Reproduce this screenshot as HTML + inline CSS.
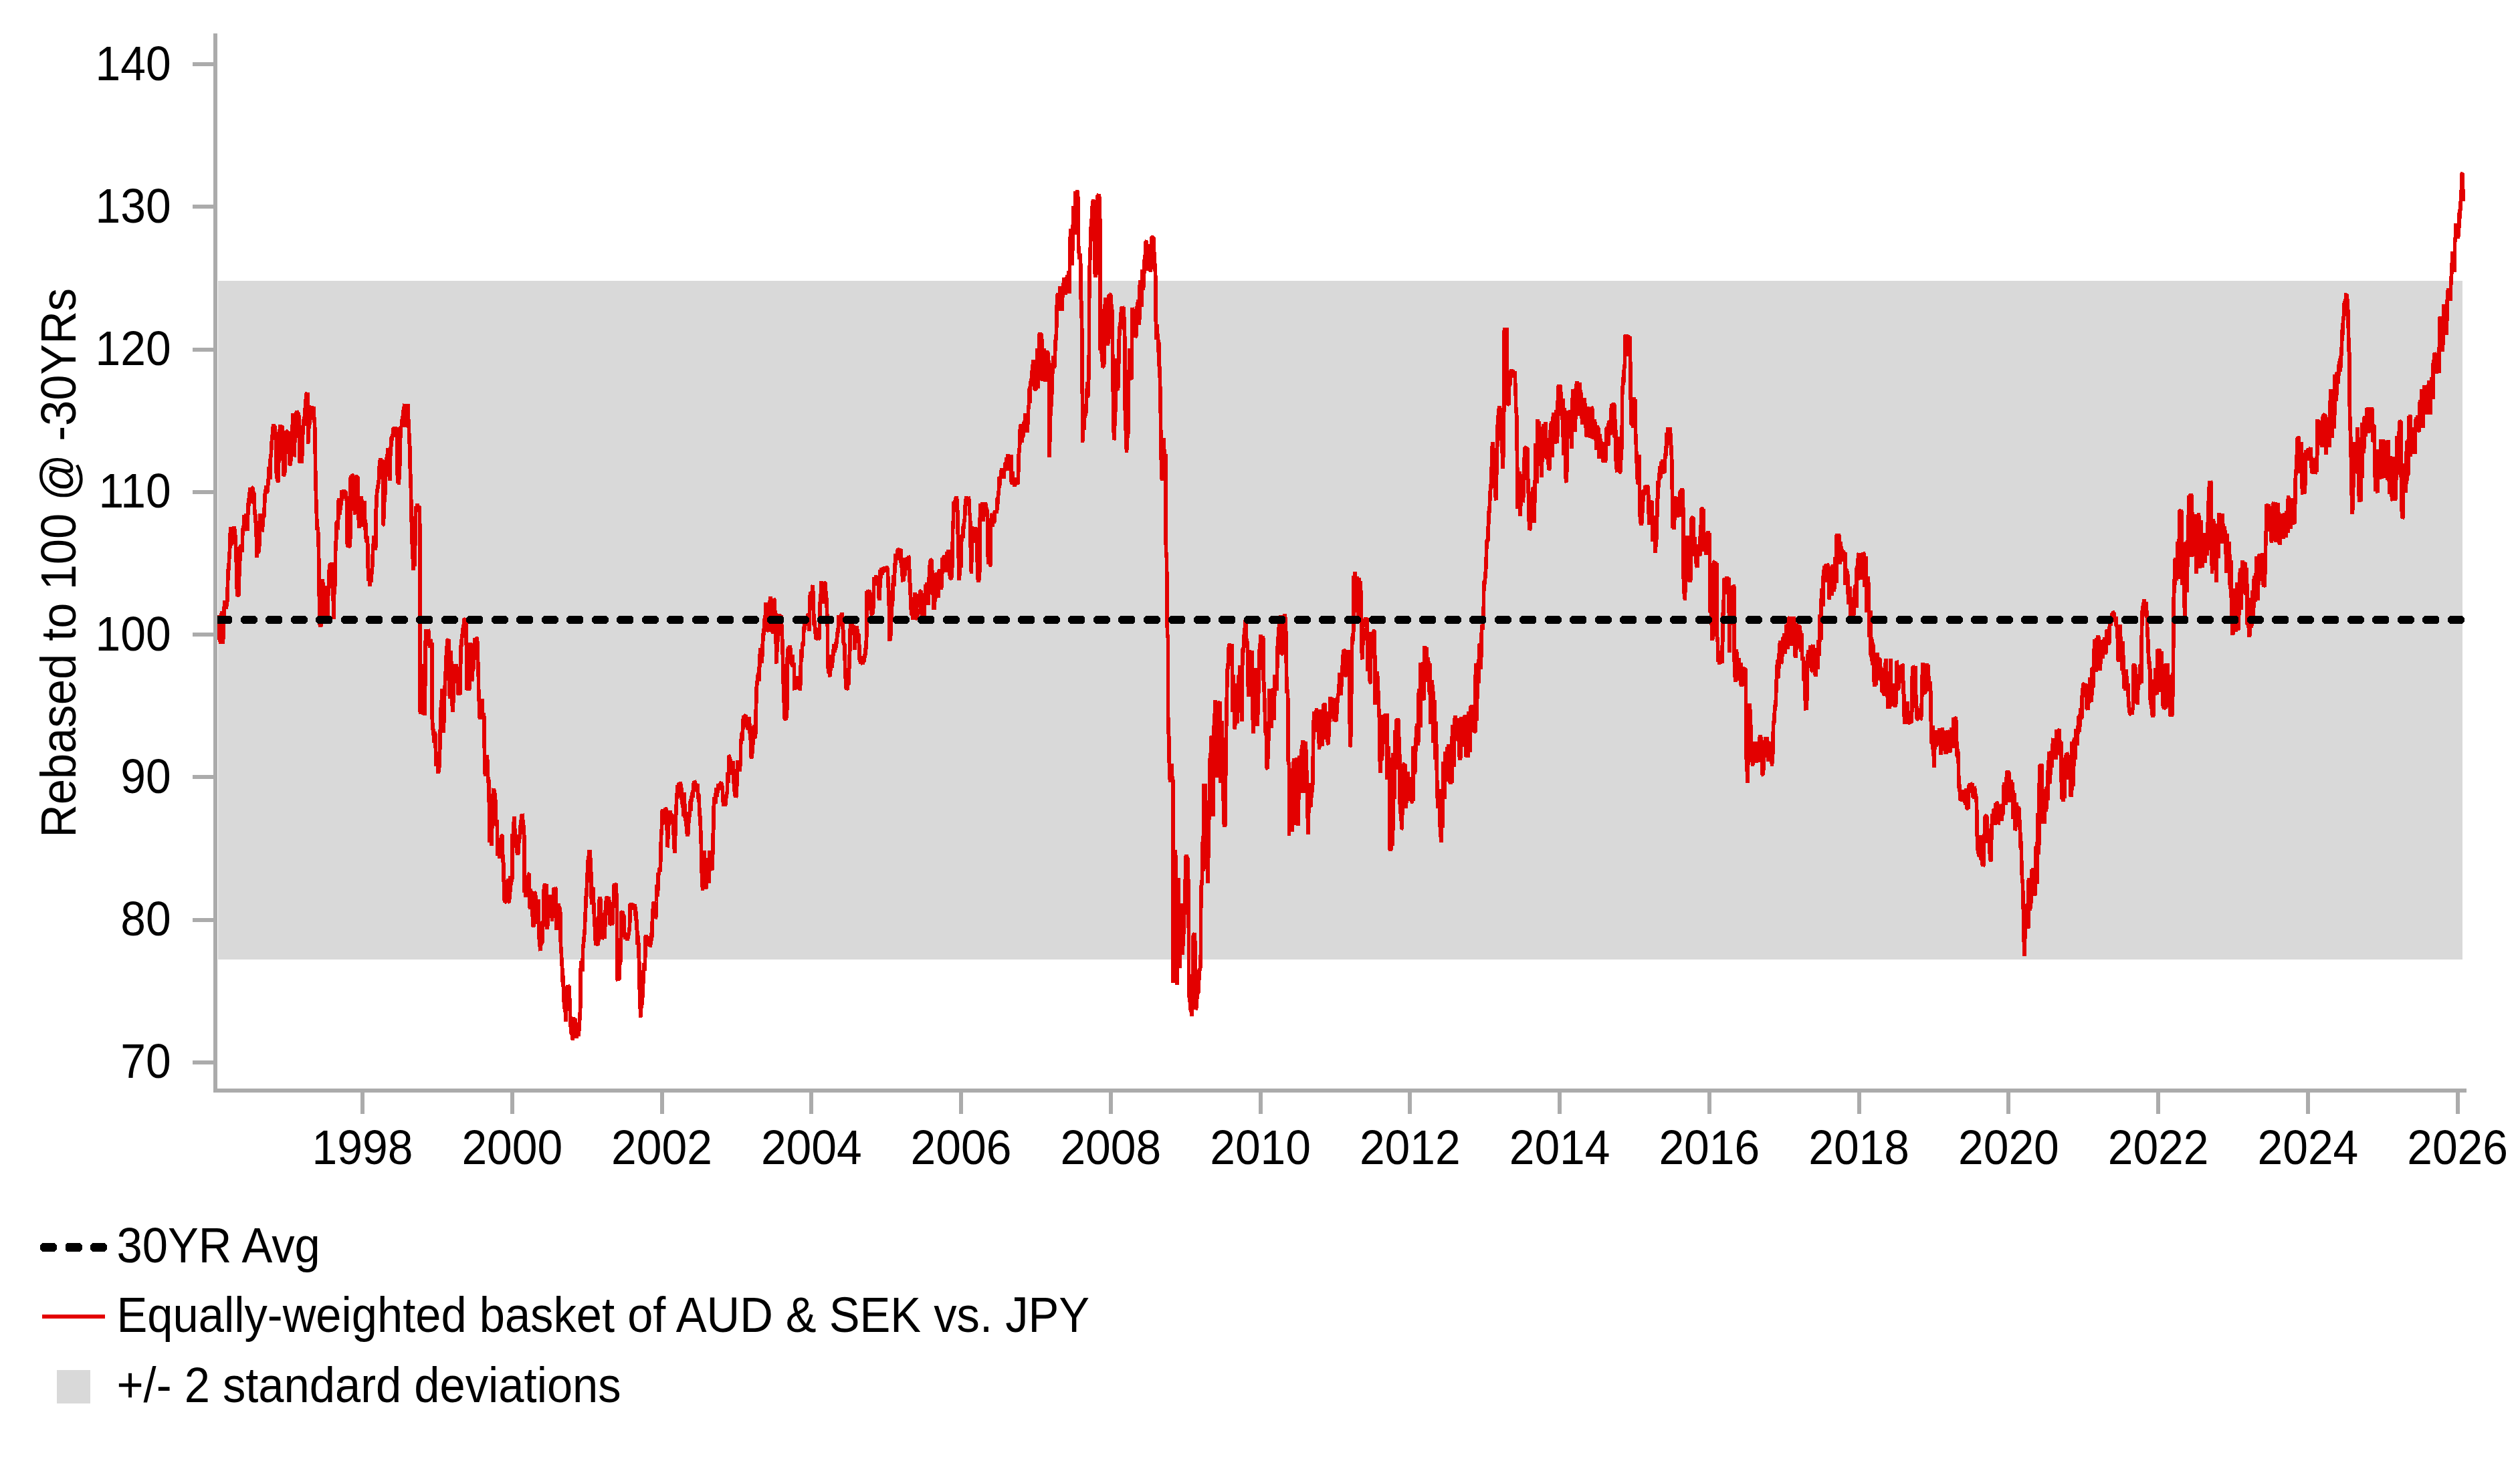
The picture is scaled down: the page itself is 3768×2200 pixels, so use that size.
<!DOCTYPE html>
<html><head><meta charset="utf-8"><title>Chart</title>
<style>
html,body{margin:0;padding:0;background:#fff;}
body{width:3768px;height:2200px;position:relative;overflow:hidden;}
.t{font-family:"Liberation Sans",sans-serif;font-size:67.8px;fill:#000;}
.u{font-family:"Liberation Sans",sans-serif;font-size:68.7px;fill:#000;}
</style></head><body>
<svg width="3768" height="2200" viewBox="0 0 3768 2200" style="position:absolute;left:0;top:0">
<defs><clipPath id="pc"><rect x="325" y="40" width="3370" height="1588"/></clipPath></defs>
<rect x="326" y="420" width="3356" height="1015" fill="#D9D9D9" shape-rendering="crispEdges"/>
<path d="M325.7 919.8L326.2 934.4L326.7 956.7L327.1 949.6L327.6 934.2L328.1 925.7L328.6 942.8L329.0 949.8L329.5 963.3L330.0 955.7L330.5 948.7L331.0 941.1L331.4 913.8L331.9 929.1L332.4 940.9L332.9 956.1L333.3 963.3L333.7 954.9L334.1 936.8L334.5 925.7L334.9 916.1L335.3 907.2L335.7 906.7L336.1 899.7L336.5 898.5L336.9 906.0L337.3 902.9L337.8 907.0L338.2 911.3L338.6 900.7L339.0 905.9L339.5 904.7L340.0 890.0L340.5 873.3L341.0 856.7L341.4 850.2L341.9 853.1L342.4 841.5L342.9 830.5L343.3 826.5L343.7 818.8L344.0 809.0L344.5 793.2L344.9 788.3L345.4 792.0L345.8 808.7L346.3 816.1L346.7 802.7L347.2 790.7L347.6 790.0L348.0 800.1L348.4 796.8L348.8 798.4L349.3 800.5L349.7 787.3L350.1 789.7L350.5 790.0L351.0 800.7L351.4 791.4L351.9 808.1L352.4 813.8L352.8 821.2L353.2 840.6L353.6 840.0L354.0 873.3L354.4 881.8L354.8 877.1L355.2 892.4L355.7 885.9L356.1 884.8L356.5 890.8L356.9 890.0L357.4 871.1L357.9 854.3L358.3 849.5L358.8 834.6L359.3 817.4L359.8 819.5L360.2 815.9L360.7 815.0L361.2 816.2L361.6 826.1L362.0 822.5L362.4 813.2L362.8 795.6L363.2 790.0L363.6 792.4L364.0 788.9L364.4 785.3L364.8 779.5L365.2 769.8L365.7 784.6L366.1 788.2L366.5 782.5L367.0 775.3L367.4 772.0L367.9 768.6L368.3 779.0L368.7 789.1L369.1 793.3L369.5 792.4L370.0 793.4L370.5 763.8L371.0 770.0L371.4 750.7L371.8 757.1L372.2 748.3L372.6 741.3L373.0 746.3L373.4 735.1L373.8 729.3L374.3 736.1L374.7 733.7L375.2 734.3L375.6 744.9L376.1 746.2L376.5 753.1L377.0 735.8L377.4 729.3L377.9 729.3L378.3 731.6L378.7 734.9L379.1 751.2L379.5 747.1L380.0 736.8L380.5 759.3L381.0 766.2L381.4 770.5L381.8 782.4L382.2 769.2L382.6 778.1L383.0 782.2L383.3 801.9L383.8 811.7L384.3 834.0L384.7 818.0L385.1 820.4L385.5 807.2L385.9 821.1L386.3 826.5L386.7 825.7L387.1 817.7L387.6 817.0L388.1 813.8L388.5 794.8L388.9 786.6L389.3 768.4L389.8 778.1L390.2 778.9L390.6 769.3L391.0 769.8L391.4 778.6L391.8 794.9L392.2 794.0L392.6 790.0L393.0 773.9L393.4 773.4L393.8 768.6L394.3 774.9L394.8 772.3L395.2 762.6L395.6 753.6L396.0 746.0L396.4 737.6L396.8 732.6L397.2 739.0L397.7 725.9L398.1 736.6L398.5 735.8L398.9 726.2L399.3 737.6L399.8 735.4L400.2 731.2L400.7 720.5L401.2 725.7L401.7 698.3L402.1 704.3L402.5 716.2L402.9 705.6L403.3 701.0L403.7 717.4L404.0 696.0L404.4 685.1L404.8 683.0L405.2 682.9L405.6 674.0L406.0 669.0L406.4 659.0L406.8 649.7L407.3 658.1L407.7 651.9L408.1 637.6L408.5 642.5L409.0 634.2L409.4 638.7L409.9 637.6L410.3 636.1L410.7 641.3L411.2 637.1L411.6 657.9L412.0 648.6L412.4 646.0L412.9 654.3L412.9 682.9L413.2 702.6L413.6 716.2L414.0 700.4L414.4 708.0L414.8 715.0L415.2 719.7L415.6 720.5L416.0 719.8L416.3 702.7L416.7 690.8L417.1 682.9L417.6 654.3L418.1 648.5L418.6 636.5L419.0 637.1L419.5 635.3L419.9 637.8L420.3 638.7L420.7 637.8L421.1 636.9L421.5 638.7L421.9 637.6L422.3 647.8L422.7 653.6L423.1 673.3L423.5 697.2L423.8 710.2L424.2 711.0L424.7 710.5L425.1 711.0L425.5 703.0L426.0 706.7L426.3 690.1L426.7 677.8L427.1 673.3L427.5 655.1L427.9 647.8L428.3 644.8L428.8 644.9L429.2 648.7L429.6 644.2L430.1 651.4L430.5 655.5L431.0 644.8L431.4 652.7L431.8 647.8L432.2 654.5L432.6 663.8L433.1 696.0L433.5 694.4L434.0 695.0L434.4 694.4L434.8 687.3L435.3 681.4L435.7 682.9L436.1 659.3L436.5 645.9L436.9 644.8L437.3 639.2L437.7 618.3L438.2 630.7L438.6 630.5L439.0 629.0L439.4 656.6L439.8 682.9L440.2 681.9L440.6 664.9L441.0 647.7L441.4 635.2L441.8 629.0L442.2 623.5L442.6 617.4L443.1 618.1L443.5 615.0L443.9 615.5L444.4 617.3L444.8 617.1L445.2 617.4L445.7 618.8L446.1 621.2L446.5 617.1L446.9 628.1L447.3 653.6L447.6 659.0L448.1 690.0L448.5 693.1L448.9 686.3L449.3 691.4L449.7 691.1L450.1 688.7L450.5 690.8L451.0 692.4L451.3 687.3L451.7 681.8L452.1 666.2L452.5 655.8L452.9 642.4L453.3 637.3L453.7 630.1L454.1 632.8L454.5 623.3L455.0 625.5L455.5 636.7L456.0 618.6L456.4 609.0L456.8 600.2L457.3 598.2L457.7 593.6L458.1 588.8L458.5 588.4L458.9 590.1L459.3 588.4L459.7 587.1L460.1 592.7L460.5 588.3L460.5 635.2L460.5 663.8L461.0 659.3L461.4 651.0L461.9 632.1L462.4 635.2L462.8 628.8L463.2 635.0L463.6 623.1L464.0 626.8L464.4 616.7L464.8 608.3L465.2 607.9L465.7 616.0L466.1 618.1L466.6 613.2L467.0 627.6L467.4 618.2L467.9 619.3L468.3 610.2L468.7 607.8L469.1 618.3L469.5 621.0L469.9 627.6L470.3 629.8L470.7 640.0L471.1 660.4L471.4 682.9L471.9 721.0L472.3 731.6L472.7 748.2L473.1 759.0L473.5 771.6L473.9 783.2L474.3 792.4L474.7 788.5L475.1 788.8L475.5 792.7L476.0 801.9L476.3 814.0L476.7 837.6L477.1 873.3L477.5 902.8L477.9 935.2L478.3 934.9L478.7 934.9L479.0 937.4L479.4 935.5L479.8 934.8L480.2 936.4L480.7 920.2L481.1 904.2L481.5 888.6L481.9 866.2L482.3 867.9L482.8 872.9L483.2 888.5L483.7 885.0L484.1 897.9L484.6 918.6L485.0 921.0L485.4 916.2L485.8 909.1L486.2 888.2L486.6 895.4L487.0 894.9L487.4 875.7L487.8 886.0L488.2 913.2L488.6 917.8L489.0 920.0L489.4 922.4L489.8 919.8L490.2 907.3L490.6 890.8L491.1 889.1L491.5 885.4L492.0 869.6L492.4 850.1L492.9 844.8L493.3 844.7L493.7 845.1L494.2 842.5L494.6 850.8L495.0 843.7L495.5 849.6L495.9 843.1L496.3 841.8L496.8 844.8L497.2 851.6L497.6 844.8L498.0 865.7L498.4 902.1L498.8 925.7L499.2 902.6L499.6 889.9L500.0 883.8L500.4 879.9L500.8 875.0L501.2 866.2L501.7 821.0L502.1 813.3L502.5 806.7L502.9 806.7L503.3 781.0L503.7 780.4L504.0 779.6L504.4 780.0L504.8 792.2L505.2 788.8L505.6 782.5L506.0 748.2L506.4 752.2L506.8 745.5L507.2 751.2L507.6 768.6L508.1 770.0L508.6 763.9L509.0 757.8L509.5 750.7L509.9 755.3L510.3 749.7L510.7 733.4L511.1 748.2L511.5 747.4L511.9 735.2L512.4 743.7L512.8 743.4L513.3 742.0L513.7 732.0L514.2 735.2L514.6 736.6L515.1 737.2L515.5 734.7L516.0 735.2L516.3 737.1L516.7 739.7L517.1 735.5L517.5 736.8L517.9 748.4L518.3 744.8L518.7 769.7L519.1 808.5L519.5 817.4L520.0 809.0L520.4 815.9L520.9 816.8L521.3 818.7L521.8 817.5L522.2 816.8L522.6 818.2L523.1 816.2L523.5 813.7L523.9 793.8L524.3 778.1L524.3 747.1L524.3 715.0L524.7 711.5L525.2 715.8L525.6 733.1L526.1 713.5L526.5 710.3L527.0 710.4L527.4 711.9L527.9 711.9L528.3 711.3L528.7 720.7L529.0 730.1L529.4 749.5L529.8 758.6L530.2 763.8L530.6 762.7L531.0 769.4L531.4 753.0L531.8 736.2L532.2 712.6L532.6 712.6L533.0 715.4L533.4 712.6L533.8 712.6L534.2 722.2L534.6 712.3L535.0 716.2L535.5 741.4L536.0 757.9L536.4 780.0L536.9 789.5L537.3 781.3L537.7 766.4L538.1 749.9L538.5 744.7L538.9 748.6L539.4 744.5L539.8 742.4L540.2 746.8L540.6 746.4L541.1 753.4L541.5 764.1L542.0 773.8L542.4 771.2L542.9 780.5L543.3 787.7L543.7 769.1L544.1 767.4L544.5 749.5L544.9 750.5L545.4 766.7L545.8 793.3L546.2 778.1L546.6 779.2L547.1 801.4L547.5 808.6L547.9 800.8L548.4 812.2L548.8 801.9L549.2 808.1L549.6 808.1L550.0 837.6L550.4 850.9L550.8 854.6L551.2 868.6L551.6 853.0L552.0 857.6L552.4 864.6L552.9 876.9L553.3 870.5L553.8 865.8L554.2 868.7L554.6 865.1L555.1 870.5L555.5 858.4L556.0 858.3L556.4 849.5L556.8 846.2L557.2 833.3L557.6 821.9L558.0 817.2L558.4 812.4L558.8 800.7L559.2 812.1L559.6 813.4L560.0 815.2L560.4 814.1L560.9 818.9L561.3 823.0L561.7 818.6L562.0 792.5L562.4 757.9L562.8 759.4L563.2 742.9L563.6 736.7L564.0 736.7L564.4 730.3L564.8 730.5L565.2 725.9L565.7 723.7L566.2 719.6L566.7 716.2L567.1 705.1L567.5 692.5L567.9 695.4L568.3 688.8L568.8 685.4L569.2 690.1L569.7 705.0L570.1 688.8L570.6 687.9L571.0 689.8L571.5 688.1L571.9 688.8L572.3 705.9L572.7 716.8L573.1 711.4L573.1 785.2L573.5 785.1L573.9 762.9L574.3 751.2L574.7 751.0L575.1 743.4L575.5 742.4L575.9 735.9L576.3 732.0L576.7 711.4L577.1 709.8L577.5 695.5L577.9 686.4L578.3 684.8L578.8 686.0L579.2 685.7L579.6 670.4L580.1 683.6L580.5 681.8L581.0 670.7L581.4 685.7L581.9 683.7L582.4 690.9L582.9 701.2L583.3 718.6L583.8 668.6L584.3 668.3L584.8 668.1L585.2 654.2L585.7 659.0L586.1 652.6L586.5 654.6L587.0 650.6L587.4 649.5L587.8 641.7L588.2 640.4L588.6 641.3L589.0 640.7L589.4 641.3L589.8 640.5L590.2 638.2L590.7 641.8L591.1 638.6L591.5 647.9L592.0 654.0L592.4 646.7L592.9 644.1L593.3 639.5L593.7 658.6L594.1 687.0L594.5 723.3L594.9 720.3L595.3 721.5L595.7 714.7L596.1 715.1L596.5 724.5L596.9 706.7L597.3 708.2L597.7 695.8L598.1 683.9L598.5 652.0L598.9 654.6L599.3 638.8L599.7 637.8L600.1 638.1L600.5 637.3L600.9 626.9L601.3 638.3L601.7 630.5L602.1 630.7L602.5 617.1L602.9 613.4L603.3 624.8L603.7 627.1L604.0 623.3L604.4 606.1L604.8 607.5L605.2 603.8L605.7 613.6L606.1 638.6L606.5 637.2L607.0 635.7L607.4 632.0L607.8 618.8L608.3 608.0L608.7 617.5L609.1 619.3L609.6 612.4L610.0 603.8L610.5 625.2L611.0 630.0L611.4 641.3L611.9 654.3L612.3 662.7L612.7 667.7L613.2 692.9L613.6 711.4L614.0 709.4L614.4 733.1L614.8 754.3L615.2 773.3L615.6 792.4L616.0 806.7L616.4 814.5L616.9 826.9L617.4 836.4L617.9 853.1L618.3 850.2L618.7 844.3L619.0 834.4L619.4 842.1L619.8 847.1L620.2 843.6L620.6 819.4L621.0 802.2L621.4 768.6L621.8 757.1L622.3 759.7L622.7 757.7L623.1 764.3L623.5 758.6L623.9 752.8L624.3 761.3L624.8 756.7L625.2 761.1L625.6 756.4L626.1 760.3L626.5 756.4L626.9 765.6L627.4 756.7L627.9 805.7L628.3 844.8L628.3 890.0L628.3 890.0L628.3 937.6L628.3 997.1L628.3 1065.0L628.8 1062.1L629.2 1068.1L629.7 1065.6L630.1 1049.7L630.5 1025.5L631.0 1009.3L631.4 993.6L631.9 999.9L632.3 1015.5L632.8 1031.5L633.2 1029.9L633.7 1024.6L634.1 1046.2L634.6 1054.6L635.0 1069.8L635.4 1053.7L635.8 1013.0L636.2 966.4L636.7 941.2L637.1 947.5L637.5 955.1L638.0 957.1L638.4 952.7L638.8 954.3L639.2 961.9L639.7 957.6L640.1 940.8L640.5 944.3L641.0 943.6L641.3 951.3L641.7 956.4L642.1 958.6L642.5 968.9L642.9 962.7L643.3 956.7L643.7 957.4L644.1 962.5L644.5 955.9L644.9 969.3L645.3 965.7L645.7 961.4L646.2 997.1L646.2 1044.8L646.2 1073.3L646.7 1081.3L647.1 1092.2L647.6 1090.0L648.0 1093.1L648.5 1101.9L648.9 1110.7L649.3 1099.5L649.7 1096.5L650.1 1094.8L650.5 1096.0L650.9 1098.4L651.3 1116.7L651.7 1134.0L652.1 1146.0L652.6 1140.1L653.0 1143.0L653.5 1140.0L653.9 1125.0L654.4 1136.2L654.8 1153.9L655.3 1156.0L655.7 1154.3L656.1 1144.0L656.5 1148.3L656.9 1146.7L657.3 1125.2L657.7 1120.4L658.1 1099.5L658.5 1086.4L659.0 1082.2L659.4 1055.1L659.9 1047.8L660.3 1048.2L660.7 1047.2L661.2 1030.5L661.7 1053.3L662.1 1062.1L662.6 1079.2L663.1 1096.0L663.5 1081.9L664.0 1077.6L664.4 1050.9L664.8 1035.8L665.2 1029.3L665.7 1017.0L666.2 1003.7L666.7 1006.7L667.1 985.2L667.6 974.4L668.1 969.7L668.6 963.0L669.0 956.7L669.4 956.7L669.8 956.4L670.2 957.8L670.6 956.1L671.0 958.3L671.4 972.1L671.9 999.1L672.4 1044.8L672.9 1016.5L673.3 1011.5L673.8 978.1L674.3 973.3L674.7 990.3L675.1 1012.2L675.5 1018.1L675.9 1023.9L676.3 1055.5L676.7 1061.2L677.1 1065.0L677.5 1052.0L677.9 1049.7L678.3 1023.9L678.7 1021.1L679.1 1018.6L679.5 993.6L680.0 1000.2L680.4 1016.3L680.9 1005.1L681.3 1003.5L681.7 993.6L682.2 998.0L682.6 994.8L683.0 1005.5L683.4 1002.5L683.8 1015.0L684.2 1005.3L684.6 1009.5L685.0 1038.8L685.4 1036.6L685.8 1039.2L686.2 1037.4L686.6 1035.6L687.0 1036.8L687.4 1037.6L687.8 1038.6L688.2 1014.6L688.6 995.0L689.0 981.7L689.5 959.7L690.0 967.1L690.5 951.1L691.0 948.3L691.4 953.6L691.8 941.7L692.2 940.2L692.6 944.7L693.0 933.8L693.4 934.5L693.8 925.7L694.3 925.8L694.7 929.3L695.1 924.0L695.6 936.0L696.0 925.6L696.5 926.2L696.9 925.2L697.3 957.7L697.7 1001.6L698.1 1031.7L698.5 1030.8L699.0 1030.2L699.4 1031.7L699.9 1031.0L700.3 1031.8L700.8 1030.0L701.2 1032.1L701.7 1030.5L702.1 999.5L702.5 978.7L702.9 961.4L703.3 966.3L703.8 971.9L704.2 978.4L704.6 996.2L705.1 1002.2L705.5 1017.8L706.0 1017.3L706.4 1009.0L706.9 1000.2L707.3 1003.6L707.8 999.7L708.2 978.5L708.7 962.5L709.1 970.3L709.6 962.4L710.0 954.3L710.4 961.6L710.9 970.4L711.3 976.5L711.8 981.0L712.2 972.1L712.7 963.4L713.1 954.3L713.5 952.7L713.9 967.9L714.3 985.7L714.8 992.4L715.2 998.4L715.6 1030.9L716.0 1035.2L716.4 1050.3L716.8 1062.7L717.2 1072.1L717.6 1075.7L718.0 1072.6L718.4 1071.8L718.8 1058.8L719.2 1068.9L719.6 1052.1L720.0 1056.7L720.4 1056.2L720.9 1044.7L721.3 1055.4L721.8 1070.9L722.2 1069.9L722.7 1068.4L723.1 1066.2L723.5 1081.1L723.9 1075.5L724.3 1071.0L724.3 1113.8L724.8 1151.9L725.2 1158.2L725.6 1151.1L726.0 1160.9L726.5 1141.3L726.9 1135.4L727.3 1136.0L727.7 1129.4L728.1 1132.4L728.6 1135.2L729.0 1140.1L729.4 1149.5L729.8 1167.9L730.2 1168.1L730.6 1173.5L731.0 1166.2L731.0 1187.6L731.4 1200.8L731.9 1206.7L731.9 1232.9L731.9 1225.7L731.9 1260.2L732.3 1249.6L732.8 1246.8L733.2 1241.5L733.7 1243.2L734.1 1243.1L734.6 1258.0L735.0 1265.0L735.4 1240.3L735.8 1237.2L736.2 1216.2L736.7 1201.3L737.1 1193.7L737.6 1180.9L738.1 1179.3L738.5 1183.4L738.9 1181.6L739.3 1181.2L739.7 1188.0L740.1 1186.0L740.5 1193.9L741.0 1199.5L741.4 1223.9L741.9 1228.8L742.4 1235.1L742.9 1225.7L743.3 1232.0L743.8 1263.8L744.3 1279.7L744.8 1270.7L745.2 1279.3L745.7 1279.0L746.1 1278.1L746.5 1278.4L746.9 1282.1L747.3 1283.8L747.7 1263.2L748.2 1274.1L748.6 1278.1L749.0 1271.5L749.4 1251.6L749.8 1251.5L750.2 1249.9L750.6 1249.5L751.0 1249.5L751.4 1265.2L751.9 1289.7L752.4 1283.4L752.9 1294.8L753.2 1313.5L753.6 1325.7L754.0 1337.8L754.4 1347.4L754.8 1340.0L755.2 1349.5L755.7 1349.3L756.1 1348.6L756.5 1348.9L757.0 1345.9L757.4 1335.4L757.8 1333.8L758.2 1327.8L758.7 1323.4L759.1 1321.1L759.5 1313.8L759.9 1322.0L760.3 1336.5L760.7 1348.9L761.2 1348.9L761.6 1345.8L762.0 1338.2L762.4 1340.0L762.8 1330.8L763.3 1310.5L763.7 1316.4L764.2 1324.0L764.6 1312.9L765.1 1319.1L765.5 1316.0L766.0 1311.4L766.0 1271.0L766.0 1247.1L766.4 1256.0L766.8 1267.5L767.2 1262.6L767.6 1258.6L768.0 1245.6L768.4 1227.4L768.8 1221.0L769.3 1231.2L769.7 1240.2L770.1 1245.1L770.6 1248.7L771.0 1251.8L771.5 1249.4L771.9 1254.3L772.3 1248.2L772.7 1257.3L773.1 1271.2L773.5 1277.9L773.9 1277.1L774.3 1278.1L774.7 1276.3L775.1 1275.3L775.5 1266.2L775.9 1253.8L776.3 1251.6L776.7 1254.3L777.1 1253.5L777.6 1250.0L778.1 1235.6L778.6 1232.9L779.0 1239.6L779.4 1224.3L779.8 1221.9L780.2 1218.0L780.6 1224.3L781.0 1217.2L781.4 1218.6L781.8 1230.6L782.2 1242.7L782.6 1240.6L783.0 1233.7L783.4 1242.1L783.8 1251.9L784.3 1335.2L784.7 1318.2L785.1 1325.8L785.5 1338.4L785.9 1339.9L786.3 1341.0L786.7 1340.0L787.1 1332.6L787.5 1326.1L788.0 1324.4L788.4 1318.6L788.8 1328.4L789.2 1328.3L789.7 1319.4L790.1 1313.6L790.5 1306.9L791.0 1306.7L791.3 1317.2L791.7 1336.5L792.1 1356.7L792.6 1359.5L793.0 1338.3L793.5 1329.0L793.9 1336.8L794.4 1344.7L794.8 1340.6L795.2 1335.2L795.7 1333.6L796.1 1363.2L796.5 1374.6L796.9 1385.7L797.4 1384.8L797.8 1385.7L798.2 1360.4L798.7 1356.5L799.1 1334.2L799.6 1334.7L800.0 1335.1L800.5 1342.4L800.9 1339.1L801.3 1345.1L801.7 1356.4L802.1 1357.5L802.5 1380.4L802.9 1381.7L803.3 1373.4L803.8 1361.2L804.3 1352.6L804.8 1344.8L805.2 1361.6L805.6 1375.9L806.0 1386.6L806.4 1406.7L806.8 1412.3L807.3 1415.4L807.7 1419.5L808.1 1422.1L808.5 1415.3L809.0 1411.7L809.4 1411.5L809.9 1412.0L810.3 1403.7L810.7 1409.3L811.2 1406.7L811.6 1388.2L812.0 1377.3L812.4 1377.6L812.9 1354.3L813.2 1334.8L813.6 1323.3L814.0 1329.6L814.5 1321.5L814.9 1323.9L815.3 1334.8L815.8 1327.7L816.2 1332.4L816.7 1322.1L817.1 1341.2L817.5 1359.1L817.9 1378.9L818.3 1390.0L818.7 1384.3L819.1 1374.5L819.5 1369.4L819.9 1367.4L820.3 1351.7L820.7 1346.0L821.2 1352.1L821.6 1349.0L822.0 1350.7L822.5 1340.1L822.9 1344.3L823.4 1338.1L823.8 1344.8L824.2 1351.3L824.6 1348.6L825.1 1364.4L825.5 1378.1L825.9 1366.2L826.3 1359.9L826.7 1344.6L827.1 1345.9L827.5 1340.9L827.9 1329.3L828.3 1328.7L828.7 1329.0L829.2 1330.4L829.6 1328.6L830.1 1330.9L830.5 1326.9L831.0 1330.0L831.4 1361.0L831.9 1390.5L832.3 1385.3L832.8 1389.2L833.2 1384.2L833.7 1370.7L834.1 1360.7L834.6 1368.2L835.0 1356.7L835.4 1351.6L835.8 1362.1L836.2 1355.1L836.6 1369.8L837.0 1362.4L837.4 1356.7L837.7 1364.9L838.1 1392.4L838.6 1425.7L839.0 1416.1L839.5 1427.7L840.0 1442.0L840.5 1446.0L840.9 1451.8L841.3 1469.4L841.7 1462.9L842.1 1459.0L842.5 1484.4L842.9 1476.0L843.3 1497.1L843.8 1509.2L844.3 1501.2L844.8 1505.2L845.2 1513.8L845.7 1500.3L846.2 1527.6L846.6 1515.5L847.1 1493.1L847.5 1488.6L847.9 1474.8L848.4 1477.3L848.8 1475.7L849.2 1473.5L849.7 1474.5L850.1 1479.6L850.5 1499.6L851.0 1474.5L851.4 1488.2L851.9 1497.5L852.4 1501.9L852.9 1536.4L853.3 1533.2L853.8 1543.9L854.3 1544.8L854.8 1547.1L855.2 1546.0L855.6 1551.5L856.0 1548.2L856.4 1555.5L856.8 1538.4L857.2 1529.1L857.6 1521.4L858.0 1524.1L858.4 1523.5L858.8 1523.3L859.2 1524.8L859.6 1538.8L860.0 1532.0L860.4 1522.9L860.8 1544.3L861.2 1547.1L861.6 1542.8L862.0 1552.6L862.4 1549.1L862.8 1541.7L863.2 1531.5L863.6 1547.1L864.0 1546.7L864.5 1547.5L864.9 1549.1L865.3 1546.6L865.8 1540.1L866.2 1530.7L866.7 1525.7L867.1 1517.6L867.5 1512.2L867.9 1501.9L868.3 1450.7L868.7 1436.8L869.1 1444.2L869.6 1451.0L870.0 1451.7L870.4 1450.9L870.8 1452.5L871.2 1442.4L871.6 1417.6L872.0 1416.7L872.4 1411.4L872.9 1406.7L873.3 1401.4L873.8 1396.5L874.3 1392.4L874.7 1377.5L875.1 1374.1L875.5 1359.0L875.9 1356.7L876.3 1339.7L876.7 1340.3L877.1 1335.2L877.6 1321.1L878.1 1311.3L878.6 1299.5L879.0 1302.7L879.5 1280.5L880.0 1284.6L880.5 1284.3L881.0 1271.4L881.4 1274.4L881.8 1271.1L882.2 1273.9L882.6 1280.5L883.0 1295.1L883.4 1293.1L883.8 1309.0L883.8 1332.9L884.2 1339.2L884.6 1350.9L885.0 1352.6L885.4 1350.0L885.8 1340.7L886.2 1330.5L886.7 1329.6L887.1 1326.7L887.6 1347.7L888.1 1363.8L888.5 1369.1L888.9 1375.7L889.3 1385.1L889.7 1388.3L890.1 1398.3L890.5 1411.9L890.9 1412.3L891.4 1409.7L891.8 1396.7L892.3 1407.2L892.7 1408.6L893.2 1413.0L893.6 1413.6L894.1 1411.0L894.5 1411.9L894.9 1403.2L895.3 1374.7L895.7 1344.8L896.1 1347.9L896.5 1343.3L896.9 1344.1L897.3 1341.5L897.7 1345.0L898.1 1344.3L898.5 1351.6L898.9 1383.2L899.3 1403.1L899.7 1402.8L900.2 1404.4L900.6 1403.6L901.0 1402.2L901.5 1401.2L901.9 1385.3L902.3 1386.1L902.7 1396.6L903.2 1400.9L903.6 1403.2L904.0 1402.4L904.4 1400.4L904.8 1378.9L905.2 1368.6L905.7 1347.5L906.2 1355.2L906.7 1343.7L907.1 1341.2L907.6 1342.0L908.0 1345.0L908.4 1359.3L908.8 1352.7L909.2 1347.5L909.6 1350.8L910.1 1343.4L910.5 1341.2L911.0 1354.9L911.4 1370.5L911.9 1382.9L912.4 1382.6L912.8 1377.7L913.3 1370.5L913.7 1381.0L914.2 1373.8L914.6 1380.5L915.1 1383.9L915.5 1381.8L916.0 1380.5L916.4 1366.8L916.8 1353.3L917.2 1352.0L917.6 1344.8L918.0 1332.3L918.3 1323.3L918.8 1321.2L919.2 1328.4L919.7 1335.7L920.1 1323.9L920.5 1322.2L921.0 1322.0L921.4 1323.8L921.9 1346.3L922.4 1344.8L922.4 1416.2L922.4 1435.2L922.9 1447.8L923.3 1465.5L923.8 1466.2L924.2 1456.5L924.6 1465.7L925.0 1464.8L925.4 1456.2L925.8 1458.0L926.2 1465.0L926.6 1437.5L927.0 1442.9L927.4 1440.5L927.9 1437.6L928.2 1408.6L928.6 1394.8L928.6 1363.8L929.0 1363.9L929.4 1363.7L929.8 1363.0L930.2 1365.0L930.6 1378.3L931.0 1370.4L931.4 1363.3L931.8 1368.8L932.2 1369.6L932.6 1369.8L933.0 1370.0L933.4 1379.2L933.8 1402.0L934.2 1400.4L934.6 1403.4L935.0 1404.3L935.4 1397.9L935.9 1394.8L936.3 1404.5L936.8 1403.6L937.2 1402.8L937.7 1406.2L938.1 1405.4L938.6 1403.1L939.0 1395.6L939.4 1404.1L939.8 1395.4L940.2 1398.3L940.6 1393.5L941.0 1387.6L941.3 1388.2L941.7 1379.0L942.1 1373.3L942.1 1353.1L942.5 1352.6L942.9 1352.8L943.3 1352.6L943.7 1353.4L944.1 1350.3L944.5 1353.1L945.0 1360.5L945.4 1352.4L945.9 1353.7L946.3 1355.0L946.8 1352.6L947.2 1353.2L947.6 1352.3L948.1 1356.7L948.5 1356.1L948.9 1354.3L949.3 1352.7L949.7 1356.6L950.1 1370.4L950.5 1368.6L951.0 1363.1L951.4 1377.9L951.9 1374.6L952.4 1392.4L952.8 1392.5L953.2 1412.8L953.6 1411.8L954.0 1404.3L954.4 1399.0L954.8 1415.7L955.2 1430.5L955.6 1436.3L956.0 1447.7L956.4 1482.9L956.8 1488.7L957.2 1500.3L957.6 1522.1L958.0 1512.9L958.4 1506.8L958.8 1506.2L959.2 1507.7L959.6 1502.8L960.0 1501.9L960.4 1495.2L960.8 1489.8L961.2 1475.7L961.6 1469.7L962.0 1471.1L962.4 1449.5L962.9 1440.1L963.3 1441.7L963.8 1452.1L964.3 1442.4L964.8 1428.9L965.2 1400.0L965.7 1400.4L966.1 1398.9L966.5 1400.9L967.0 1402.0L967.4 1414.2L967.8 1409.6L968.2 1406.5L968.7 1404.0L969.1 1414.8L969.5 1400.0L969.9 1406.5L970.3 1411.8L970.7 1404.5L971.1 1403.0L971.5 1404.3L971.9 1416.2L972.3 1414.6L972.7 1403.5L973.1 1400.8L973.5 1412.8L973.9 1399.1L974.3 1394.8L974.7 1401.8L975.1 1386.2L975.5 1373.3L975.9 1365.2L976.3 1359.2L976.7 1363.1L977.1 1348.8L977.5 1349.6L977.9 1359.0L978.3 1359.1L978.7 1363.4L979.1 1360.6L979.5 1364.7L979.9 1373.8L980.3 1372.9L980.7 1372.1L981.1 1366.3L981.5 1348.5L981.9 1323.3L982.3 1333.2L982.7 1332.1L983.1 1333.3L983.5 1341.0L983.9 1319.0L984.3 1305.5L984.7 1306.7L985.2 1309.1L985.6 1302.3L986.1 1300.9L986.5 1297.1L986.9 1298.6L987.4 1303.8L987.7 1287.6L988.1 1271.0L988.6 1248.7L989.0 1247.1L989.0 1240.0L989.5 1241.8L990.0 1219.2L990.5 1210.2L990.9 1220.7L991.3 1230.8L991.8 1219.8L992.2 1223.4L992.7 1222.5L993.1 1212.6L993.5 1225.7L994.0 1220.2L994.4 1212.7L994.8 1210.8L995.3 1208.2L995.7 1209.0L996.1 1224.9L996.5 1237.3L996.9 1238.2L997.3 1240.4L997.7 1252.1L998.1 1267.4L998.5 1259.7L998.9 1248.0L999.3 1246.7L999.7 1233.5L1000.1 1232.7L1000.5 1225.8L1001.0 1223.3L1001.4 1232.5L1001.8 1211.7L1002.2 1219.2L1002.7 1219.1L1003.1 1218.1L1003.5 1217.4L1004.0 1218.9L1004.4 1218.4L1004.8 1219.7L1005.2 1218.1L1005.7 1224.9L1006.1 1229.3L1006.6 1233.7L1007.0 1247.8L1007.5 1249.6L1007.9 1262.0L1008.4 1270.8L1008.8 1275.7L1009.3 1258.8L1009.8 1246.8L1010.2 1238.8L1010.7 1217.4L1011.1 1205.0L1011.5 1202.0L1011.9 1186.4L1012.3 1194.0L1012.7 1192.6L1013.1 1174.5L1013.5 1177.9L1013.9 1186.3L1014.4 1176.7L1014.8 1173.3L1015.2 1172.0L1015.7 1172.9L1016.1 1170.1L1016.5 1172.6L1017.0 1174.2L1017.4 1169.7L1017.9 1174.6L1018.3 1172.9L1018.8 1180.4L1019.2 1196.2L1019.6 1193.4L1020.0 1190.0L1020.5 1207.5L1021.0 1195.1L1021.4 1206.7L1021.8 1220.9L1022.2 1195.0L1022.7 1189.8L1023.1 1185.4L1023.5 1198.6L1023.9 1208.4L1024.3 1223.3L1024.7 1222.2L1025.1 1214.2L1025.5 1236.0L1025.9 1231.8L1026.3 1215.8L1026.7 1221.0L1027.0 1231.2L1027.4 1249.0L1027.8 1240.1L1028.3 1251.1L1028.7 1248.0L1029.2 1229.3L1029.6 1231.8L1030.1 1228.3L1030.5 1222.7L1031.0 1219.7L1031.4 1213.8L1031.8 1212.0L1032.2 1200.0L1032.6 1195.2L1033.0 1209.8L1033.4 1212.8L1033.8 1192.4L1034.2 1193.2L1034.6 1184.7L1035.0 1189.6L1035.4 1186.2L1035.9 1192.6L1036.3 1184.0L1036.7 1173.3L1037.1 1171.4L1037.6 1175.8L1038.0 1171.0L1038.4 1168.3L1038.9 1168.8L1039.3 1173.1L1039.8 1171.0L1040.2 1181.2L1040.7 1174.4L1041.1 1176.4L1041.5 1176.1L1042.0 1178.2L1042.4 1184.9L1042.9 1175.2L1043.3 1172.1L1043.7 1187.6L1044.1 1187.0L1044.5 1199.5L1044.9 1188.1L1045.4 1196.4L1045.8 1213.9L1046.2 1221.0L1046.7 1219.8L1047.1 1229.9L1047.6 1240.0L1048.1 1252.4L1048.6 1271.0L1049.0 1281.1L1049.5 1315.8L1050.0 1315.7L1050.5 1331.7L1050.9 1325.6L1051.3 1328.0L1051.7 1314.3L1052.1 1289.0L1052.5 1280.0L1052.9 1272.1L1053.3 1291.4L1053.7 1283.6L1054.0 1296.8L1054.4 1305.1L1054.8 1302.9L1055.2 1323.3L1055.6 1329.5L1056.0 1327.5L1056.4 1314.2L1056.8 1307.3L1057.2 1309.5L1057.6 1282.9L1058.0 1292.5L1058.4 1299.6L1058.8 1305.1L1059.2 1308.0L1059.6 1312.1L1060.0 1321.0L1060.4 1309.5L1060.8 1291.4L1061.2 1272.1L1061.6 1277.7L1062.1 1289.8L1062.5 1296.2L1063.0 1301.6L1063.4 1297.6L1063.8 1289.5L1064.3 1300.7L1064.7 1301.1L1065.1 1294.9L1065.5 1282.0L1066.0 1268.6L1066.3 1246.8L1066.7 1240.0L1067.1 1211.0L1067.6 1199.5L1068.0 1192.1L1068.5 1199.9L1068.9 1196.2L1069.3 1201.1L1069.8 1201.7L1070.2 1190.7L1070.6 1178.3L1071.0 1180.1L1071.5 1190.2L1071.9 1182.9L1072.3 1192.2L1072.8 1180.1L1073.2 1185.2L1073.6 1181.7L1074.1 1172.6L1074.5 1175.1L1074.9 1180.9L1075.4 1178.8L1075.8 1177.2L1076.2 1182.3L1076.7 1171.0L1077.1 1171.5L1077.6 1170.3L1078.0 1170.0L1078.5 1172.5L1078.9 1175.4L1079.3 1171.1L1079.8 1177.3L1080.2 1175.7L1080.6 1187.4L1081.0 1190.8L1081.4 1201.2L1081.8 1206.1L1082.2 1202.3L1082.6 1204.3L1083.1 1203.3L1083.5 1206.0L1083.9 1203.4L1084.4 1205.5L1084.8 1202.8L1085.2 1199.7L1085.6 1191.6L1086.1 1193.8L1086.5 1187.9L1086.9 1184.5L1087.4 1187.6L1087.4 1155.5L1087.8 1164.3L1088.3 1160.4L1088.7 1170.4L1089.1 1169.2L1089.6 1152.8L1090.0 1130.1L1090.5 1130.5L1090.9 1133.9L1091.4 1136.1L1091.8 1135.9L1092.3 1135.2L1092.7 1147.4L1093.2 1146.8L1093.6 1151.8L1094.1 1146.0L1094.5 1142.4L1094.9 1152.9L1095.3 1159.0L1095.7 1141.9L1096.1 1138.4L1096.5 1148.7L1096.9 1151.9L1097.3 1170.4L1097.7 1178.5L1098.2 1179.7L1098.6 1190.0L1099.0 1186.9L1099.4 1191.5L1099.8 1190.3L1100.3 1191.9L1100.7 1191.4L1101.1 1190.9L1101.5 1175.1L1102.0 1172.3L1102.4 1175.7L1102.4 1142.4L1102.8 1146.2L1103.2 1136.9L1103.6 1144.4L1104.0 1140.0L1104.5 1139.0L1104.9 1137.8L1105.4 1149.1L1105.8 1153.7L1106.3 1145.7L1106.7 1142.0L1107.2 1145.5L1107.6 1137.6L1107.6 1113.8L1108.1 1109.7L1108.6 1100.7L1109.0 1098.4L1109.5 1094.8L1109.9 1108.2L1110.3 1098.2L1110.7 1090.0L1111.1 1075.6L1111.5 1077.8L1111.9 1070.5L1112.4 1071.7L1112.8 1071.8L1113.3 1071.9L1113.7 1069.6L1114.2 1071.6L1114.6 1070.0L1115.1 1069.7L1115.5 1072.2L1116.0 1073.3L1116.3 1087.6L1116.7 1073.4L1117.1 1085.2L1117.6 1086.2L1118.0 1088.7L1118.4 1091.5L1118.9 1085.9L1119.3 1073.9L1119.7 1072.3L1120.2 1081.3L1120.6 1080.6L1121.0 1088.1L1121.5 1099.9L1121.9 1086.4L1122.3 1106.0L1122.7 1109.9L1123.2 1131.7L1123.6 1135.2L1124.0 1128.8L1124.5 1126.4L1125.0 1126.6L1125.5 1118.6L1125.9 1107.5L1126.3 1095.8L1126.7 1087.6L1127.1 1088.3L1127.6 1084.3L1128.0 1087.4L1128.5 1098.4L1128.9 1103.6L1129.3 1104.0L1129.8 1096.3L1130.2 1086.4L1130.2 1066.2L1130.6 1054.6L1131.0 1042.4L1131.4 1025.4L1131.9 1023.3L1132.3 1018.6L1132.8 1010.5L1133.2 1010.2L1133.7 1011.4L1134.1 1015.1L1134.6 996.6L1135.0 1018.6L1135.4 1012.5L1135.8 991.0L1136.2 985.2L1136.6 968.7L1137.1 980.4L1137.5 980.8L1138.0 980.1L1138.4 978.3L1138.9 991.4L1139.3 982.2L1139.8 981.7L1140.2 965.7L1140.6 958.2L1141.0 959.0L1141.3 947.0L1141.7 949.6L1142.1 940.0L1142.6 946.0L1143.0 929.5L1143.5 922.8L1143.9 929.1L1144.4 918.7L1144.8 914.9L1145.2 900.7L1145.7 913.7L1146.1 924.1L1146.5 919.2L1146.9 940.1L1147.3 935.8L1147.7 942.1L1148.2 943.6L1148.6 943.6L1149.0 943.9L1149.5 936.8L1149.9 939.6L1150.3 922.8L1150.8 910.1L1151.2 901.0L1151.7 891.9L1152.1 909.3L1152.5 919.7L1152.9 920.5L1153.3 923.8L1153.7 922.6L1154.0 943.6L1154.5 945.3L1154.9 937.4L1155.4 936.1L1155.8 947.9L1156.3 927.9L1156.7 908.7L1157.2 895.2L1157.6 896.0L1158.1 898.4L1158.6 909.1L1159.0 931.6L1159.5 916.2L1159.9 938.3L1160.4 965.3L1160.8 987.0L1161.2 992.4L1161.6 973.2L1162.1 974.4L1162.5 969.1L1163.0 939.9L1163.4 939.5L1163.8 918.6L1164.3 919.8L1164.7 918.1L1165.1 921.0L1165.5 938.7L1166.0 944.4L1166.4 940.0L1166.8 930.7L1167.2 922.8L1167.6 921.0L1168.1 920.4L1168.6 931.3L1169.0 949.5L1169.5 950.7L1169.9 962.8L1170.3 974.8L1170.7 994.8L1171.1 1002.2L1171.4 1025.7L1171.9 1044.6L1172.4 1051.9L1172.8 1074.2L1173.3 1074.4L1173.7 1070.5L1174.1 1076.0L1174.6 1076.4L1175.0 1075.1L1175.5 1075.7L1175.9 1071.2L1176.3 1063.8L1176.7 1061.4L1177.1 1056.7L1177.1 990.0L1177.6 976.5L1178.1 970.7L1178.6 971.6L1179.0 967.4L1179.5 973.7L1179.9 970.0L1180.3 968.3L1180.7 965.7L1181.1 969.4L1181.5 967.2L1181.9 971.0L1182.4 982.4L1182.9 992.8L1183.3 992.4L1183.8 994.8L1184.2 991.6L1184.7 978.6L1185.1 996.1L1185.6 996.5L1186.0 994.9L1186.5 994.0L1186.9 992.2L1187.4 993.6L1187.4 1030.5L1187.8 1031.0L1188.2 1029.2L1188.6 1031.7L1189.1 1023.2L1189.5 1028.7L1189.9 1030.1L1190.3 1028.9L1190.7 1027.7L1191.2 1022.9L1191.6 1016.9L1192.0 1015.2L1192.4 1014.4L1192.8 1010.9L1193.3 1024.0L1193.7 1020.7L1194.1 1018.2L1194.5 1030.5L1194.9 1019.5L1195.3 1024.1L1195.7 1017.1L1196.1 1028.7L1196.5 1033.1L1196.9 1013.8L1197.3 995.8L1197.7 989.8L1198.1 971.0L1198.5 975.5L1198.9 983.5L1199.3 978.7L1199.7 965.2L1200.1 961.0L1200.5 961.4L1201.0 965.8L1201.4 957.8L1201.9 937.3L1202.4 942.4L1202.8 940.6L1203.2 927.2L1203.6 933.7L1204.0 925.7L1204.5 927.4L1204.9 924.8L1205.4 927.4L1205.8 926.2L1206.3 927.4L1206.7 929.6L1207.2 934.9L1207.6 925.7L1208.0 928.2L1208.4 917.4L1208.8 929.8L1209.2 931.6L1209.6 941.4L1210.0 943.6L1210.4 927.9L1210.8 906.4L1211.2 892.9L1211.6 885.5L1212.0 891.8L1212.4 897.1L1212.8 894.2L1213.2 894.1L1213.6 883.7L1214.0 888.8L1214.4 888.7L1214.8 876.3L1215.2 875.7L1215.7 884.3L1216.1 893.0L1216.6 916.9L1217.0 922.1L1217.4 936.5L1217.9 928.6L1218.3 932.9L1218.8 939.8L1219.2 943.1L1219.7 956.0L1220.1 954.7L1220.6 955.7L1221.0 946.9L1221.5 944.2L1221.9 954.8L1222.4 955.6L1222.8 957.0L1223.2 950.6L1223.7 948.8L1224.1 950.5L1224.6 955.3L1225.0 955.3L1225.5 932.9L1225.9 913.9L1226.3 901.7L1226.7 890.0L1227.1 891.2L1227.6 884.7L1228.1 869.5L1228.6 871.0L1229.0 886.9L1229.4 881.4L1229.8 889.3L1230.2 899.5L1230.6 895.8L1231.0 902.5L1231.4 884.6L1231.8 875.9L1232.2 873.1L1232.6 880.5L1233.1 871.7L1233.5 871.7L1234.0 871.8L1234.4 881.7L1234.9 887.9L1235.3 883.7L1235.7 895.5L1236.2 904.3L1236.6 915.9L1237.0 929.0L1237.4 937.6L1237.4 968.6L1237.4 999.5L1237.8 998.0L1238.3 985.0L1238.7 988.5L1239.1 1004.8L1239.6 1007.8L1240.0 996.7L1240.5 1011.4L1240.9 1011.0L1241.3 1011.9L1241.7 1002.3L1242.1 990.6L1242.6 980.8L1243.0 979.7L1243.4 980.5L1243.8 992.4L1244.3 999.0L1244.8 988.4L1245.2 989.1L1245.7 980.5L1246.1 971.1L1246.5 977.4L1246.9 968.7L1247.3 963.0L1247.8 975.9L1248.2 971.4L1248.6 973.3L1249.0 965.5L1249.4 967.0L1249.8 960.5L1250.2 968.6L1250.6 962.9L1251.0 961.4L1251.4 954.5L1251.9 950.9L1252.4 944.7L1252.9 947.1L1253.3 939.8L1253.7 932.3L1254.0 924.1L1254.4 920.1L1254.8 931.2L1255.2 925.7L1255.6 923.0L1256.0 923.7L1256.4 932.4L1256.8 936.9L1257.2 934.8L1257.6 918.1L1258.0 919.9L1258.4 919.8L1258.8 916.4L1259.3 929.1L1259.7 923.6L1260.1 940.6L1260.5 937.6L1261.0 953.2L1261.4 962.6L1261.9 964.9L1262.4 961.4L1262.8 964.2L1263.2 981.8L1263.6 997.1L1264.0 1007.9L1264.4 1015.6L1264.8 1023.3L1265.2 1029.3L1265.6 1030.8L1266.0 1030.4L1266.3 1029.4L1266.7 1031.8L1267.1 1029.3L1267.5 1014.1L1267.9 1010.7L1268.3 1023.7L1268.7 1024.0L1269.1 1008.0L1269.5 1009.0L1269.9 987.5L1270.3 979.9L1270.7 973.3L1270.7 947.1L1271.1 947.3L1271.5 936.7L1271.9 935.2L1272.3 934.0L1272.7 933.0L1273.1 931.9L1273.5 928.4L1273.9 933.6L1274.3 932.9L1274.7 947.3L1275.2 947.3L1275.6 940.9L1276.1 946.9L1276.5 934.8L1277.0 938.9L1277.4 951.9L1277.9 972.1L1278.3 959.7L1278.8 949.0L1279.2 946.5L1279.6 944.5L1280.1 943.5L1280.5 944.5L1281.0 936.6L1281.4 937.6L1281.8 943.3L1282.2 944.8L1282.6 954.3L1283.0 954.1L1283.4 947.1L1283.8 949.5L1284.3 961.7L1284.8 965.3L1285.2 986.9L1285.7 982.9L1286.2 987.6L1286.6 992.2L1287.1 991.3L1287.5 988.3L1288.0 982.8L1288.4 983.2L1288.9 983.7L1289.3 986.5L1289.8 992.4L1290.2 993.8L1290.6 991.7L1291.1 985.2L1291.5 986.2L1292.0 988.9L1292.4 988.0L1292.9 978.1L1293.3 984.1L1293.7 979.2L1294.0 969.0L1294.4 969.3L1294.8 971.0L1295.2 961.4L1295.7 952.5L1296.2 937.6L1296.2 913.8L1296.2 899.5L1296.2 890.0L1296.2 909.5L1296.2 884.5L1296.6 889.0L1297.0 884.3L1297.5 886.6L1297.9 882.2L1298.3 884.6L1298.8 885.1L1299.2 884.2L1299.6 884.3L1300.0 883.8L1300.5 883.3L1301.0 891.4L1301.4 886.8L1301.9 912.9L1302.4 902.4L1302.9 909.3L1303.3 918.6L1303.8 920.1L1304.3 912.3L1304.8 916.7L1305.2 917.9L1305.7 908.9L1306.2 895.2L1306.7 874.1L1307.1 863.1L1307.6 865.1L1308.0 872.3L1308.5 871.9L1308.9 872.7L1309.4 869.1L1309.8 861.9L1310.3 861.2L1310.7 863.8L1311.2 861.9L1311.6 875.6L1312.0 871.9L1312.4 875.2L1312.8 867.1L1313.2 871.7L1313.6 867.9L1313.9 884.7L1314.3 894.0L1314.7 897.7L1315.1 894.3L1315.5 884.4L1315.9 871.6L1316.3 851.6L1316.7 859.5L1317.1 865.0L1317.5 849.5L1317.9 850.1L1318.3 853.3L1318.7 849.0L1319.1 859.5L1319.5 858.3L1320.0 851.0L1320.5 853.5L1321.0 856.3L1321.4 850.0L1321.9 850.0L1322.3 850.2L1322.8 847.6L1323.2 849.2L1323.7 849.9L1324.1 849.2L1324.6 849.6L1325.0 850.4L1325.5 849.5L1326.0 848.0L1326.4 847.0L1326.9 850.7L1327.4 856.0L1327.8 864.4L1328.2 878.1L1328.6 881.0L1329.0 895.1L1329.5 909.5L1329.9 928.4L1330.2 959.0L1330.6 949.8L1331.0 954.6L1331.4 958.0L1331.8 947.5L1332.2 943.6L1332.6 933.3L1333.0 909.2L1333.5 905.3L1333.9 897.0L1334.3 907.1L1334.8 895.4L1335.2 874.5L1335.7 866.7L1336.1 859.8L1336.5 874.6L1336.9 877.1L1337.3 866.3L1337.7 855.6L1338.1 847.6L1338.5 839.8L1338.9 828.1L1339.3 844.5L1339.7 835.1L1340.1 830.4L1340.5 836.2L1341.0 838.1L1341.4 832.5L1341.9 826.2L1342.4 822.1L1342.9 821.4L1343.3 826.0L1343.8 822.4L1344.2 821.3L1344.7 820.7L1345.1 825.2L1345.6 828.4L1346.0 837.0L1346.5 829.0L1346.9 821.0L1347.3 841.4L1347.7 849.1L1348.2 834.7L1348.6 835.7L1349.0 847.6L1349.5 867.6L1350.0 870.2L1350.4 859.1L1350.8 869.0L1351.2 855.5L1351.6 850.4L1352.0 848.3L1352.4 860.5L1352.9 859.5L1353.3 858.3L1353.7 846.3L1354.0 834.5L1354.5 835.2L1354.9 840.5L1355.4 851.4L1355.8 852.6L1356.3 847.0L1356.7 837.3L1357.2 842.6L1357.6 833.8L1358.1 833.6L1358.6 832.5L1359.0 832.8L1359.5 848.8L1359.9 855.9L1360.4 872.1L1360.8 872.8L1361.2 885.7L1361.6 896.0L1362.0 899.1L1362.4 913.5L1362.9 907.1L1363.3 919.7L1363.7 919.8L1364.2 918.4L1364.6 918.7L1365.1 926.6L1365.5 925.3L1366.0 919.0L1366.4 914.1L1366.8 915.1L1367.3 895.0L1367.7 885.7L1368.2 894.4L1368.6 894.0L1369.0 889.3L1369.4 898.8L1369.8 902.0L1370.2 898.0L1370.6 910.4L1371.0 919.0L1371.4 927.4L1371.8 912.8L1372.2 920.1L1372.7 918.8L1373.1 914.6L1373.5 909.5L1373.9 903.3L1374.3 888.1L1374.7 896.4L1375.1 891.6L1375.5 891.4L1375.9 889.0L1376.3 883.5L1376.7 883.3L1377.1 890.0L1377.6 893.0L1378.1 900.6L1378.6 921.4L1379.0 920.9L1379.4 919.4L1379.8 919.6L1380.2 909.5L1380.7 908.1L1381.1 908.5L1381.5 920.5L1381.9 920.2L1382.4 897.9L1382.9 898.8L1383.3 888.9L1383.8 873.8L1384.2 886.9L1384.6 893.1L1385.0 894.1L1385.4 890.5L1385.8 883.3L1386.2 871.4L1386.7 872.9L1387.1 885.7L1387.6 904.9L1388.1 902.4L1388.5 896.6L1388.9 878.5L1389.3 863.3L1389.8 869.0L1390.1 857.7L1390.5 838.1L1390.9 839.1L1391.3 838.6L1391.7 836.3L1392.1 837.9L1392.5 836.9L1392.9 836.9L1393.3 846.1L1393.7 853.5L1394.1 854.4L1394.5 857.1L1394.9 865.0L1395.2 885.7L1395.7 897.6L1396.2 911.9L1396.6 909.6L1397.1 911.8L1397.5 905.6L1398.0 888.2L1398.4 894.9L1398.8 888.0L1399.3 895.2L1399.7 874.9L1400.1 859.1L1400.5 856.0L1400.9 869.1L1401.4 859.0L1401.8 861.3L1402.3 882.3L1402.7 894.4L1403.2 868.6L1403.6 867.1L1404.0 854.8L1404.5 852.3L1404.9 858.6L1405.3 850.8L1405.7 861.9L1406.2 876.6L1406.7 881.5L1407.1 878.6L1407.6 880.8L1408.0 871.5L1408.4 863.2L1408.8 856.0L1408.8 835.7L1409.2 835.0L1409.6 838.8L1410.0 837.5L1410.4 838.5L1410.8 834.3L1411.2 833.3L1411.6 834.3L1412.0 829.9L1412.4 834.7L1412.8 849.9L1413.2 830.4L1413.6 832.1L1414.0 830.8L1414.4 851.5L1414.8 856.0L1415.2 840.9L1415.6 831.3L1416.0 825.0L1416.4 827.3L1416.8 827.0L1417.3 825.4L1417.7 822.8L1418.2 826.0L1418.6 824.4L1419.0 826.2L1419.5 847.1L1420.0 847.7L1420.5 865.5L1420.9 863.8L1421.3 862.1L1421.7 865.9L1422.1 866.2L1422.6 864.3L1423.0 862.3L1423.4 849.4L1423.8 848.8L1424.3 828.6L1424.3 814.3L1424.8 783.3L1425.2 786.0L1425.7 763.1L1426.2 750.0L1426.6 758.9L1427.0 752.8L1427.4 752.4L1427.8 748.8L1428.2 753.1L1428.6 744.0L1429.0 751.0L1429.4 743.7L1429.8 742.2L1430.2 765.9L1430.6 758.8L1431.0 746.5L1431.4 750.0L1431.8 769.6L1432.2 794.4L1432.6 804.8L1433.0 817.3L1433.5 842.3L1433.9 857.9L1434.3 867.9L1434.7 859.6L1435.2 860.8L1435.6 843.3L1436.1 833.2L1436.5 839.8L1436.9 848.6L1437.4 845.2L1437.4 806.0L1437.8 800.1L1438.2 810.0L1438.6 804.6L1439.0 800.5L1439.4 799.2L1439.8 804.8L1440.2 787.5L1440.6 792.4L1441.0 785.6L1441.3 783.5L1441.7 780.0L1442.1 778.6L1442.6 774.0L1443.0 755.3L1443.4 761.2L1443.8 754.8L1444.2 746.0L1444.6 746.2L1445.0 744.5L1445.4 742.0L1445.8 744.6L1446.2 745.7L1446.6 749.2L1447.1 745.6L1447.5 747.1L1448.0 743.8L1448.4 744.4L1448.8 747.4L1449.3 752.4L1449.7 768.3L1450.1 768.8L1450.5 771.4L1451.0 795.6L1451.4 821.5L1451.9 823.4L1452.4 858.3L1452.8 831.8L1453.2 811.9L1453.6 787.3L1454.0 791.7L1454.5 798.6L1454.9 808.6L1455.4 801.9L1455.8 810.7L1456.3 809.7L1456.7 799.3L1457.2 802.7L1457.6 790.5L1458.0 788.3L1458.4 794.5L1458.8 793.8L1459.2 790.2L1459.6 789.1L1460.0 792.9L1460.4 811.6L1460.8 821.9L1461.2 837.1L1461.6 846.4L1462.0 849.8L1462.4 867.9L1462.8 870.7L1463.2 861.1L1463.6 867.0L1464.0 868.3L1464.4 857.5L1464.8 854.8L1465.2 781.0L1465.7 759.7L1466.2 753.5L1466.7 755.5L1467.1 766.7L1467.6 763.7L1468.1 757.6L1468.6 756.4L1469.0 751.7L1469.5 756.5L1469.9 766.5L1470.3 779.8L1470.7 772.5L1471.1 758.0L1471.5 750.9L1471.9 761.9L1472.3 756.5L1472.8 753.2L1473.2 751.6L1473.6 755.6L1474.0 753.2L1474.5 755.3L1474.9 764.9L1475.3 769.6L1475.8 768.7L1476.2 762.4L1476.7 784.7L1477.1 822.7L1477.6 844.0L1478.0 828.6L1478.5 837.5L1478.9 841.9L1479.3 843.0L1479.7 840.9L1480.1 833.7L1480.5 847.4L1481.0 841.7L1481.0 800.0L1481.4 783.3L1481.9 781.1L1482.3 776.0L1482.7 769.4L1483.2 768.7L1483.6 773.0L1484.0 788.0L1484.5 776.3L1484.9 782.5L1485.3 767.8L1485.8 781.6L1486.2 782.1L1486.7 780.4L1487.1 765.9L1487.6 764.1L1488.1 766.7L1488.5 763.3L1488.9 768.0L1489.3 764.9L1489.7 767.4L1490.1 763.1L1490.5 764.3L1491.0 760.7L1491.4 742.9L1491.9 753.5L1492.3 745.2L1492.8 738.8L1493.2 736.9L1493.6 730.6L1494.1 713.1L1494.5 729.8L1494.9 719.2L1495.3 725.7L1495.7 713.1L1496.1 713.0L1496.5 712.4L1496.9 705.9L1497.3 703.8L1497.7 700.3L1498.1 711.9L1498.5 702.5L1499.0 713.2L1499.4 714.5L1499.9 706.9L1500.3 711.2L1500.8 716.0L1501.2 712.0L1501.7 702.4L1502.1 704.5L1502.5 700.3L1502.9 693.4L1503.3 692.9L1503.8 699.0L1504.2 696.5L1504.7 693.1L1505.1 683.7L1505.5 687.1L1506.0 684.3L1506.4 691.7L1506.8 679.4L1507.2 689.8L1507.6 693.5L1508.0 704.4L1508.4 683.7L1508.8 680.5L1509.3 687.6L1509.7 698.2L1510.1 690.6L1510.6 683.2L1511.0 686.7L1511.5 690.5L1511.9 680.5L1512.4 723.8L1512.8 715.3L1513.3 715.5L1513.7 705.3L1514.2 724.8L1514.6 713.5L1515.1 716.4L1515.5 720.2L1516.0 722.6L1516.4 720.6L1516.8 714.2L1517.3 727.6L1517.7 724.0L1518.1 719.5L1518.5 724.0L1519.0 723.9L1519.4 720.1L1519.8 723.5L1520.3 721.9L1520.7 719.0L1521.1 718.0L1521.5 724.9L1522.0 721.3L1522.4 715.5L1522.7 704.7L1523.1 690.5L1523.1 682.1L1523.5 677.9L1523.9 675.8L1524.3 671.7L1524.8 661.9L1525.2 646.5L1525.6 635.4L1526.1 638.8L1526.5 634.4L1527.0 635.8L1527.4 649.5L1527.9 661.4L1528.3 657.8L1528.7 647.3L1529.0 644.0L1529.4 654.3L1529.8 652.0L1530.2 649.0L1530.6 646.0L1531.0 631.1L1531.4 635.7L1531.8 633.6L1532.2 633.0L1532.6 623.5L1533.0 617.9L1533.4 627.0L1533.8 629.8L1534.2 639.5L1534.6 646.5L1535.0 643.8L1535.4 643.6L1535.8 637.1L1536.2 646.4L1536.6 635.7L1537.0 632.7L1537.4 620.2L1537.8 607.9L1538.2 607.8L1538.6 604.8L1539.0 588.1L1539.5 578.3L1540.0 580.9L1540.5 590.5L1540.5 602.9L1540.5 579.0L1541.0 574.7L1541.4 570.2L1541.9 566.9L1542.4 567.1L1542.8 558.8L1543.2 554.3L1543.6 553.9L1544.0 544.7L1544.4 547.3L1544.8 550.3L1545.2 538.6L1545.7 547.9L1546.1 562.5L1546.6 575.1L1547.0 581.2L1547.5 582.3L1547.9 582.1L1548.4 582.7L1548.8 582.6L1549.2 566.8L1549.6 561.2L1550.0 560.8L1550.4 549.5L1550.8 541.8L1551.2 520.7L1551.6 532.8L1552.0 565.0L1552.4 581.4L1552.9 558.7L1553.3 548.2L1553.8 519.4L1554.3 499.3L1554.7 499.4L1555.1 498.5L1555.5 499.4L1555.9 498.4L1556.3 505.3L1556.7 499.4L1557.1 500.5L1557.6 503.6L1558.1 533.1L1558.6 553.2L1559.0 569.5L1559.4 551.5L1559.8 544.4L1560.2 527.3L1560.6 534.1L1561.0 521.7L1561.4 525.5L1561.8 542.9L1562.3 555.8L1562.7 552.7L1563.1 570.7L1563.5 552.6L1564.0 555.7L1564.4 546.4L1564.9 541.0L1565.3 524.0L1565.7 528.7L1566.2 526.2L1566.6 525.6L1567.0 536.5L1567.4 536.8L1567.8 539.7L1568.2 551.8L1568.6 545.7L1569.0 598.1L1569.0 683.8L1569.5 663.3L1570.0 655.2L1570.5 627.3L1571.0 610.0L1571.4 605.5L1571.8 607.8L1572.2 595.9L1572.6 593.3L1573.0 577.3L1573.4 565.7L1573.8 555.2L1574.3 545.1L1574.8 532.4L1575.2 540.1L1575.7 545.7L1576.1 536.4L1576.5 550.4L1577.0 545.8L1577.4 541.0L1577.7 522.7L1578.1 510.0L1578.5 507.1L1578.9 508.9L1579.3 502.9L1579.6 491.9L1580.0 479.0L1580.5 448.1L1580.9 450.4L1581.3 440.7L1581.7 438.8L1582.1 443.3L1582.5 446.4L1582.9 445.8L1583.3 462.4L1583.8 465.0L1584.3 449.4L1584.8 431.0L1585.2 427.9L1585.6 433.7L1586.1 433.0L1586.5 454.6L1586.9 459.7L1587.3 458.9L1587.7 464.6L1588.1 456.4L1588.6 444.8L1589.0 442.2L1589.5 431.5L1590.0 423.1L1590.4 425.1L1590.8 415.0L1591.2 426.0L1591.7 421.8L1592.1 436.2L1592.5 431.0L1592.9 426.2L1593.3 441.0L1593.8 427.4L1594.3 421.7L1594.8 414.8L1595.2 416.0L1595.7 411.6L1596.1 412.5L1596.6 418.8L1597.0 411.6L1597.5 421.3L1597.9 405.5L1598.4 420.0L1598.8 438.6L1599.2 425.9L1599.5 393.3L1600.0 389.2L1600.5 342.1L1600.9 354.7L1601.4 363.0L1601.8 368.5L1602.2 386.2L1602.7 396.5L1603.1 377.3L1603.6 377.9L1604.0 356.8L1604.4 333.8L1604.8 307.6L1605.2 318.9L1605.7 331.5L1606.2 333.7L1606.7 350.5L1607.1 327.9L1607.5 319.4L1607.9 310.9L1608.3 286.2L1608.8 290.3L1609.2 307.8L1609.7 299.9L1610.1 307.1L1610.5 297.1L1611.0 285.6L1611.4 285.0L1611.9 302.2L1612.4 307.6L1612.4 331.4L1612.4 374.3L1612.8 368.0L1613.3 377.0L1613.7 387.7L1614.1 385.8L1614.6 384.4L1615.0 382.7L1615.5 379.0L1616.0 426.7L1616.3 447.7L1616.7 450.5L1617.1 467.5L1617.5 479.8L1617.9 505.2L1618.3 569.5L1618.6 662.4L1619.0 647.8L1619.5 637.6L1619.9 633.5L1620.4 636.4L1620.8 642.7L1621.3 636.4L1621.7 623.6L1622.2 618.5L1622.6 610.0L1623.0 615.0L1623.4 622.1L1623.8 615.8L1624.2 610.1L1624.6 595.9L1625.0 588.6L1625.4 579.7L1625.8 571.4L1626.2 576.8L1626.6 595.0L1627.0 584.4L1627.4 581.4L1627.8 561.4L1628.2 537.8L1628.6 521.9L1628.6 450.5L1629.0 424.3L1629.5 388.5L1630.0 387.5L1630.5 364.8L1630.9 356.2L1631.3 339.1L1631.7 337.7L1632.1 327.1L1632.5 327.2L1632.9 317.1L1633.3 309.0L1633.7 304.7L1634.1 304.8L1634.5 298.1L1634.9 310.0L1635.3 314.8L1635.7 299.3L1636.1 334.0L1636.5 357.3L1636.9 410.0L1637.3 407.1L1637.7 412.4L1638.1 414.7L1638.5 410.7L1638.9 408.7L1639.3 411.2L1639.7 375.3L1640.1 333.2L1640.5 292.1L1640.9 295.6L1641.4 298.2L1641.8 295.5L1642.2 292.2L1642.7 290.0L1643.1 293.6L1643.6 291.4L1644.0 305.6L1644.4 318.8L1644.8 331.4L1645.2 412.4L1645.2 524.3L1645.7 522.4L1646.1 507.1L1646.6 508.7L1647.0 515.6L1647.5 534.4L1647.9 525.7L1648.4 542.5L1648.8 549.3L1649.2 548.7L1649.6 548.7L1650.0 547.8L1650.4 548.1L1650.8 542.9L1651.2 531.4L1651.2 464.8L1651.6 456.8L1652.0 456.5L1652.4 456.2L1652.8 454.4L1653.2 445.2L1653.6 455.2L1654.0 468.8L1654.4 497.0L1654.8 501.4L1655.2 513.6L1655.7 513.5L1656.2 517.0L1656.7 513.9L1657.1 512.4L1657.6 441.0L1658.1 442.4L1658.5 447.8L1658.9 450.0L1659.4 439.4L1659.8 440.0L1660.3 439.8L1660.7 441.0L1661.1 445.5L1661.5 454.2L1661.9 457.6L1662.3 457.3L1662.7 463.2L1663.1 488.6L1663.5 515.5L1663.8 543.3L1664.2 572.0L1664.6 607.1L1665.1 626.1L1665.5 657.6L1665.9 656.8L1666.4 644.8L1666.8 633.4L1667.2 622.0L1667.7 615.1L1668.1 600.7L1668.6 593.3L1669.0 549.4L1669.5 536.2L1669.9 546.6L1670.3 570.7L1670.7 582.5L1671.1 579.6L1671.5 584.1L1671.9 573.1L1672.4 558.4L1672.9 532.1L1673.3 507.6L1673.8 499.5L1674.2 487.7L1674.6 493.0L1675.0 482.6L1675.4 483.2L1675.8 478.9L1676.2 470.6L1676.7 458.8L1677.1 468.0L1677.6 465.3L1678.0 457.9L1678.4 460.6L1678.9 472.6L1679.3 468.4L1679.8 458.8L1680.2 466.6L1680.6 471.4L1681.0 488.6L1681.3 491.3L1681.7 504.7L1682.1 517.1L1682.1 598.1L1682.5 622.3L1682.9 636.2L1683.3 641.3L1683.7 657.2L1684.1 661.0L1684.5 676.7L1685.0 666.6L1685.4 657.9L1685.9 652.5L1686.3 654.9L1686.7 648.0L1687.2 630.2L1687.6 610.0L1687.6 567.1L1688.0 562.1L1688.5 549.7L1688.9 523.9L1689.3 521.9L1689.7 525.2L1690.1 543.9L1690.5 545.2L1690.9 548.5L1691.3 566.8L1691.7 567.1L1692.1 539.3L1692.5 512.9L1692.9 489.7L1693.3 460.0L1693.8 462.5L1694.2 472.2L1694.6 480.1L1695.0 486.1L1695.4 488.4L1695.9 489.9L1696.3 497.1L1696.7 501.6L1697.1 504.3L1697.5 501.1L1698.0 503.3L1698.4 503.2L1698.8 502.9L1699.2 491.3L1699.6 474.6L1700.1 465.8L1700.5 453.3L1700.9 456.1L1701.4 451.8L1701.8 450.3L1702.2 449.2L1702.7 459.5L1703.1 476.8L1703.6 486.2L1703.9 450.8L1704.3 426.7L1704.7 419.1L1705.1 435.8L1705.5 434.1L1705.9 451.2L1706.3 448.3L1706.7 442.8L1707.1 458.8L1707.6 402.9L1708.1 418.2L1708.5 427.1L1708.9 428.7L1709.4 434.1L1709.8 428.4L1710.3 421.1L1710.7 407.6L1711.1 390.3L1711.5 387.6L1711.9 380.8L1712.3 384.0L1712.7 374.6L1713.1 361.2L1713.5 361.1L1714.0 361.8L1714.4 360.2L1714.9 379.9L1715.3 394.0L1715.7 396.7L1716.2 405.2L1716.6 388.0L1717.0 385.1L1717.4 372.9L1717.9 364.8L1718.3 377.3L1718.7 369.5L1719.0 385.3L1719.4 383.4L1719.8 394.9L1720.2 406.4L1720.7 402.0L1721.1 383.1L1721.5 383.0L1721.9 354.8L1722.3 354.8L1722.8 355.8L1723.2 354.5L1723.7 354.8L1724.1 358.3L1724.6 359.3L1725.0 355.2L1725.4 375.2L1725.8 378.7L1726.2 383.8L1726.7 395.4L1727.1 394.9L1727.6 414.9L1728.1 412.4L1728.1 474.3L1728.6 487.2L1729.0 507.6L1729.5 490.5L1729.9 484.9L1730.3 490.9L1730.7 503.8L1731.2 498.9L1731.6 507.7L1732.0 513.2L1732.4 528.0L1732.9 512.4L1733.3 548.1L1733.7 548.0L1734.1 556.7L1734.5 569.5L1734.9 589.8L1735.2 602.9L1735.2 604.8L1735.7 646.3L1736.2 683.3L1736.6 696.3L1737.0 698.7L1737.4 719.0L1737.8 705.7L1738.3 691.7L1738.7 672.4L1739.2 668.9L1739.6 666.9L1740.1 655.0L1740.5 672.5L1741.0 672.6L1741.3 679.0L1741.7 687.6L1742.1 696.8L1742.5 695.7L1742.9 678.8L1743.3 690.5L1743.3 742.9L1743.3 811.9L1743.7 827.5L1744.1 827.2L1744.5 838.1L1744.9 878.5L1745.2 933.3L1745.7 950.0L1746.1 952.6L1746.4 954.3L1746.4 1059.0L1746.8 1080.0L1747.2 1096.3L1747.6 1099.5L1748.0 1108.1L1748.4 1145.3L1748.8 1166.2L1749.2 1162.7L1749.7 1169.5L1750.1 1161.3L1750.5 1162.6L1750.9 1154.1L1751.3 1154.3L1751.8 1142.4L1752.2 1144.2L1752.6 1160.2L1753.0 1167.7L1753.4 1167.4L1753.9 1166.2L1754.3 1168.6L1754.3 1218.6L1754.3 1273.3L1754.3 1239.5L1754.3 1470.3L1754.7 1451.0L1755.1 1412.0L1755.5 1388.1L1755.9 1354.2L1756.4 1338.1L1756.8 1320.8L1757.2 1286.6L1757.6 1271.1L1758.0 1320.8L1758.5 1365.3L1758.9 1390.3L1759.3 1428.6L1759.7 1473.0L1760.2 1446.7L1760.6 1412.4L1761.0 1380.3L1761.4 1346.6L1761.8 1313.2L1762.3 1345.5L1762.7 1369.9L1763.1 1402.2L1763.5 1413.6L1763.9 1431.6L1764.4 1448.1L1764.8 1417.3L1765.2 1394.4L1765.6 1361.2L1766.1 1351.2L1766.5 1355.7L1767.0 1395.4L1767.5 1425.0L1768.0 1423.3L1768.4 1427.5L1768.8 1409.3L1769.2 1405.8L1769.6 1397.6L1770.1 1391.3L1770.5 1377.3L1770.9 1356.0L1771.3 1352.8L1771.7 1355.4L1772.3 1318.1L1772.8 1296.4L1773.2 1280.4L1773.6 1287.3L1774.1 1277.8L1774.5 1291.4L1774.9 1281.7L1775.3 1282.7L1775.8 1283.3L1776.2 1298.3L1776.6 1309.0L1777.0 1346.0L1777.4 1393.3L1777.4 1439.7L1777.4 1492.4L1777.9 1485.7L1778.3 1487.8L1778.7 1492.1L1779.1 1498.7L1779.5 1487.4L1780.0 1498.0L1780.4 1512.0L1780.8 1512.9L1781.2 1508.3L1781.7 1515.2L1782.1 1519.8L1782.5 1500.6L1782.9 1473.4L1783.3 1460.8L1783.9 1429.9L1784.4 1396.5L1784.8 1396.8L1785.2 1396.6L1785.7 1399.1L1786.1 1395.9L1786.5 1397.6L1787.0 1427.9L1787.6 1460.8L1788.0 1510.3L1788.4 1507.6L1788.9 1507.3L1789.3 1497.3L1789.8 1493.0L1790.3 1484.4L1790.7 1471.3L1791.1 1471.6L1791.6 1487.3L1792.0 1476.5L1792.4 1464.7L1792.8 1466.1L1793.3 1450.5L1793.8 1449.2L1794.3 1451.3L1794.7 1447.5L1795.1 1428.4L1795.6 1436.6L1795.6 1397.6L1795.6 1364.9L1796.0 1328.0L1796.5 1323.2L1797.0 1324.3L1797.5 1313.2L1798.0 1281.9L1798.5 1250.0L1798.9 1272.7L1799.4 1302.7L1799.8 1226.9L1800.2 1172.0L1800.7 1239.0L1801.3 1296.4L1801.8 1226.8L1802.3 1172.0L1802.8 1234.8L1803.4 1292.2L1803.9 1261.7L1804.4 1228.9L1804.9 1260.4L1805.4 1303.4L1805.9 1321.2L1806.3 1309.0L1806.7 1280.2L1807.2 1251.1L1807.6 1228.9L1808.0 1213.4L1808.3 1201.9L1808.8 1163.8L1809.2 1144.6L1809.5 1125.7L1810.0 1130.4L1810.5 1126.6L1811.0 1110.7L1811.4 1100.0L1811.8 1125.8L1812.2 1152.3L1812.6 1191.1L1813.0 1193.8L1813.4 1210.7L1813.8 1221.0L1814.2 1177.2L1814.6 1141.9L1815.1 1109.0L1815.5 1073.3L1815.9 1069.0L1816.3 1069.2L1816.7 1058.6L1817.1 1047.0L1817.5 1051.3L1817.9 1049.5L1818.3 1077.6L1818.8 1095.8L1819.3 1134.2L1819.8 1162.6L1820.2 1139.7L1820.6 1130.7L1821.0 1109.2L1821.5 1079.8L1821.9 1049.0L1822.3 1055.9L1822.7 1050.3L1823.1 1052.6L1823.5 1048.7L1823.9 1059.3L1824.3 1049.5L1824.6 1115.0L1825.0 1171.0L1825.4 1157.0L1825.8 1135.7L1826.2 1117.1L1826.6 1111.0L1827.0 1099.9L1827.4 1078.1L1827.8 1115.5L1828.3 1131.5L1828.7 1167.6L1829.1 1180.4L1829.6 1214.9L1830.0 1221.5L1830.5 1236.4L1830.9 1232.7L1831.3 1236.2L1831.7 1234.0L1832.1 1235.2L1832.5 1181.8L1832.9 1130.5L1833.3 1108.8L1833.7 1082.5L1834.1 1057.8L1834.5 1035.2L1834.9 1017.6L1835.4 998.7L1835.8 1001.3L1836.2 994.8L1836.7 987.9L1837.1 974.4L1837.6 963.1L1838.1 963.8L1838.5 965.1L1839.0 962.9L1839.4 966.4L1839.9 966.5L1840.3 970.5L1840.8 969.0L1841.2 965.5L1841.7 963.3L1842.0 981.9L1842.4 997.1L1842.4 1065.0L1842.8 1045.1L1843.2 1035.6L1843.6 1026.8L1844.0 1009.0L1844.4 1036.1L1844.8 1049.1L1845.2 1057.2L1845.6 1069.6L1846.0 1085.3L1846.4 1090.5L1846.8 1082.6L1847.2 1062.8L1847.6 1051.2L1848.0 1033.5L1848.4 1029.8L1848.8 1022.1L1849.2 1034.4L1849.6 1050.7L1850.0 1081.7L1850.4 1065.0L1850.8 1064.6L1851.2 1038.3L1851.6 1035.0L1852.0 1024.2L1852.4 1009.0L1852.8 1009.5L1853.2 1017.2L1853.6 997.7L1854.0 995.7L1854.4 997.5L1854.8 1006.6L1855.2 1009.0L1855.7 1039.0L1856.2 1059.4L1856.7 1079.3L1857.1 1045.0L1857.6 997.1L1858.0 986.3L1858.4 968.3L1858.8 973.3L1859.2 975.6L1859.6 973.6L1860.0 949.5L1860.4 959.1L1860.9 955.8L1861.3 939.7L1861.8 936.6L1862.2 927.3L1862.7 932.0L1863.1 926.9L1863.5 950.8L1863.9 963.1L1864.3 955.2L1864.7 968.8L1865.1 959.2L1865.5 963.8L1865.9 1003.5L1866.3 1022.7L1866.7 1042.4L1867.1 1032.1L1867.6 1017.4L1868.1 1001.2L1868.6 972.1L1869.0 989.6L1869.4 998.1L1869.8 1008.7L1870.2 1030.5L1870.7 1016.1L1871.1 998.6L1871.5 994.9L1871.9 973.3L1872.4 1005.9L1872.9 1040.1L1873.3 1074.8L1873.8 1094.8L1874.2 1097.0L1874.6 1082.0L1875.0 1070.4L1875.4 1059.0L1875.8 1041.0L1876.2 1000.7L1876.7 1005.4L1877.1 1005.1L1877.6 999.1L1878.1 1001.9L1878.5 1017.3L1878.9 1051.9L1879.3 1065.8L1879.8 1086.4L1880.2 1074.2L1880.6 1071.5L1881.0 1058.1L1881.3 1046.8L1881.7 1035.8L1882.1 1023.3L1882.5 1013.5L1882.9 986.4L1883.3 971.0L1883.8 980.0L1884.3 964.1L1884.8 949.0L1885.2 951.9L1885.6 956.7L1886.1 958.7L1886.5 963.9L1886.9 972.6L1887.3 969.6L1887.7 957.2L1888.1 951.4L1888.5 954.6L1888.9 953.8L1889.3 968.6L1889.3 1017.4L1889.7 1020.6L1890.1 1033.9L1890.5 1035.2L1890.9 1056.8L1891.3 1062.4L1891.7 1080.5L1892.1 1094.2L1892.5 1096.8L1892.9 1090.5L1893.3 1097.1L1893.8 1115.4L1894.3 1149.3L1894.8 1149.5L1895.2 1137.8L1895.6 1129.5L1896.0 1134.5L1896.3 1116.2L1896.7 1107.1L1897.1 1104.3L1897.6 1067.3L1898.1 1030.5L1898.5 1043.1L1899.0 1055.3L1899.4 1070.8L1899.9 1070.1L1900.3 1067.2L1900.7 1075.3L1901.2 1088.8L1901.6 1074.5L1902.0 1063.3L1902.4 1055.2L1902.8 1043.6L1903.2 1035.2L1903.6 1029.3L1904.0 1040.0L1904.4 1054.5L1904.8 1052.2L1905.2 1076.9L1905.6 1048.2L1906.0 1009.0L1906.4 1011.6L1906.8 1013.8L1907.3 1009.5L1907.7 1021.7L1908.2 1024.9L1908.6 1023.9L1909.0 1032.9L1909.5 1006.3L1910.0 981.7L1910.5 960.0L1911.0 963.7L1911.4 950.8L1911.9 940.0L1912.3 938.2L1912.7 937.1L1913.1 938.1L1913.5 928.5L1913.9 927.3L1914.3 925.7L1914.7 920.1L1915.1 935.0L1915.5 944.8L1915.9 978.6L1916.3 970.1L1916.7 978.1L1917.1 978.1L1917.6 960.1L1918.0 952.7L1918.5 948.0L1918.9 944.0L1919.3 928.3L1919.8 933.1L1920.2 921.0L1920.6 921.6L1921.0 918.4L1921.4 920.0L1921.8 925.5L1922.2 928.9L1922.6 940.0L1923.0 962.2L1923.4 995.3L1923.8 1021.0L1924.3 1036.8L1924.8 1031.4L1925.2 1033.5L1925.7 1044.8L1926.2 1092.4L1926.2 1137.6L1926.6 1139.2L1927.0 1143.8L1927.4 1142.4L1927.4 1249.5L1927.8 1229.9L1928.2 1201.3L1928.6 1193.4L1929.0 1171.9L1929.4 1162.0L1929.8 1149.5L1930.2 1163.9L1930.6 1188.8L1931.0 1213.4L1931.3 1230.5L1931.7 1241.3L1932.1 1243.6L1932.5 1220.9L1932.9 1197.7L1933.3 1175.2L1933.7 1162.2L1934.1 1149.0L1934.5 1134.0L1934.9 1141.8L1935.3 1163.3L1935.7 1169.8L1936.1 1197.1L1936.5 1213.0L1936.9 1234.0L1937.3 1214.0L1937.7 1217.7L1938.1 1200.4L1938.5 1181.6L1938.9 1162.6L1939.3 1132.9L1939.7 1165.0L1940.1 1185.4L1940.5 1215.9L1941.0 1234.8L1941.3 1218.1L1941.7 1194.4L1942.1 1168.6L1942.5 1166.6L1942.9 1164.6L1943.3 1130.5L1943.8 1143.0L1944.3 1168.7L1944.8 1186.4L1945.2 1172.2L1945.6 1156.3L1946.0 1143.5L1946.4 1117.4L1946.8 1122.6L1947.2 1116.8L1947.6 1109.2L1948.0 1107.9L1948.4 1109.7L1948.8 1108.6L1949.2 1122.0L1949.6 1150.4L1950.0 1186.4L1950.5 1162.6L1951.0 1157.7L1951.4 1134.9L1951.9 1109.0L1952.3 1121.2L1952.7 1120.6L1953.1 1134.7L1953.5 1147.9L1953.9 1158.5L1954.3 1168.6L1954.7 1185.5L1955.1 1211.3L1955.5 1231.5L1956.0 1247.6L1956.3 1239.8L1956.7 1213.0L1957.1 1201.1L1957.5 1189.1L1957.9 1184.4L1958.3 1171.0L1958.8 1187.8L1959.2 1204.9L1959.6 1207.2L1960.0 1201.9L1960.5 1197.6L1961.0 1182.9L1961.4 1171.4L1961.9 1182.9L1962.3 1184.9L1962.7 1173.0L1963.1 1155.5L1963.5 1119.2L1963.8 1094.8L1964.3 1079.2L1964.8 1063.8L1965.2 1073.4L1965.6 1071.4L1966.0 1069.2L1966.3 1085.3L1966.7 1095.1L1967.1 1090.0L1967.6 1081.6L1968.1 1066.1L1968.6 1059.0L1969.0 1077.6L1969.5 1074.0L1969.9 1068.8L1970.4 1071.6L1970.8 1071.9L1971.3 1088.2L1971.7 1079.0L1972.2 1105.6L1972.6 1121.4L1973.0 1099.0L1973.4 1084.4L1973.8 1061.4L1974.3 1071.6L1974.7 1083.4L1975.1 1088.7L1975.6 1096.9L1976.0 1102.8L1976.5 1104.9L1976.9 1110.9L1977.4 1115.7L1977.8 1101.2L1978.2 1073.6L1978.6 1053.1L1979.0 1063.5L1979.4 1053.0L1979.8 1054.5L1980.2 1053.2L1980.6 1051.9L1981.0 1055.5L1981.4 1105.5L1981.8 1103.3L1982.2 1104.0L1982.6 1103.9L1983.0 1074.6L1983.4 1079.1L1983.8 1063.8L1984.3 1090.5L1984.8 1109.5L1985.2 1108.8L1985.7 1112.6L1986.2 1113.0L1986.7 1100.9L1987.1 1087.3L1987.6 1080.5L1988.0 1075.8L1988.5 1069.1L1988.9 1051.8L1989.3 1042.4L1989.7 1059.1L1990.2 1070.4L1990.6 1068.6L1991.1 1074.8L1991.5 1073.3L1991.9 1064.4L1992.4 1073.3L1992.8 1067.5L1993.2 1051.2L1993.6 1045.1L1994.0 1044.8L1994.5 1053.0L1994.9 1078.5L1995.4 1076.3L1995.8 1074.9L1996.3 1076.6L1996.7 1070.5L1997.2 1075.7L1997.6 1077.6L1998.1 1079.0L1998.6 1070.0L1999.0 1057.0L1999.5 1044.3L1999.9 1050.8L2000.3 1042.3L2000.7 1038.7L2001.1 1040.7L2001.5 1035.2L2001.9 1035.2L2002.4 1022.0L2002.9 1009.0L2003.3 1006.2L2003.7 1014.7L2004.2 1024.4L2004.6 1027.1L2005.1 1040.0L2005.5 1029.0L2006.0 1023.3L2006.3 1022.3L2006.7 1010.2L2007.1 994.8L2007.5 999.2L2007.9 987.8L2008.3 979.8L2008.7 977.9L2009.1 973.0L2009.5 971.4L2009.9 972.2L2010.3 974.5L2010.7 988.7L2011.1 1005.1L2011.5 1012.1L2011.9 1011.0L2012.4 1009.6L2012.8 996.0L2013.2 989.4L2013.7 997.0L2014.1 992.2L2014.6 987.6L2015.0 988.2L2015.5 975.7L2015.9 972.6L2016.3 977.3L2016.7 976.7L2017.1 990.5L2017.5 1005.8L2017.9 1011.4L2018.2 1059.8L2018.6 1117.4L2019.0 1113.1L2019.4 1102.3L2019.8 1102.0L2020.2 1090.0L2020.6 1043.6L2021.0 1014.2L2021.4 975.7L2021.8 957.9L2022.2 955.6L2022.6 947.1L2023.0 959.1L2023.5 948.1L2023.9 940.4L2024.3 930.5L2024.3 916.2L2024.3 861.4L2024.8 904.3L2025.2 894.7L2025.7 870.8L2026.2 854.8L2026.7 879.4L2027.1 909.2L2027.6 916.2L2028.1 894.6L2028.6 876.4L2029.0 862.6L2029.5 873.6L2030.0 888.6L2030.5 925.7L2031.0 893.9L2031.4 872.4L2031.9 863.8L2032.4 878.4L2032.9 909.6L2033.3 930.5L2033.8 910.0L2034.3 868.6L2034.8 888.3L2035.2 916.2L2035.7 949.5L2036.1 974.8L2036.5 977.3L2036.9 986.4L2037.3 972.9L2037.7 964.1L2038.1 959.0L2038.5 963.6L2038.9 951.3L2039.3 949.5L2039.7 949.3L2040.1 943.5L2040.5 938.5L2040.9 928.7L2041.3 925.1L2041.7 923.3L2042.1 930.3L2042.5 930.7L2042.9 924.0L2043.3 932.6L2043.7 934.1L2044.0 924.5L2044.4 958.7L2044.8 980.6L2045.2 1004.3L2045.6 987.1L2046.0 962.5L2046.4 944.8L2046.8 956.5L2047.2 958.7L2047.6 972.7L2048.0 1001.2L2048.4 1020.9L2048.8 1021.0L2049.2 1020.3L2049.6 988.6L2050.1 957.5L2050.5 944.8L2050.9 948.6L2051.3 961.1L2051.8 947.1L2052.2 954.2L2052.6 947.5L2053.0 948.1L2053.5 943.8L2053.9 943.8L2054.3 943.4L2054.8 943.6L2055.2 960.3L2055.6 976.5L2056.0 1001.9L2056.0 1054.3L2056.4 1043.7L2056.8 1038.7L2057.3 1027.3L2057.7 1024.4L2058.2 1010.6L2058.6 1004.4L2059.1 1013.1L2059.5 1004.3L2060.0 1026.1L2060.5 1036.6L2061.0 1039.4L2061.4 1032.9L2061.4 1073.3L2061.9 1064.9L2062.4 1060.2L2062.4 1118.6L2062.9 1126.9L2063.3 1136.5L2063.8 1153.1L2064.2 1155.9L2064.6 1135.9L2065.0 1137.4L2065.4 1136.2L2065.9 1136.7L2066.3 1133.2L2066.7 1130.5L2067.1 1120.1L2067.5 1096.5L2067.9 1068.6L2068.3 1078.3L2068.7 1081.9L2069.1 1094.8L2069.5 1112.6L2069.9 1105.7L2070.3 1101.2L2070.7 1089.4L2071.1 1080.0L2071.5 1070.7L2071.9 1067.4L2072.3 1071.4L2072.7 1076.3L2073.1 1070.7L2073.5 1068.6L2073.9 1067.5L2074.3 1068.6L2074.3 1166.2L2074.8 1162.4L2075.2 1138.0L2075.7 1123.8L2076.2 1116.2L2076.6 1141.2L2077.0 1132.7L2077.4 1147.1L2077.4 1255.5L2077.8 1246.3L2078.2 1270.1L2078.6 1272.4L2079.0 1270.2L2079.4 1272.1L2079.8 1269.8L2080.2 1258.1L2080.6 1254.8L2081.0 1248.7L2081.3 1231.5L2081.7 1265.2L2082.1 1259.0L2082.5 1246.3L2082.9 1235.2L2082.9 1132.9L2083.3 1125.9L2083.8 1132.4L2084.3 1157.6L2084.8 1175.3L2085.2 1194.8L2085.7 1134.7L2086.2 1092.4L2086.6 1094.8L2087.0 1096.2L2087.4 1103.5L2087.8 1079.1L2088.2 1077.0L2088.6 1076.9L2089.0 1081.2L2089.4 1077.3L2089.8 1074.5L2090.2 1082.4L2090.6 1075.6L2091.0 1078.1L2091.0 1150.7L2091.4 1133.0L2091.9 1121.9L2092.4 1101.9L2092.9 1149.0L2093.3 1200.7L2093.7 1210.3L2094.1 1209.6L2094.5 1219.8L2095.0 1219.2L2095.5 1231.0L2096.0 1239.6L2096.4 1239.5L2096.8 1208.6L2097.3 1181.2L2097.7 1162.9L2098.1 1142.4L2098.5 1142.6L2099.0 1142.3L2099.4 1146.9L2099.9 1141.9L2100.3 1144.8L2100.7 1144.0L2101.2 1143.6L2101.5 1190.9L2101.9 1209.0L2102.3 1201.9L2102.7 1201.1L2103.2 1180.3L2103.6 1168.6L2104.0 1165.6L2104.4 1158.1L2104.8 1153.8L2105.2 1172.3L2105.6 1175.7L2106.0 1198.3L2106.3 1189.0L2106.7 1188.1L2107.1 1184.1L2107.5 1180.9L2107.9 1180.9L2108.3 1169.8L2108.7 1171.1L2109.1 1162.2L2109.5 1174.4L2109.9 1177.2L2110.3 1191.8L2110.7 1199.0L2111.1 1199.3L2111.5 1199.0L2111.9 1193.4L2112.3 1190.6L2112.7 1192.8L2113.1 1198.3L2113.3 1116.2L2113.8 1117.0L2114.2 1131.9L2114.6 1139.8L2115.0 1153.4L2115.5 1157.9L2115.9 1149.9L2116.3 1135.7L2116.7 1122.6L2117.1 1104.3L2117.6 1101.6L2118.1 1089.1L2118.6 1084.2L2119.0 1082.9L2119.5 1103.9L2120.0 1114.1L2120.5 1112.6L2121.0 1104.3L2121.4 1030.5L2121.8 1048.9L2122.2 1056.8L2122.6 1053.2L2123.0 1068.3L2123.4 1074.4L2123.8 1087.6L2124.3 991.2L2124.7 1000.1L2125.1 1005.5L2125.5 1017.8L2125.9 1019.6L2126.3 1024.6L2126.7 1048.3L2127.0 1022.4L2127.4 990.0L2127.8 1005.4L2128.2 1008.9L2128.6 1029.5L2129.0 1047.1L2129.4 1007.7L2129.8 971.0L2130.2 966.6L2130.7 979.5L2131.1 978.6L2131.5 978.7L2132.0 969.3L2132.4 969.8L2132.9 968.1L2133.3 970.5L2133.3 1019.8L2133.8 1012.4L2134.3 1010.2L2134.8 997.7L2135.2 982.9L2135.7 989.9L2136.1 998.4L2136.5 1011.5L2136.9 1035.2L2137.3 1015.2L2137.7 995.4L2138.1 992.4L2138.6 1082.9L2139.0 1074.7L2139.5 1052.3L2140.0 1045.3L2140.5 1034.0L2140.9 1028.0L2141.3 1017.4L2141.7 1024.9L2142.1 1032.3L2142.5 1042.4L2142.9 1045.8L2143.3 1034.0L2143.3 1111.4L2143.8 1088.5L2144.3 1078.8L2144.8 1056.4L2145.2 1047.1L2145.7 1136.4L2146.2 1123.5L2146.7 1107.5L2147.1 1079.3L2147.6 1107.6L2148.1 1147.1L2148.5 1154.4L2148.8 1178.1L2149.2 1188.6L2149.6 1201.2L2150.0 1209.0L2150.5 1189.1L2151.0 1191.8L2151.4 1183.9L2151.9 1180.5L2152.3 1204.8L2152.7 1206.6L2153.2 1225.8L2153.6 1251.9L2154.0 1242.0L2154.4 1251.2L2154.8 1260.2L2155.2 1240.3L2155.6 1225.4L2156.0 1192.4L2156.3 1208.1L2156.7 1229.9L2157.1 1237.6L2157.6 1138.8L2158.0 1143.2L2158.4 1150.6L2158.8 1162.6L2159.2 1174.1L2159.6 1186.2L2160.0 1194.8L2160.4 1173.0L2160.7 1124.5L2161.1 1129.7L2161.5 1134.8L2161.9 1140.6L2162.3 1145.7L2162.7 1161.9L2163.1 1168.6L2163.5 1142.2L2163.9 1123.5L2164.3 1117.4L2164.7 1117.6L2165.1 1123.9L2165.5 1116.4L2165.9 1117.3L2166.3 1113.7L2166.7 1116.7L2167.1 1162.6L2167.6 1168.6L2168.0 1169.7L2168.4 1169.4L2168.8 1173.2L2169.3 1168.2L2169.7 1160.6L2170.1 1167.1L2170.5 1164.9L2171.0 1170.5L2171.4 1094.8L2171.8 1084.6L2172.2 1094.5L2172.7 1103.2L2173.1 1100.9L2173.5 1132.5L2173.9 1135.4L2174.3 1147.1L2174.3 1087.6L2174.8 1075.4L2175.2 1076.1L2175.7 1070.5L2176.2 1073.3L2176.6 1074.6L2177.0 1089.2L2177.4 1090.5L2177.8 1095.9L2178.2 1107.9L2178.6 1103.1L2179.0 1104.8L2179.4 1086.8L2179.8 1074.5L2180.2 1078.0L2180.6 1079.5L2181.0 1105.1L2181.3 1106.6L2181.7 1117.6L2182.1 1128.1L2182.6 1135.5L2183.0 1136.1L2183.4 1133.5L2183.8 1133.3L2184.2 1107.2L2184.5 1072.1L2185.0 1076.7L2185.4 1077.9L2185.9 1089.8L2186.3 1091.4L2186.8 1092.6L2187.2 1117.1L2187.6 1109.9L2188.1 1116.2L2188.5 1092.4L2188.9 1082.9L2189.3 1072.1L2189.7 1076.4L2190.1 1073.1L2190.5 1068.8L2190.9 1087.5L2191.3 1106.0L2191.7 1131.7L2192.1 1131.2L2192.5 1113.8L2192.9 1098.3L2193.3 1109.4L2193.7 1106.2L2194.0 1125.0L2194.4 1132.9L2194.8 1127.7L2195.2 1132.9L2195.7 1063.8L2196.1 1067.0L2196.5 1091.1L2196.9 1109.1L2197.3 1115.0L2197.7 1118.3L2198.1 1124.5L2198.5 1089.7L2198.8 1057.9L2199.3 1057.3L2199.7 1057.4L2200.1 1057.6L2200.6 1054.4L2201.0 1057.9L2201.5 1055.2L2201.9 1056.7L2202.4 1083.1L2202.9 1094.8L2203.3 1088.2L2203.7 1094.1L2204.2 1093.5L2204.6 1095.9L2205.1 1094.2L2205.5 1093.6L2206.0 1094.8L2206.0 1023.3L2206.3 1012.8L2206.7 992.4L2207.1 1012.9L2207.5 1034.0L2207.9 1058.0L2208.3 1078.1L2208.7 1041.8L2209.1 1014.2L2209.5 991.2L2209.9 1001.6L2210.3 1018.1L2210.7 1022.1L2211.1 999.4L2211.5 979.3L2211.9 962.6L2212.3 965.8L2212.7 972.2L2213.1 989.9L2213.5 987.0L2213.9 986.6L2214.3 1000.7L2214.7 980.8L2215.1 957.5L2215.5 940.0L2215.9 934.5L2216.3 941.6L2216.7 935.2L2217.1 941.9L2217.5 931.4L2217.9 921.0L2218.2 919.8L2218.6 887.6L2219.0 869.2L2219.4 871.2L2219.8 873.9L2220.2 868.6L2220.7 864.3L2221.1 864.6L2221.5 850.9L2221.9 849.5L2222.3 835.8L2222.6 823.3L2223.0 807.6L2223.5 813.5L2223.9 807.2L2224.3 806.7L2224.8 808.6L2225.2 789.5L2225.7 782.9L2226.2 764.4L2226.7 766.2L2227.1 763.2L2227.6 750.4L2228.1 737.6L2228.5 732.8L2228.9 729.2L2229.3 726.6L2229.8 712.6L2230.2 699.3L2230.6 697.2L2231.0 675.7L2231.3 667.1L2231.7 670.7L2232.1 661.4L2232.6 667.3L2233.0 682.2L2233.4 698.2L2233.8 711.4L2234.3 722.0L2234.7 729.8L2235.1 725.9L2235.6 721.7L2236.0 739.6L2236.5 745.4L2236.9 748.3L2237.3 724.3L2237.7 708.4L2238.1 699.5L2238.5 676.0L2238.9 657.7L2239.3 637.6L2239.7 622.2L2240.1 628.5L2240.5 617.8L2241.0 611.4L2241.4 612.8L2241.8 609.2L2242.3 607.9L2242.7 611.0L2243.2 626.7L2243.6 619.5L2244.0 610.5L2244.4 637.1L2244.8 646.7L2245.2 654.3L2245.7 669.8L2246.2 672.5L2246.7 688.0L2247.1 700.7L2247.6 687.7L2248.0 664.7L2248.4 634.6L2248.8 606.7L2248.8 544.8L2249.3 494.8L2249.8 490.4L2250.2 493.4L2250.7 490.0L2251.1 493.9L2251.6 495.8L2252.0 491.6L2252.4 494.4L2252.9 490.5L2253.2 532.6L2253.6 547.1L2253.9 579.7L2254.3 605.5L2254.7 605.2L2255.1 601.6L2255.5 595.9L2256.0 605.5L2256.3 597.8L2256.7 563.8L2257.1 569.9L2257.5 577.2L2257.9 574.7L2258.3 569.4L2258.7 563.6L2259.0 554.3L2259.5 554.0L2259.9 556.1L2260.3 554.9L2260.7 555.9L2261.1 565.2L2261.5 557.7L2261.9 554.3L2262.4 553.9L2262.9 556.9L2263.3 559.4L2263.8 562.6L2264.2 560.7L2264.6 563.3L2265.1 555.2L2265.5 563.8L2265.8 580.3L2266.2 582.9L2266.7 611.4L2267.1 618.1L2267.5 615.1L2267.9 628.1L2268.2 664.9L2268.6 687.6L2269.0 754.3L2269.4 761.1L2269.8 744.1L2270.2 743.7L2270.6 724.1L2271.0 707.5L2271.4 711.4L2271.9 704.7L2272.4 729.5L2272.9 759.0L2273.3 772.1L2273.7 754.8L2274.1 739.6L2274.5 729.1L2274.9 716.3L2275.3 713.4L2275.7 709.0L2276.1 719.1L2276.5 724.2L2277.0 750.9L2277.4 749.5L2277.8 740.8L2278.2 730.4L2278.6 721.6L2279.0 703.4L2279.4 681.9L2279.8 671.0L2280.2 670.2L2280.7 669.2L2281.1 669.1L2281.6 670.2L2282.0 669.2L2282.5 668.8L2282.9 670.7L2283.4 670.5L2283.8 670.5L2284.2 692.6L2284.5 711.4L2284.9 722.7L2285.3 735.1L2285.7 751.9L2286.1 761.4L2286.5 789.3L2286.9 792.4L2287.3 791.8L2287.7 791.3L2288.1 782.6L2288.5 766.2L2288.9 749.2L2289.3 735.2L2289.7 753.1L2290.1 767.9L2290.5 776.9L2291.0 768.5L2291.4 751.6L2291.9 742.4L2292.4 728.1L2292.8 745.7L2293.2 769.5L2293.6 754.1L2294.0 781.7L2294.5 755.2L2294.9 746.8L2295.3 721.2L2295.7 701.9L2296.2 662.6L2296.7 674.7L2297.1 697.8L2297.6 710.8L2298.1 723.3L2298.5 680.5L2298.8 631.7L2299.2 627.6L2299.6 630.3L2300.0 633.9L2300.4 634.9L2300.8 633.4L2301.2 630.5L2301.5 670.6L2301.9 697.1L2302.3 675.9L2302.7 662.2L2303.2 647.2L2303.6 637.6L2304.0 658.0L2304.4 676.7L2304.8 699.7L2305.2 714.3L2305.7 689.4L2306.2 667.7L2306.7 649.5L2307.1 639.0L2307.5 649.9L2307.9 640.3L2308.3 634.0L2308.7 652.9L2309.1 665.2L2309.5 685.2L2310.0 677.0L2310.5 648.6L2311.0 630.9L2311.4 634.0L2311.9 672.7L2312.4 686.4L2312.9 673.9L2313.3 668.7L2313.8 656.1L2314.3 655.5L2314.7 686.8L2315.1 694.7L2315.5 689.5L2315.9 703.0L2316.3 702.1L2316.7 701.4L2317.1 682.7L2317.5 673.8L2317.9 649.5L2318.3 643.6L2318.7 646.4L2319.1 637.3L2319.5 630.5L2320.0 658.5L2320.5 677.8L2321.0 684.0L2321.4 650.4L2321.8 641.9L2322.2 626.5L2322.6 617.4L2323.0 623.1L2323.4 638.4L2323.8 643.3L2324.2 643.4L2324.6 653.2L2325.0 663.8L2325.4 649.6L2325.8 643.6L2326.2 616.7L2326.6 617.7L2327.0 613.3L2327.4 636.4L2327.8 641.7L2328.2 644.9L2328.6 662.6L2329.0 606.7L2329.4 598.2L2329.8 578.1L2330.2 577.9L2330.7 575.8L2331.1 579.0L2331.5 576.7L2332.0 577.7L2332.4 575.8L2332.9 577.3L2333.3 577.6L2333.7 587.1L2334.1 591.7L2334.5 594.8L2334.9 611.0L2335.3 621.0L2335.7 628.1L2336.1 620.4L2336.5 599.8L2336.9 596.0L2337.3 647.1L2337.6 680.5L2338.0 667.3L2338.5 648.4L2338.9 635.7L2339.3 610.2L2339.7 621.7L2340.1 659.4L2340.5 685.7L2340.9 704.8L2341.3 715.4L2341.7 720.5L2342.1 721.0L2342.5 709.7L2342.9 699.7L2343.3 678.1L2343.7 653.7L2344.0 623.3L2344.5 617.0L2344.9 614.8L2345.4 615.3L2345.8 622.1L2346.3 620.0L2346.7 620.3L2347.1 623.3L2347.6 631.1L2348.0 620.4L2348.4 626.6L2348.8 641.0L2349.2 648.9L2349.6 651.2L2350.0 671.0L2350.4 649.3L2350.8 619.8L2351.2 594.8L2351.6 598.8L2352.0 582.1L2352.4 583.5L2352.8 588.5L2353.2 594.3L2353.6 594.3L2354.0 600.5L2354.4 617.1L2354.8 627.5L2355.2 646.0L2355.7 625.5L2356.2 594.6L2356.7 574.5L2357.1 579.1L2357.5 580.2L2357.9 569.8L2358.3 575.1L2358.7 573.7L2359.0 571.7L2359.5 580.3L2359.9 579.2L2360.3 576.6L2360.7 595.0L2361.1 588.0L2361.5 574.0L2361.9 572.1L2361.9 622.1L2362.4 609.7L2362.9 588.8L2363.3 583.2L2363.8 588.8L2364.2 599.3L2364.6 615.1L2365.1 618.7L2365.5 629.3L2365.9 630.6L2366.3 634.9L2366.7 612.8L2367.1 597.2L2367.5 602.3L2367.9 608.6L2368.3 615.7L2368.7 614.8L2369.0 604.8L2369.4 594.9L2369.8 606.3L2370.2 609.0L2370.7 607.9L2371.1 626.1L2371.6 653.2L2372.0 645.0L2372.4 640.4L2372.9 647.5L2373.3 653.8L2373.8 634.1L2374.2 608.7L2374.6 610.7L2375.0 610.2L2375.4 620.2L2375.8 621.8L2376.2 639.0L2376.6 651.4L2377.0 653.3L2377.4 653.1L2377.8 643.2L2378.2 632.9L2378.6 622.9L2379.0 611.0L2379.4 610.4L2379.8 610.5L2380.2 609.5L2380.6 609.7L2381.0 618.1L2381.4 622.9L2381.8 638.8L2382.1 653.1L2382.5 657.0L2382.9 649.2L2383.3 647.0L2383.7 629.5L2384.1 628.3L2384.5 627.6L2384.9 635.3L2385.3 639.1L2385.7 637.7L2386.1 645.9L2386.5 665.6L2386.9 672.9L2387.3 663.9L2387.7 652.7L2388.2 643.4L2388.6 635.7L2389.0 649.6L2389.4 642.4L2389.8 639.8L2390.2 657.4L2390.6 667.3L2391.0 686.4L2391.4 672.3L2391.9 662.9L2392.4 649.3L2392.9 661.0L2393.3 669.9L2393.7 669.5L2394.1 670.9L2394.5 667.0L2394.9 670.6L2395.3 661.8L2395.7 661.4L2396.1 676.8L2396.6 688.0L2397.0 689.4L2397.4 690.4L2397.8 689.8L2398.3 687.7L2398.7 685.8L2399.1 678.7L2399.5 689.5L2399.9 689.6L2400.4 691.5L2400.8 687.4L2401.2 678.1L2401.5 661.3L2401.9 640.0L2402.3 646.0L2402.7 656.7L2403.1 638.5L2403.5 640.7L2403.9 657.7L2404.3 663.8L2404.7 666.4L2405.1 640.2L2405.5 629.0L2406.0 630.5L2406.4 638.4L2406.8 643.8L2407.2 649.9L2407.6 650.7L2408.1 640.8L2408.6 635.9L2409.0 622.1L2409.5 606.5L2409.9 604.6L2410.3 605.3L2410.7 605.7L2411.2 606.5L2411.6 603.0L2412.0 603.7L2412.5 605.6L2412.9 605.9L2413.4 604.9L2413.8 605.5L2413.8 654.3L2414.2 652.9L2414.6 645.1L2415.1 629.8L2415.5 626.9L2415.8 656.4L2416.2 688.8L2416.6 689.8L2417.0 696.0L2417.4 703.0L2417.9 706.2L2418.3 692.8L2418.7 676.4L2419.0 682.6L2419.4 657.5L2419.8 661.3L2420.2 653.1L2420.6 687.8L2421.0 687.9L2421.4 706.7L2421.8 706.6L2422.2 705.9L2422.7 705.4L2423.1 698.7L2423.5 688.9L2423.9 685.1L2424.3 687.6L2424.6 673.5L2425.0 662.6L2425.4 633.3L2425.7 585.2L2426.1 585.5L2426.5 572.2L2427.0 564.4L2427.4 575.7L2427.8 570.1L2428.2 559.6L2428.6 544.8L2429.0 550.7L2429.4 547.1L2429.8 523.3L2430.1 502.1L2430.5 500.7L2431.0 512.9L2431.4 509.7L2431.9 513.9L2432.4 500.0L2432.9 532.9L2433.3 513.6L2433.7 511.7L2434.1 509.7L2434.5 502.4L2435.0 502.0L2435.4 513.0L2435.8 521.8L2436.3 516.8L2436.7 518.4L2437.1 503.1L2437.6 535.2L2438.1 575.7L2438.6 618.6L2438.9 622.1L2439.3 635.2L2439.7 635.0L2440.1 633.9L2440.5 633.8L2440.9 617.5L2441.3 609.4L2441.7 634.0L2442.1 639.8L2442.5 619.8L2442.9 612.9L2443.3 594.3L2443.8 604.4L2444.3 614.0L2444.8 610.8L2445.2 597.1L2445.7 654.3L2446.2 658.9L2446.7 676.3L2447.1 682.9L2447.6 701.8L2448.1 713.8L2448.6 719.3L2449.0 722.8L2449.5 723.3L2449.9 707.2L2450.4 703.5L2450.8 697.1L2451.2 680.5L2451.5 731.5L2451.9 756.7L2452.3 773.3L2452.7 766.0L2453.2 781.6L2453.6 784.0L2454.0 785.8L2454.4 783.9L2454.8 782.6L2455.2 782.9L2455.7 765.6L2456.2 741.2L2456.6 751.8L2457.1 736.1L2457.5 732.2L2458.0 733.9L2458.4 741.2L2458.8 731.8L2459.3 740.0L2459.7 729.9L2460.1 726.2L2460.5 727.6L2460.9 729.5L2461.4 726.9L2461.8 725.9L2462.3 727.6L2462.7 725.5L2463.2 729.5L2463.6 732.7L2464.0 727.6L2464.4 729.8L2464.8 746.0L2465.2 761.2L2465.7 785.2L2466.1 779.9L2466.5 776.7L2466.9 775.5L2467.3 761.6L2467.7 750.5L2468.1 748.3L2468.5 753.6L2468.9 758.8L2469.3 755.1L2469.7 752.5L2470.1 764.9L2470.5 749.0L2470.5 810.2L2471.0 792.2L2471.4 789.4L2471.9 772.1L2472.3 772.7L2472.7 778.0L2473.2 786.4L2473.6 793.6L2474.0 801.3L2474.4 793.1L2474.8 800.1L2475.2 826.9L2475.7 817.3L2476.2 807.7L2476.7 806.2L2477.1 785.2L2477.5 776.6L2477.9 768.1L2478.3 744.8L2478.7 745.9L2479.1 719.1L2479.5 719.8L2480.0 729.2L2480.5 721.3L2481.0 711.8L2481.4 706.7L2481.8 696.7L2482.2 708.5L2482.6 716.0L2483.0 708.2L2483.4 709.7L2483.8 699.5L2484.2 690.1L2484.6 705.0L2485.0 695.3L2485.4 691.3L2485.8 686.9L2486.2 699.0L2486.6 700.6L2487.0 700.2L2487.4 692.7L2487.9 706.7L2488.3 706.9L2488.7 707.2L2489.1 699.7L2489.5 690.0L2490.0 678.6L2490.5 684.0L2491.0 679.0L2491.4 666.2L2491.8 670.2L2492.2 647.2L2492.6 656.9L2493.0 666.0L2493.4 652.5L2493.8 639.5L2494.3 641.8L2494.7 641.3L2495.1 651.9L2495.6 640.1L2496.0 656.7L2496.5 655.6L2496.9 651.8L2497.4 638.8L2497.8 652.6L2498.2 654.5L2498.6 674.9L2499.0 666.2L2499.4 682.2L2499.8 690.0L2500.1 714.9L2500.5 741.2L2501.0 790.0L2501.3 786.9L2501.7 786.0L2502.1 790.0L2502.5 787.4L2502.9 791.5L2503.3 787.6L2503.7 777.1L2504.1 759.8L2504.5 742.4L2505.0 754.6L2505.4 752.7L2505.9 756.5L2506.3 746.6L2506.7 744.1L2507.2 746.6L2507.6 742.9L2508.1 753.9L2508.6 773.3L2509.0 771.6L2509.5 755.2L2509.9 750.3L2510.3 757.0L2510.8 758.6L2511.2 764.2L2511.7 773.3L2512.0 757.4L2512.4 733.3L2512.8 733.7L2513.2 744.1L2513.6 744.3L2514.0 738.7L2514.4 742.2L2514.8 730.2L2515.2 733.3L2515.7 732.3L2516.2 760.5L2516.7 760.8L2517.1 759.0L2517.1 823.3L2517.1 856.7L2517.5 870.7L2517.9 883.2L2518.3 887.2L2518.7 895.2L2519.1 892.8L2519.5 897.6L2519.9 870.1L2520.4 840.6L2520.8 825.2L2521.2 800.7L2521.6 807.4L2522.0 812.5L2522.4 825.1L2522.8 831.4L2523.2 857.5L2523.6 869.8L2524.0 854.1L2524.4 829.4L2524.8 800.7L2525.2 818.2L2525.6 833.8L2526.0 858.8L2526.4 855.5L2526.8 871.0L2527.2 867.3L2527.6 869.8L2528.1 853.5L2528.6 821.6L2529.0 775.2L2529.5 776.4L2529.9 774.6L2530.3 773.8L2530.7 773.6L2531.1 774.6L2531.5 777.5L2531.9 774.5L2532.4 831.7L2532.9 816.5L2533.3 813.1L2533.8 809.5L2534.3 803.1L2534.7 818.5L2535.1 821.2L2535.5 827.4L2535.9 842.6L2536.3 829.8L2536.7 847.6L2537.1 845.2L2537.5 847.5L2537.9 848.8L2538.3 831.2L2538.7 823.0L2539.0 813.8L2539.4 827.5L2539.8 821.3L2540.2 815.7L2540.6 815.8L2541.0 822.2L2541.4 830.5L2541.8 830.2L2542.2 802.4L2542.6 812.6L2543.0 793.4L2543.5 781.9L2543.9 761.9L2544.3 760.2L2544.7 769.9L2545.1 761.4L2545.5 758.7L2545.9 767.2L2546.3 765.3L2546.7 761.4L2547.0 794.0L2547.4 824.5L2547.8 818.8L2548.2 813.9L2548.6 816.9L2549.0 808.3L2549.4 801.5L2549.8 796.0L2550.2 802.6L2550.6 815.2L2551.0 830.0L2551.3 823.2L2551.7 819.3L2552.1 812.9L2552.5 807.4L2552.9 805.9L2553.3 797.1L2553.7 799.4L2554.1 794.3L2554.6 802.5L2555.0 803.0L2555.4 800.9L2555.8 797.1L2556.2 803.8L2556.5 831.5L2556.9 856.7L2556.9 906.7L2557.3 916.3L2557.7 915.3L2558.2 906.5L2558.6 928.1L2559.0 932.8L2559.5 935.6L2560.0 957.9L2560.4 955.7L2560.8 953.8L2561.2 955.7L2561.7 951.9L2561.7 897.1L2562.0 891.6L2562.4 842.4L2562.8 840.3L2563.2 840.2L2563.6 841.7L2564.0 843.4L2564.4 847.5L2564.8 840.5L2565.2 844.1L2565.6 849.1L2566.0 849.7L2566.3 863.0L2566.7 872.0L2567.1 842.4L2567.6 875.7L2567.6 953.1L2568.0 953.3L2568.4 960.2L2568.8 979.3L2569.3 989.7L2569.7 987.7L2570.1 981.3L2570.6 993.9L2571.0 985.4L2571.5 976.4L2571.9 974.9L2572.4 992.9L2572.8 990.8L2573.2 990.9L2573.6 983.2L2574.0 979.0L2574.4 973.8L2574.8 991.9L2575.2 968.0L2575.6 961.7L2576.0 951.9L2576.0 916.2L2576.3 919.8L2576.7 919.7L2577.1 912.6L2577.6 883.3L2578.0 870.9L2578.4 864.7L2578.8 865.2L2579.2 888.1L2579.6 886.6L2580.0 882.9L2580.5 875.1L2581.0 882.8L2581.4 864.3L2581.8 863.7L2582.3 862.7L2582.7 866.0L2583.1 863.7L2583.5 865.0L2583.9 866.2L2584.3 864.5L2584.8 864.3L2585.1 893.7L2585.5 928.1L2585.8 946.6L2586.2 975.7L2586.6 940.5L2587.0 908.0L2587.4 888.8L2587.9 875.7L2588.3 887.0L2588.7 892.7L2589.2 878.6L2589.6 880.2L2590.0 887.1L2590.5 889.6L2590.9 889.5L2591.3 877.4L2591.8 877.2L2592.2 875.3L2592.6 876.2L2593.0 881.2L2593.3 892.4L2593.3 962.6L2593.3 987.6L2593.8 1002.9L2594.3 1011.9L2594.7 1019.6L2595.1 991.7L2595.5 980.0L2595.9 971.2L2596.3 974.1L2596.7 975.2L2597.1 988.9L2597.6 987.9L2598.1 1000.2L2598.6 1017.4L2599.0 1012.6L2599.5 989.4L2600.0 984.5L2600.5 986.4L2600.9 999.8L2601.3 1007.8L2601.7 1011.0L2602.1 1008.9L2602.5 1006.7L2602.9 991.2L2602.9 1024.5L2603.3 1022.1L2603.7 1009.2L2604.0 1021.5L2604.4 1026.8L2604.8 1024.9L2605.2 1018.6L2605.6 1007.2L2606.1 1006.8L2606.5 996.8L2606.9 1005.6L2607.3 1002.4L2607.7 1008.7L2608.1 1001.9L2608.5 1007.9L2608.9 1002.5L2609.3 1000.8L2609.7 1000.9L2610.1 1002.5L2610.5 1002.4L2610.5 1040.0L2610.5 1002.4L2610.5 1037.6L2610.5 1092.4L2611.0 1061.4L2611.0 1134.0L2611.4 1135.2L2611.8 1145.0L2612.2 1150.7L2612.7 1160.4L2613.1 1171.0L2613.6 1146.8L2614.0 1133.3L2614.5 1124.0L2615.0 1097.1L2615.4 1094.2L2615.8 1079.2L2616.2 1052.4L2616.7 1061.4L2617.1 1066.5L2617.6 1084.6L2618.1 1085.2L2618.5 1106.1L2618.9 1119.2L2619.3 1122.8L2619.7 1134.1L2620.1 1128.6L2620.5 1146.0L2620.9 1139.7L2621.3 1139.1L2621.7 1119.3L2622.1 1117.7L2622.5 1113.1L2622.9 1109.0L2623.3 1117.7L2623.7 1117.5L2624.1 1116.8L2624.5 1112.8L2624.9 1123.2L2625.3 1127.8L2625.7 1141.2L2626.2 1125.0L2626.7 1123.8L2627.1 1113.1L2627.6 1109.0L2628.0 1122.5L2628.5 1126.3L2628.9 1135.2L2629.3 1140.0L2629.7 1134.1L2630.1 1123.2L2630.5 1120.9L2631.0 1101.9L2631.3 1112.9L2631.7 1099.3L2632.1 1102.5L2632.5 1103.6L2632.9 1109.1L2633.3 1102.4L2633.8 1108.7L2634.3 1131.7L2634.8 1142.4L2635.2 1158.9L2635.6 1159.0L2636.0 1153.2L2636.4 1158.6L2636.8 1148.6L2637.2 1137.4L2637.6 1130.3L2638.0 1123.8L2638.4 1123.0L2638.8 1132.9L2639.2 1126.4L2639.6 1106.2L2640.0 1102.4L2640.4 1107.3L2640.8 1114.7L2641.2 1108.1L2641.6 1113.8L2642.0 1104.6L2642.4 1102.4L2642.9 1111.9L2643.3 1121.3L2643.8 1136.4L2644.3 1138.8L2644.7 1121.2L2645.1 1116.1L2645.5 1111.5L2646.0 1116.2L2646.4 1109.5L2646.8 1119.2L2647.3 1125.2L2647.7 1130.1L2648.2 1128.3L2648.6 1119.6L2649.1 1132.6L2649.5 1146.2L2649.9 1135.3L2650.3 1140.6L2650.7 1126.9L2651.1 1102.4L2651.4 1092.4L2651.8 1080.3L2652.3 1078.4L2652.7 1080.6L2653.1 1072.1L2653.5 1062.8L2653.9 1062.8L2654.3 1054.0L2654.8 1056.7L2655.2 1053.2L2655.7 1034.2L2656.2 1025.7L2656.5 1008.3L2656.9 1004.3L2657.3 995.6L2657.7 987.0L2658.1 987.6L2658.5 1013.6L2658.9 1013.1L2659.3 994.8L2659.7 1000.2L2660.1 989.0L2660.5 969.8L2660.9 972.4L2661.3 963.1L2661.7 957.9L2662.1 965.4L2662.5 976.5L2662.9 978.0L2663.3 981.6L2663.7 991.4L2664.0 991.2L2664.5 989.1L2664.9 973.1L2665.3 964.0L2665.7 957.1L2666.1 954.4L2666.5 952.9L2666.9 962.0L2667.3 956.8L2667.7 955.5L2668.1 947.6L2668.5 961.7L2668.8 978.1L2669.2 971.4L2669.6 960.0L2670.0 961.6L2670.4 958.3L2670.8 933.7L2671.2 936.4L2671.6 949.6L2672.0 950.0L2672.4 951.5L2672.9 970.5L2673.3 943.2L2673.8 935.9L2674.3 923.3L2674.7 929.7L2675.1 937.0L2675.5 932.8L2675.9 923.6L2676.3 922.2L2676.7 926.9L2677.1 922.9L2677.6 930.9L2678.1 947.5L2678.6 953.7L2679.0 966.2L2679.5 940.8L2679.9 945.2L2680.3 931.0L2680.7 926.9L2681.1 924.5L2681.5 923.6L2681.9 925.1L2682.3 922.7L2682.7 926.3L2683.1 926.9L2683.5 946.5L2683.9 966.5L2684.3 981.7L2684.7 969.6L2685.1 983.8L2685.5 976.9L2685.9 964.6L2686.3 948.9L2686.7 942.4L2687.1 935.0L2687.6 934.9L2688.1 940.1L2688.6 935.7L2689.0 936.0L2689.4 934.6L2689.8 936.7L2690.2 935.5L2690.6 942.3L2691.0 938.5L2691.4 935.7L2691.8 946.8L2692.2 966.7L2692.6 974.5L2693.0 970.3L2693.4 972.2L2693.8 947.1L2694.2 964.8L2694.6 982.6L2695.0 987.6L2695.4 984.2L2695.8 985.6L2696.2 982.4L2696.6 985.1L2697.0 1004.1L2697.4 1018.6L2697.8 1011.0L2698.2 1007.8L2698.6 1001.9L2699.0 1033.4L2699.4 1050.1L2699.8 1060.2L2700.2 1062.1L2700.6 1057.7L2701.0 1061.6L2701.3 1052.1L2701.7 1047.9L2702.1 1040.0L2702.5 1005.8L2702.9 979.3L2703.3 979.6L2703.7 971.8L2704.0 974.8L2704.4 989.6L2704.8 988.4L2705.2 973.8L2705.7 990.9L2706.1 992.0L2706.5 967.4L2706.9 965.7L2707.3 980.2L2707.7 996.9L2708.2 996.2L2708.6 1003.8L2709.0 1003.7L2709.5 983.8L2710.0 971.9L2710.5 965.5L2710.9 964.3L2711.3 967.7L2711.7 972.8L2712.1 976.9L2712.5 973.7L2712.9 975.2L2713.3 997.4L2713.8 1009.4L2714.3 1006.9L2714.8 1011.9L2715.2 996.8L2715.6 995.8L2716.0 987.7L2716.4 975.7L2716.8 968.9L2717.3 979.4L2717.7 989.3L2718.1 1001.4L2718.5 971.0L2718.8 956.7L2719.2 967.7L2719.6 961.9L2720.1 965.5L2720.5 981.0L2720.8 943.0L2721.2 918.6L2721.6 947.6L2722.0 950.4L2722.4 940.4L2722.9 956.7L2722.9 894.8L2723.3 895.9L2723.8 887.9L2724.3 880.5L2724.7 896.8L2725.1 904.2L2725.5 894.8L2726.0 906.7L2726.0 861.4L2726.4 863.8L2726.8 862.2L2727.2 855.8L2727.6 846.0L2728.1 849.9L2728.6 860.4L2729.0 871.0L2729.5 849.4L2729.9 843.9L2730.3 844.8L2730.7 845.2L2731.2 847.7L2731.6 845.4L2732.0 843.6L2732.5 844.3L2732.9 845.5L2733.4 846.7L2733.8 847.1L2734.2 869.5L2734.6 872.8L2735.1 892.8L2735.5 896.7L2735.9 882.7L2736.3 876.3L2736.7 867.3L2737.1 856.7L2737.6 853.1L2738.1 879.4L2738.6 890.4L2739.0 889.5L2739.4 874.6L2739.8 861.9L2740.2 844.8L2740.6 845.5L2741.0 860.4L2741.4 866.1L2741.8 859.5L2742.2 877.8L2742.6 885.2L2743.0 864.2L2743.5 853.2L2743.9 841.6L2744.3 832.9L2744.8 850.2L2745.2 856.9L2745.7 872.1L2746.2 800.7L2746.6 799.0L2747.1 806.5L2747.5 802.6L2748.0 798.9L2748.4 800.7L2748.9 800.2L2749.3 799.3L2749.8 800.0L2750.2 819.3L2750.6 826.6L2751.0 844.3L2751.4 828.4L2751.9 810.4L2752.4 820.1L2752.9 825.7L2753.3 817.6L2753.7 821.4L2754.1 829.3L2754.5 821.1L2754.9 826.5L2755.3 839.8L2755.7 826.2L2756.2 823.2L2756.6 825.4L2757.1 826.3L2757.5 829.4L2757.9 826.9L2758.4 839.4L2758.8 829.3L2759.3 825.7L2759.3 874.5L2759.7 869.5L2760.2 859.0L2760.6 850.5L2761.1 853.3L2761.5 859.8L2761.9 854.3L2762.4 857.9L2762.8 860.4L2763.2 887.2L2763.6 890.2L2764.0 904.3L2764.5 890.2L2764.9 889.9L2765.3 890.4L2765.7 876.9L2766.2 899.2L2766.7 911.4L2767.1 920.5L2767.5 920.2L2767.9 917.3L2768.3 908.8L2768.7 909.1L2769.1 900.1L2769.5 900.7L2769.9 892.8L2770.3 913.6L2770.7 918.5L2771.2 921.9L2771.6 919.7L2772.0 912.9L2772.4 919.8L2772.8 901.3L2773.2 881.9L2773.6 876.9L2774.0 887.0L2774.4 873.7L2774.8 876.5L2775.2 883.6L2775.6 893.8L2776.0 909.0L2776.2 850.0L2776.7 846.2L2777.1 853.2L2777.6 838.8L2778.1 836.0L2778.6 834.0L2779.0 828.6L2779.5 827.6L2780.0 847.9L2780.5 851.4L2781.0 852.5L2781.4 865.7L2781.8 866.3L2782.3 863.0L2782.7 846.1L2783.1 827.1L2783.5 828.1L2784.0 842.6L2784.4 834.1L2784.9 828.5L2785.3 832.4L2785.8 828.6L2786.2 827.2L2786.7 827.6L2787.1 851.1L2787.5 870.1L2787.9 878.1L2788.3 871.3L2788.7 850.0L2789.0 832.4L2789.4 843.5L2789.8 839.1L2790.2 831.7L2790.6 877.2L2791.0 916.2L2791.3 913.1L2791.7 900.2L2792.1 888.0L2792.5 876.9L2792.9 877.0L2793.3 862.6L2793.8 875.0L2794.3 901.9L2794.6 929.2L2795.0 953.1L2795.4 940.5L2795.8 935.2L2796.2 923.8L2796.7 912.6L2797.0 959.4L2797.4 982.9L2797.8 961.0L2798.2 960.6L2798.6 953.1L2799.0 971.7L2799.5 995.2L2800.0 978.1L2800.5 961.4L2801.0 969.1L2801.4 974.0L2801.9 1005.5L2802.4 1021.0L2802.8 1026.6L2803.3 1008.6L2803.7 1009.0L2804.1 1015.6L2804.6 1022.2L2805.0 1021.7L2805.5 1024.5L2806.0 1004.2L2806.4 992.5L2806.9 975.7L2807.4 997.9L2807.9 1013.8L2808.3 1010.1L2808.7 1006.6L2809.0 1016.9L2809.4 998.8L2809.8 991.9L2810.2 985.2L2810.7 985.1L2811.1 999.1L2811.5 1003.3L2811.9 1012.6L2812.3 998.4L2812.8 999.7L2813.2 1010.9L2813.7 1033.5L2814.1 1034.3L2814.6 1033.0L2815.0 1032.9L2815.4 1034.9L2815.8 1035.9L2816.2 1031.3L2816.6 1022.8L2817.0 1028.9L2817.4 1041.2L2817.8 1028.3L2818.2 1027.8L2818.6 1024.6L2819.0 997.0L2819.4 990.7L2819.8 985.2L2820.2 990.2L2820.6 1003.4L2821.1 1009.1L2821.5 1033.5L2822.0 1040.3L2822.4 1042.7L2822.9 1057.4L2823.3 1059.3L2823.7 1048.4L2824.1 1054.0L2824.5 1056.4L2824.9 1059.3L2825.3 1055.0L2825.7 1056.7L2826.1 1036.0L2826.5 1009.7L2826.9 985.2L2827.3 999.1L2827.7 1026.4L2828.1 1044.3L2828.5 1049.4L2828.9 1055.8L2829.3 1044.8L2829.7 1055.4L2830.2 1031.8L2830.6 1022.3L2831.1 1032.4L2831.5 1030.5L2832.0 1036.4L2832.4 1056.6L2832.9 1054.3L2833.3 1048.4L2833.7 1049.3L2834.0 1056.3L2834.4 1057.1L2834.8 1051.1L2835.2 1051.9L2835.6 1020.4L2836.0 1005.7L2836.4 987.6L2836.8 998.3L2837.3 1006.6L2837.7 1025.5L2838.1 1025.7L2838.6 1032.4L2839.0 1017.2L2839.5 1026.2L2840.0 1013.3L2840.4 996.9L2840.8 996.2L2841.2 1004.7L2841.6 1002.9L2842.0 1001.1L2842.4 1001.1L2842.9 1013.8L2843.3 1015.1L2843.8 997.5L2844.3 995.0L2844.8 993.6L2845.2 994.3L2845.7 1019.8L2846.2 1038.2L2846.7 1037.6L2847.1 1059.7L2847.6 1083.3L2848.1 1077.0L2848.5 1074.1L2848.9 1075.4L2849.4 1081.3L2849.8 1068.4L2850.3 1065.1L2850.7 1082.9L2851.1 1074.9L2851.5 1062.6L2851.9 1049.5L2852.3 1061.2L2852.7 1069.6L2853.1 1063.0L2853.5 1077.9L2853.9 1079.7L2854.4 1077.2L2854.8 1081.0L2855.2 1082.1L2855.6 1082.8L2856.1 1074.6L2856.5 1074.9L2857.0 1079.2L2857.4 1079.2L2857.9 1080.0L2858.3 1079.6L2858.7 1063.6L2859.0 1047.1L2859.5 996.7L2860.0 1004.7L2860.4 997.7L2860.8 996.6L2861.2 996.9L2861.7 999.7L2862.1 1005.2L2862.5 1010.7L2863.0 1003.5L2863.4 1002.7L2863.8 996.0L2864.2 1003.7L2864.6 1035.6L2865.0 1059.0L2865.4 1052.5L2865.8 1058.2L2866.2 1074.5L2866.6 1076.1L2867.0 1076.0L2867.4 1074.5L2867.8 1065.0L2868.2 1063.9L2868.6 1068.4L2869.0 1074.5L2869.5 1067.0L2869.9 1064.3L2870.4 1065.6L2870.8 1071.4L2871.3 1068.1L2871.7 1058.8L2872.1 1075.7L2872.6 1075.4L2873.0 1057.6L2873.4 1051.0L2873.8 1037.6L2874.2 1017.4L2874.5 1002.4L2874.9 997.6L2875.3 991.5L2875.7 994.3L2876.1 992.5L2876.5 997.1L2876.9 1001.9L2877.3 1009.4L2877.7 1028.7L2878.2 1036.8L2878.6 1037.1L2879.0 1028.2L2879.4 1020.3L2879.8 999.5L2880.2 1009.7L2880.6 998.7L2881.0 993.6L2881.3 992.2L2881.7 1006.0L2882.1 1004.8L2882.5 1000.9L2882.9 1005.0L2883.3 993.6L2883.7 1013.6L2884.0 1034.0L2884.4 1027.8L2884.8 1032.0L2885.2 1027.0L2885.6 1027.5L2886.0 1033.0L2886.4 1018.6L2886.8 1041.0L2887.2 1069.8L2887.6 1092.4L2888.0 1102.9L2888.4 1112.6L2888.8 1110.2L2889.2 1107.7L2889.6 1120.6L2890.1 1096.2L2890.5 1085.2L2891.0 1111.7L2891.4 1132.6L2891.9 1148.3L2892.3 1125.4L2892.7 1120.5L2893.2 1116.9L2893.6 1109.0L2893.9 1105.0L2894.3 1092.4L2894.7 1100.9L2895.1 1116.7L2895.5 1105.1L2895.9 1095.6L2896.3 1105.0L2896.7 1107.3L2897.1 1109.0L2897.5 1109.3L2897.9 1109.9L2898.3 1110.8L2898.7 1114.1L2899.1 1099.6L2899.5 1088.8L2899.9 1094.5L2900.3 1115.1L2900.7 1111.5L2901.2 1108.9L2901.6 1122.4L2902.0 1122.1L2902.4 1129.3L2902.9 1112.7L2903.3 1100.4L2903.8 1088.8L2904.3 1090.0L2904.8 1093.6L2905.2 1102.3L2905.7 1113.6L2906.2 1123.3L2906.6 1116.7L2907.0 1111.0L2907.4 1107.2L2907.9 1092.9L2908.3 1099.0L2908.7 1104.9L2909.0 1127.5L2909.4 1122.9L2909.8 1125.3L2910.2 1127.6L2910.6 1119.8L2911.0 1107.7L2911.4 1092.3L2911.8 1093.3L2912.2 1097.9L2912.6 1092.4L2913.0 1100.4L2913.4 1110.1L2913.8 1110.6L2914.2 1100.3L2914.6 1109.0L2915.0 1126.2L2915.4 1119.7L2915.8 1118.9L2916.2 1124.9L2916.6 1109.7L2917.0 1096.0L2917.4 1092.4L2917.8 1088.1L2918.2 1104.7L2918.6 1099.3L2919.0 1101.5L2919.4 1103.2L2919.8 1118.6L2920.2 1100.8L2920.6 1077.4L2921.0 1073.5L2921.4 1075.2L2921.9 1078.2L2922.3 1079.5L2922.8 1085.5L2923.2 1074.5L2923.6 1074.0L2924.1 1073.9L2924.5 1074.5L2924.9 1080.0L2925.2 1098.3L2925.7 1109.9L2926.2 1130.5L2926.7 1132.2L2927.1 1120.0L2927.6 1126.7L2928.1 1124.5L2928.6 1156.7L2929.0 1178.5L2929.5 1172.3L2930.0 1175.4L2930.5 1187.6L2930.9 1194.6L2931.3 1196.2L2931.7 1194.5L2932.1 1197.8L2932.5 1197.1L2932.9 1193.6L2933.3 1195.6L2933.7 1197.3L2934.0 1192.1L2934.4 1188.2L2934.8 1185.8L2935.2 1181.7L2935.6 1198.3L2936.0 1183.0L2936.4 1189.5L2936.8 1193.4L2937.2 1181.3L2937.6 1197.1L2938.1 1198.2L2938.6 1204.1L2939.0 1199.5L2939.5 1181.7L2939.9 1179.2L2940.4 1192.4L2940.8 1203.3L2941.2 1209.1L2941.6 1209.7L2942.0 1209.7L2942.4 1204.4L2942.9 1209.5L2943.3 1196.6L2943.8 1182.1L2944.3 1174.5L2944.7 1173.5L2945.1 1173.8L2945.5 1173.3L2945.9 1173.1L2946.3 1174.2L2946.7 1171.9L2947.1 1174.0L2947.5 1173.9L2947.9 1172.2L2948.3 1172.3L2948.7 1171.8L2949.1 1174.3L2949.5 1186.4L2949.9 1186.2L2950.3 1192.4L2950.7 1190.4L2951.2 1186.0L2951.6 1183.5L2952.0 1194.9L2952.4 1175.7L2952.9 1181.9L2953.3 1183.0L2953.8 1193.3L2954.3 1187.6L2954.7 1198.9L2955.1 1190.7L2955.5 1204.3L2955.8 1216.2L2956.2 1247.1L2956.7 1259.8L2957.1 1272.1L2957.6 1266.7L2958.1 1271.5L2958.6 1280.9L2959.0 1280.5L2959.5 1275.5L2960.0 1271.1L2960.5 1264.5L2961.0 1249.0L2961.3 1256.2L2961.7 1266.7L2962.1 1282.8L2962.5 1286.8L2962.9 1284.1L2963.3 1281.7L2963.7 1293.9L2964.1 1289.2L2964.5 1295.2L2964.9 1294.1L2965.3 1295.8L2965.7 1294.3L2966.2 1281.4L2966.7 1259.0L2967.1 1247.4L2967.6 1250.4L2968.1 1221.4L2968.5 1237.9L2968.9 1224.8L2969.3 1219.7L2969.7 1219.5L2970.1 1221.6L2970.5 1234.8L2971.0 1221.0L2971.3 1246.1L2971.7 1246.2L2972.1 1256.7L2972.6 1260.7L2973.0 1252.0L2973.4 1250.5L2973.8 1238.8L2974.3 1246.3L2974.8 1256.5L2975.2 1273.2L2975.7 1282.9L2976.1 1286.2L2976.5 1285.9L2976.9 1288.3L2977.3 1282.4L2977.7 1253.4L2978.1 1248.3L2978.6 1217.4L2979.0 1220.1L2979.4 1229.9L2979.8 1221.0L2980.2 1218.7L2980.6 1221.7L2981.0 1216.7L2981.4 1208.9L2981.9 1228.4L2982.4 1222.2L2982.9 1234.0L2983.3 1222.7L2983.7 1225.8L2984.0 1200.7L2984.4 1205.0L2984.8 1202.4L2985.2 1205.6L2985.6 1198.7L2986.0 1203.2L2986.4 1200.0L2986.8 1215.4L2987.3 1225.4L2987.7 1219.3L2988.1 1233.3L2988.6 1228.9L2989.0 1211.2L2989.5 1204.5L2990.0 1204.3L2990.4 1208.5L2990.8 1213.2L2991.2 1213.3L2991.6 1220.3L2992.0 1223.2L2992.4 1225.7L2992.8 1227.5L2993.2 1216.7L2993.6 1201.9L2994.0 1219.9L2994.4 1207.8L2994.8 1217.6L2995.2 1212.6L2995.7 1201.5L2996.2 1175.8L2996.7 1169.8L2997.1 1192.0L2997.5 1191.4L2997.9 1188.8L2998.3 1196.6L2998.7 1200.6L2999.0 1204.3L2999.5 1180.6L3000.0 1165.0L3000.5 1160.4L3001.0 1154.9L3001.4 1152.5L3001.9 1154.8L3002.3 1154.4L3002.7 1154.6L3003.1 1154.8L3003.5 1155.4L3003.9 1158.0L3004.3 1154.8L3004.8 1199.5L3005.2 1194.6L3005.6 1185.0L3006.0 1188.3L3006.3 1181.0L3006.7 1166.1L3007.1 1170.0L3007.5 1171.8L3007.9 1177.2L3008.3 1183.0L3008.7 1180.9L3009.1 1186.1L3009.5 1170.5L3009.9 1200.4L3010.2 1224.5L3010.7 1207.4L3011.1 1196.2L3011.5 1192.4L3011.9 1186.4L3012.4 1208.0L3012.9 1220.0L3013.3 1242.4L3013.8 1235.1L3014.2 1231.9L3014.6 1221.5L3015.0 1206.7L3015.4 1200.3L3015.9 1213.4L3016.3 1206.6L3016.8 1214.8L3017.2 1211.6L3017.7 1207.3L3018.1 1207.4L3018.6 1207.1L3019.0 1213.1L3019.5 1220.5L3020.0 1237.7L3020.5 1242.4L3021.0 1251.0L3021.4 1269.8L3021.9 1257.9L3022.4 1272.6L3022.9 1299.5L3023.3 1308.2L3023.7 1316.5L3024.1 1315.5L3024.5 1323.3L3024.9 1343.6L3025.3 1358.3L3025.7 1371.0L3026.2 1400.8L3026.7 1423.3L3027.1 1430.2L3027.5 1405.6L3027.9 1401.2L3028.3 1398.8L3028.7 1374.5L3029.1 1368.5L3029.5 1352.9L3030.0 1353.1L3030.5 1379.6L3031.0 1386.9L3031.4 1384.6L3031.9 1386.0L3032.4 1388.3L3032.9 1386.9L3032.9 1317.1L3033.3 1317.0L3033.7 1313.5L3034.1 1320.2L3034.5 1316.9L3035.0 1352.9L3035.4 1361.8L3035.8 1355.6L3036.2 1358.7L3036.6 1348.0L3037.0 1346.9L3037.4 1350.5L3037.9 1300.2L3038.3 1306.9L3038.7 1316.9L3039.1 1316.9L3039.5 1308.5L3039.9 1309.4L3040.3 1298.5L3040.7 1300.0L3041.1 1328.0L3041.5 1323.3L3041.9 1339.8L3042.3 1335.0L3042.7 1338.4L3043.2 1334.2L3043.6 1339.3L3043.6 1283.3L3044.0 1268.2L3044.5 1265.5L3044.9 1292.2L3045.3 1300.0L3045.7 1321.9L3046.1 1289.8L3046.4 1255.2L3046.8 1246.2L3047.1 1216.2L3047.6 1233.2L3048.1 1240.5L3048.6 1278.1L3049.0 1200.0L3049.5 1161.4L3050.0 1147.3L3050.5 1143.6L3050.9 1144.2L3051.3 1144.4L3051.8 1147.2L3052.2 1142.6L3052.7 1151.2L3053.1 1143.1L3053.5 1174.5L3053.8 1231.7L3054.2 1205.1L3054.6 1200.4L3055.1 1184.8L3055.5 1180.5L3055.9 1192.5L3056.3 1214.0L3056.7 1231.7L3057.1 1224.4L3057.6 1213.8L3058.1 1203.6L3058.6 1192.4L3059.0 1195.4L3059.5 1213.8L3059.9 1204.6L3060.2 1178.1L3060.7 1176.9L3061.1 1185.0L3061.5 1192.6L3061.9 1197.1L3062.4 1149.5L3062.9 1141.9L3063.3 1139.6L3063.8 1123.8L3064.2 1150.7L3064.6 1161.4L3065.0 1171.0L3065.4 1171.4L3065.8 1152.5L3066.2 1130.3L3066.7 1123.3L3067.1 1139.6L3067.6 1141.8L3068.1 1148.3L3068.5 1120.5L3068.9 1113.3L3069.3 1112.5L3069.8 1106.2L3070.2 1104.0L3070.6 1115.8L3071.1 1110.6L3071.5 1115.8L3072.0 1106.5L3072.4 1106.8L3072.9 1105.5L3073.3 1119.6L3073.8 1135.7L3074.3 1113.6L3074.8 1102.2L3075.2 1091.2L3075.7 1099.7L3076.1 1099.2L3076.6 1108.0L3077.0 1107.3L3077.5 1105.8L3077.9 1094.5L3078.4 1098.2L3078.8 1091.3L3079.3 1090.7L3079.6 1102.0L3080.0 1128.1L3080.4 1128.5L3080.8 1123.6L3081.2 1114.0L3081.7 1109.0L3082.0 1143.8L3082.4 1172.1L3082.8 1185.4L3083.2 1194.6L3083.6 1192.2L3084.0 1194.3L3084.5 1195.2L3084.9 1189.2L3085.4 1199.2L3085.8 1183.7L3086.3 1179.2L3086.7 1191.5L3087.1 1193.6L3087.6 1132.9L3088.1 1138.2L3088.6 1142.9L3089.0 1130.6L3089.5 1129.3L3089.9 1129.5L3090.3 1126.2L3090.7 1126.7L3091.1 1129.6L3091.5 1132.8L3091.9 1128.8L3092.4 1165.7L3092.9 1151.3L3093.3 1134.2L3093.8 1132.9L3094.3 1148.3L3094.7 1145.0L3095.1 1155.8L3095.5 1167.1L3096.0 1190.7L3096.4 1189.3L3096.8 1190.4L3097.2 1191.2L3097.6 1190.0L3098.0 1146.3L3098.3 1109.0L3098.8 1125.4L3099.2 1137.2L3099.6 1155.8L3100.0 1175.7L3100.5 1150.0L3101.0 1136.5L3101.4 1103.1L3101.8 1109.1L3102.3 1114.0L3102.7 1122.7L3103.1 1136.4L3103.5 1120.8L3103.9 1105.2L3104.3 1090.0L3104.8 1110.3L3105.2 1105.7L3105.7 1111.1L3106.2 1115.0L3106.6 1098.3L3107.0 1093.0L3107.4 1084.6L3107.9 1072.1L3108.3 1072.0L3108.7 1085.3L3109.1 1088.6L3109.5 1094.8L3110.0 1072.5L3110.5 1066.7L3111.0 1059.0L3111.4 1064.9L3111.8 1075.5L3112.2 1063.1L3112.6 1076.2L3113.0 1061.0L3113.3 1041.2L3113.7 1037.3L3114.1 1033.9L3114.5 1026.1L3114.9 1022.6L3115.3 1022.5L3115.7 1023.3L3116.1 1029.4L3116.5 1030.6L3116.9 1030.7L3117.3 1043.0L3117.8 1029.4L3118.2 1036.0L3118.6 1022.4L3119.0 1027.9L3119.4 1043.4L3119.8 1058.6L3120.2 1060.8L3120.6 1059.3L3121.0 1058.8L3121.3 1057.7L3121.7 1062.3L3122.1 1037.6L3122.6 1051.3L3123.0 1050.5L3123.4 1047.4L3123.8 1050.7L3124.3 1042.4L3124.8 1034.7L3125.2 1012.6L3125.6 1024.3L3126.0 1026.2L3126.4 1037.3L3126.8 1042.0L3127.2 1049.3L3127.6 1047.1L3128.1 999.5L3128.5 1006.7L3128.9 997.8L3129.3 1028.1L3129.7 1027.4L3130.1 1011.6L3130.5 990.0L3130.7 973.3L3131.2 970.2L3131.6 977.4L3132.1 956.2L3132.5 963.3L3132.9 977.5L3133.4 983.2L3133.8 995.0L3134.3 1004.9L3134.9 959.0L3135.3 954.0L3135.7 958.8L3136.2 973.3L3136.6 954.6L3137.0 950.6L3137.4 953.6L3137.9 952.5L3138.3 972.2L3138.7 977.2L3139.0 978.3L3139.4 981.5L3139.8 988.0L3140.2 1003.1L3140.7 991.9L3141.1 972.9L3141.6 969.0L3142.0 963.8L3142.5 957.5L3142.9 966.4L3143.4 970.3L3143.8 985.2L3144.2 977.2L3144.6 966.1L3145.0 966.5L3145.4 968.3L3145.8 962.7L3146.2 957.9L3146.6 953.6L3147.0 957.6L3147.4 960.1L3147.8 968.7L3148.2 967.4L3148.6 979.3L3149.0 968.3L3149.5 949.9L3149.9 941.7L3150.4 943.6L3150.8 943.9L3151.2 962.4L3151.7 964.6L3152.1 955.1L3152.6 956.8L3153.0 955.5L3153.5 963.8L3153.9 958.5L3154.5 931.7L3155.0 930.1L3155.4 923.8L3155.8 925.1L3156.2 935.7L3156.7 930.5L3157.1 923.0L3157.5 926.0L3157.9 918.5L3158.3 918.1L3158.8 920.8L3159.2 916.7L3159.7 915.3L3160.1 915.5L3160.5 918.7L3161.0 916.8L3161.4 917.6L3161.8 929.4L3162.2 925.7L3162.6 924.3L3163.0 928.4L3163.4 926.3L3163.8 922.1L3164.2 935.4L3164.6 936.5L3165.0 936.6L3165.4 934.8L3165.8 940.0L3166.2 950.0L3166.7 963.8L3167.0 988.2L3167.5 983.3L3167.9 983.4L3168.4 990.1L3168.8 987.6L3169.4 943.6L3169.8 934.6L3170.2 947.2L3170.6 955.5L3171.0 963.4L3171.4 951.9L3171.8 970.5L3172.2 968.6L3172.6 989.8L3173.0 1002.5L3173.4 998.8L3173.8 978.4L3174.2 959.0L3174.6 978.4L3175.0 986.7L3175.4 1011.4L3175.8 1009.5L3176.2 1029.9L3176.6 1024.7L3177.0 1024.5L3177.5 1017.3L3177.9 1033.0L3178.3 1030.2L3178.8 1011.3L3179.3 1001.3L3179.8 1015.0L3180.2 1018.7L3180.7 1022.1L3181.3 1028.1L3181.7 1022.2L3182.1 1030.2L3182.5 1048.3L3182.9 1051.4L3183.3 1056.6L3183.7 1066.2L3184.1 1058.3L3184.5 1067.0L3184.9 1068.4L3185.3 1068.3L3185.7 1065.9L3186.1 1067.1L3186.5 1065.7L3186.9 1066.1L3187.3 1060.8L3187.7 1065.8L3188.1 1069.1L3188.5 1066.2L3188.8 1058.0L3189.2 1061.1L3189.6 1061.4L3189.6 1008.5L3190.2 994.8L3190.6 993.0L3191.0 994.5L3191.4 996.5L3191.8 998.3L3192.2 998.1L3192.6 994.2L3193.0 1015.3L3193.4 1041.1L3193.8 1051.3L3194.2 1050.5L3194.6 1048.9L3195.0 1050.3L3195.4 1050.1L3195.8 1053.1L3196.2 1051.3L3196.7 1030.0L3197.1 1012.0L3197.5 1012.1L3198.0 1008.4L3198.4 1015.1L3198.8 1018.3L3199.2 1023.9L3199.5 993.6L3200.0 998.9L3200.4 1005.2L3200.8 1007.9L3201.3 1004.2L3201.7 1009.7L3202.1 1022.1L3202.1 956.7L3202.5 946.4L3202.9 921.0L3203.3 912.8L3203.8 922.4L3204.3 905.8L3204.8 909.0L3205.2 901.7L3205.7 902.7L3206.2 896.4L3206.7 900.7L3207.1 912.8L3207.5 913.6L3207.9 921.7L3208.3 918.7L3208.7 915.2L3209.0 900.2L3209.5 913.4L3210.0 913.8L3210.4 925.0L3210.7 940.0L3211.2 950.7L3211.7 956.7L3212.3 975.7L3212.7 982.8L3213.1 992.4L3213.5 985.2L3213.9 1000.7L3214.3 989.3L3214.6 994.2L3215.2 1043.6L3215.7 1054.1L3216.1 1047.4L3216.6 1049.6L3217.0 1044.2L3217.6 1070.4L3218.0 1062.9L3218.4 1055.2L3218.8 1065.1L3219.2 1072.5L3219.6 1070.3L3220.0 1070.4L3220.6 1016.2L3221.0 1022.4L3221.5 1032.1L3221.9 1024.1L3222.4 1040.0L3223.0 999.5L3223.4 1004.4L3223.8 1014.1L3224.2 1014.1L3224.6 1018.2L3225.0 1022.3L3225.4 1039.4L3225.7 971.4L3226.1 979.5L3226.5 972.0L3226.9 978.1L3227.3 972.5L3227.7 970.7L3228.2 972.1L3228.6 971.5L3229.1 973.3L3229.5 971.0L3230.1 1034.6L3230.5 1030.8L3230.9 1010.1L3231.3 1008.3L3231.7 991.8L3232.1 974.0L3232.6 991.2L3233.1 1011.4L3233.5 1038.8L3233.9 1034.8L3234.3 1055.5L3234.7 1058.4L3235.2 1057.8L3235.6 1060.5L3236.1 1059.6L3236.7 993.0L3237.1 1018.4L3237.5 1049.1L3237.9 1059.6L3238.3 1035.3L3238.7 1009.2L3239.0 992.4L3239.5 999.1L3240.0 1024.9L3240.5 1041.5L3240.8 992.4L3241.3 1004.8L3241.7 1012.8L3242.2 1042.3L3242.6 1049.5L3243.2 1009.0L3243.6 1022.6L3244.0 1029.8L3244.4 1060.8L3244.8 1067.9L3245.2 1070.1L3245.6 1070.4L3246.0 1061.3L3246.4 1062.0L3246.8 1071.7L3247.2 1069.2L3247.6 1068.2L3248.0 1070.4L3248.3 1013.8L3248.8 1041.6L3249.2 1039.4L3249.5 979.9L3250.0 949.5L3250.0 901.9L3250.4 892.0L3250.8 883.9L3251.2 866.2L3251.6 878.8L3252.0 854.6L3252.4 834.0L3252.9 837.3L3253.3 846.9L3253.8 867.7L3254.3 866.2L3254.7 848.6L3255.1 850.2L3255.5 849.1L3256.0 810.5L3256.3 839.2L3256.7 851.1L3257.1 865.7L3257.6 850.4L3258.1 814.1L3258.6 798.6L3259.0 764.3L3259.5 762.9L3259.9 763.8L3260.3 763.5L3260.7 762.9L3261.1 763.8L3261.5 762.9L3262.0 768.9L3262.4 763.8L3262.4 874.5L3262.9 853.4L3263.3 838.7L3263.8 830.3L3264.3 811.4L3264.7 820.7L3265.1 844.4L3265.5 860.7L3265.9 874.4L3266.3 905.2L3266.7 929.3L3267.1 902.3L3267.6 871.2L3268.1 836.1L3268.6 810.5L3269.0 835.4L3269.4 848.6L3269.8 855.2L3270.2 886.4L3270.7 845.3L3271.1 824.5L3271.5 798.7L3271.9 782.9L3272.4 769.2L3272.9 760.2L3273.3 741.0L3273.8 741.5L3274.2 740.8L3274.6 741.0L3275.0 739.2L3275.4 740.2L3275.8 743.2L3276.2 738.8L3276.7 740.5L3276.7 832.9L3277.1 818.6L3277.6 799.4L3278.1 782.0L3278.6 766.2L3279.0 785.0L3279.5 821.1L3280.0 817.4L3280.5 832.4L3280.9 820.7L3281.3 811.9L3281.7 798.7L3282.1 768.6L3282.6 789.1L3283.0 801.0L3283.4 823.8L3283.8 857.9L3284.3 846.2L3284.8 822.3L3285.2 793.6L3285.7 790.0L3286.2 787.8L3286.7 783.3L3287.1 770.7L3287.6 767.6L3288.0 787.3L3288.5 818.2L3288.9 837.0L3289.3 849.5L3289.7 823.6L3290.1 796.0L3290.5 792.4L3291.0 777.6L3291.4 812.8L3291.9 839.6L3292.4 842.0L3292.9 848.6L3293.3 837.0L3293.8 822.5L3294.3 819.9L3294.8 797.6L3295.2 800.5L3295.6 811.7L3296.0 825.6L3296.3 832.0L3296.7 841.3L3297.1 840.0L3297.6 828.3L3298.0 818.1L3298.4 813.1L3298.8 805.5L3299.2 822.2L3299.6 824.1L3300.1 823.5L3300.5 830.5L3301.0 808.7L3301.4 778.0L3301.9 749.5L3302.3 757.1L3302.7 754.8L3303.2 731.9L3303.6 721.4L3304.0 720.2L3304.4 721.7L3304.9 720.5L3305.3 721.4L3305.8 720.7L3306.2 721.0L3306.7 813.3L3307.1 834.5L3307.6 857.9L3308.1 823.0L3308.6 806.3L3309.0 817.7L3309.5 775.7L3309.9 784.7L3310.3 780.1L3310.7 794.4L3311.1 820.7L3311.5 806.5L3311.9 804.3L3312.4 809.6L3312.9 829.2L3313.3 845.6L3313.8 870.5L3314.3 831.2L3314.8 785.2L3315.2 784.4L3315.6 790.4L3316.0 805.9L3316.3 805.7L3316.7 826.2L3317.1 835.2L3317.5 802.4L3317.9 770.5L3318.3 767.6L3318.7 771.0L3319.0 768.9L3319.4 769.8L3319.8 771.2L3320.2 769.5L3320.6 786.1L3321.0 813.3L3321.3 797.0L3321.7 790.1L3322.1 768.4L3322.5 774.2L3322.9 769.5L3323.3 770.0L3323.8 787.7L3324.3 813.3L3324.8 805.4L3325.2 797.3L3325.7 786.9L3326.2 797.6L3326.6 793.3L3327.0 795.8L3327.4 798.6L3327.8 819.6L3328.2 826.2L3328.6 833.4L3329.0 856.7L3329.4 814.1L3329.8 798.3L3330.2 812.2L3330.6 828.4L3331.0 840.2L3331.4 856.7L3331.9 848.0L3332.4 837.8L3332.9 830.6L3333.3 810.5L3333.7 831.9L3334.1 864.1L3334.5 880.5L3334.9 868.9L3335.3 848.2L3335.7 837.6L3336.1 870.5L3336.5 905.6L3336.9 921.0L3337.3 917.7L3337.7 930.9L3338.1 949.8L3338.5 943.6L3338.9 947.8L3339.3 948.3L3339.7 938.3L3340.1 923.5L3340.5 917.7L3341.0 880.5L3341.3 884.9L3341.7 888.7L3342.1 913.9L3342.5 920.6L3342.9 935.7L3343.3 944.8L3343.8 920.4L3344.3 895.0L3344.8 871.0L3345.2 878.7L3345.6 905.0L3346.0 911.7L3346.4 942.4L3346.8 940.8L3347.3 932.5L3347.7 918.4L3348.1 911.4L3348.6 896.2L3349.0 871.9L3349.5 850.0L3349.9 854.6L3350.4 884.0L3350.8 898.2L3351.2 912.1L3351.6 891.9L3352.0 869.2L3352.4 847.7L3352.9 841.9L3353.3 838.2L3353.7 842.3L3354.1 841.5L3354.6 842.9L3355.0 841.9L3355.4 841.0L3355.8 842.9L3356.2 843.3L3356.7 841.4L3357.1 852.5L3357.5 866.8L3357.9 881.4L3358.3 890.0L3358.7 873.8L3359.1 877.1L3359.5 849.5L3360.0 925.7L3360.4 934.7L3360.8 932.5L3361.3 930.1L3361.7 931.9L3362.1 932.8L3362.5 942.6L3363.0 952.9L3363.4 947.7L3363.8 950.7L3364.3 919.6L3364.8 894.3L3365.2 908.7L3365.7 929.0L3366.2 938.7L3366.7 935.2L3367.1 909.8L3367.5 902.5L3367.9 882.9L3368.3 906.7L3368.7 907.1L3369.1 910.8L3369.5 921.0L3369.9 891.7L3370.2 865.7L3370.6 867.2L3371.0 861.3L3371.4 874.9L3371.8 882.6L3372.2 899.0L3372.6 898.3L3373.0 879.7L3373.4 855.2L3373.8 831.7L3374.3 848.9L3374.8 868.2L3375.2 893.0L3375.7 897.9L3376.1 892.9L3376.5 871.3L3376.9 875.0L3377.3 859.2L3377.7 844.4L3378.1 828.6L3378.5 831.8L3378.9 845.5L3379.3 864.2L3379.8 869.0L3380.2 862.3L3380.6 859.3L3381.0 838.3L3381.3 851.2L3381.7 843.1L3382.1 836.4L3382.5 827.2L3382.9 835.4L3383.3 851.9L3383.7 856.5L3384.1 869.1L3384.5 878.1L3384.9 876.1L3385.3 874.3L3385.7 877.8L3386.1 869.5L3386.5 859.6L3386.9 856.7L3387.3 839.8L3387.6 817.4L3388.1 809.8L3388.6 780.5L3388.9 766.5L3389.3 753.8L3389.7 755.5L3390.1 761.2L3390.5 767.6L3390.9 779.9L3391.3 774.4L3391.7 753.8L3391.9 792.4L3392.3 792.5L3392.8 779.2L3393.2 773.6L3393.6 757.0L3394.0 760.2L3394.4 761.2L3394.8 769.5L3395.2 773.7L3395.6 782.5L3396.0 794.6L3396.4 811.9L3396.8 806.9L3397.2 789.4L3397.6 779.7L3398.0 776.6L3398.4 771.3L3398.8 751.9L3399.3 752.6L3399.7 751.3L3400.1 753.5L3400.6 751.0L3401.0 763.1L3401.5 757.3L3401.9 751.4L3402.4 806.2L3402.8 811.0L3403.2 805.0L3403.6 790.8L3404.0 782.8L3404.4 779.0L3404.8 762.6L3405.2 765.9L3405.6 766.2L3406.0 752.1L3406.5 762.8L3406.9 771.0L3407.3 777.0L3407.8 798.8L3408.2 810.9L3408.6 814.9L3409.0 811.9L3409.5 797.7L3409.9 793.2L3410.3 784.1L3410.7 775.2L3411.2 784.7L3411.6 771.3L3412.0 786.0L3412.5 774.3L3412.9 767.9L3413.4 785.0L3413.8 805.5L3414.2 790.4L3414.6 782.8L3415.1 775.1L3415.5 774.8L3415.9 772.1L3416.3 767.3L3416.7 772.9L3417.1 776.0L3417.5 784.3L3417.9 804.3L3418.3 798.3L3418.7 774.0L3419.0 764.3L3419.5 781.8L3420.0 786.1L3420.5 776.1L3421.0 797.1L3421.4 741.0L3421.8 744.7L3422.2 762.8L3422.7 759.4L3423.1 758.5L3423.5 775.5L3423.9 783.9L3424.3 786.4L3424.7 790.8L3425.1 789.0L3425.5 777.5L3425.9 773.2L3426.3 767.8L3426.7 745.2L3427.1 750.0L3427.6 757.5L3428.1 769.8L3428.5 767.6L3428.9 781.2L3429.3 783.3L3429.7 768.7L3430.1 782.7L3430.5 783.9L3431.0 779.3L3431.3 766.8L3431.7 752.3L3432.1 718.6L3432.6 711.3L3433.0 706.8L3433.4 701.7L3433.8 701.9L3434.3 684.2L3434.8 660.5L3435.2 655.2L3435.6 655.0L3436.0 654.1L3436.4 656.7L3436.8 654.3L3437.2 654.1L3437.6 654.8L3438.1 707.9L3438.5 693.3L3438.9 699.5L3439.3 692.8L3439.7 679.3L3440.1 667.5L3440.5 669.4L3441.0 661.0L3441.4 683.9L3441.9 698.3L3442.4 734.0L3442.8 737.7L3443.3 739.0L3443.7 723.4L3444.2 727.1L3444.6 730.3L3445.1 733.5L3445.5 738.1L3446.0 736.7L3446.4 728.7L3446.9 722.7L3447.3 677.0L3447.8 675.6L3448.2 673.7L3448.7 678.8L3449.1 680.3L3449.5 680.0L3450.0 686.2L3450.4 681.6L3450.9 689.0L3451.3 671.7L3451.7 670.4L3452.2 673.5L3452.6 671.7L3453.0 671.8L3453.5 672.0L3453.9 670.9L3454.3 672.5L3454.7 673.8L3455.1 668.7L3455.5 680.3L3456.0 688.8L3456.4 700.9L3456.9 706.1L3457.3 707.0L3457.8 706.6L3458.3 706.0L3458.7 707.7L3459.1 704.1L3459.5 700.5L3459.9 706.8L3460.3 704.4L3460.8 688.8L3461.2 685.6L3461.6 694.6L3462.0 707.9L3462.4 707.5L3462.8 700.7L3463.2 703.9L3463.7 705.6L3464.0 696.5L3464.4 681.5L3464.8 680.3L3464.8 637.9L3465.2 626.9L3465.7 636.0L3466.1 628.1L3466.5 646.7L3466.9 656.0L3467.3 657.6L3467.7 665.7L3468.1 663.8L3468.5 662.3L3468.9 655.0L3469.3 639.2L3469.7 628.9L3470.1 636.6L3470.5 659.4L3471.0 665.7L3471.4 663.2L3471.8 668.5L3472.2 652.4L3472.6 635.3L3473.0 628.9L3473.4 621.9L3473.8 621.3L3474.3 623.0L3474.7 621.1L3475.1 620.0L3475.5 619.9L3475.9 622.2L3476.3 619.3L3476.7 621.6L3477.1 642.6L3477.5 657.9L3477.8 679.5L3478.3 675.0L3478.7 659.1L3479.1 642.2L3479.5 642.9L3480.0 624.0L3480.4 638.2L3480.9 640.0L3481.3 649.8L3481.8 656.4L3482.3 657.0L3482.7 668.9L3483.2 640.9L3483.6 635.7L3484.0 607.5L3484.4 598.0L3484.9 582.4L3485.3 597.7L3485.7 599.4L3486.1 630.2L3486.5 641.5L3486.9 634.7L3487.3 655.0L3487.7 616.2L3488.1 581.6L3488.5 596.4L3488.9 616.5L3489.3 616.2L3489.7 634.8L3490.2 629.5L3490.6 641.1L3490.9 560.4L3491.3 582.8L3491.8 576.1L3492.2 588.7L3492.6 593.8L3493.1 597.5L3493.5 600.3L3493.9 577.8L3494.3 557.9L3494.6 556.3L3495.0 564.6L3495.5 573.2L3495.9 571.4L3496.3 574.3L3496.7 559.9L3497.1 545.6L3497.5 547.4L3497.9 540.0L3498.3 541.8L3498.7 535.7L3499.1 546.0L3499.5 556.0L3499.9 541.5L3500.3 532.5L3500.7 531.8L3501.2 524.1L3501.7 509.0L3502.1 492.7L3502.5 503.7L3502.9 496.7L3503.3 483.7L3503.7 478.8L3504.1 472.8L3504.5 478.8L3504.9 464.5L3505.4 451.7L3505.8 450.8L3506.2 452.7L3506.7 449.5L3507.2 449.5L3507.7 441.6L3508.1 438.9L3508.5 441.9L3508.9 440.7L3509.3 441.6L3509.8 449.4L3510.3 458.6L3510.8 464.2L3511.2 483.0L3511.6 501.3L3512.0 524.8L3512.4 525.8L3512.7 527.0L3512.9 549.8L3513.1 588.9L3513.4 610.3L3513.7 624.8L3514.2 639.4L3514.7 654.2L3515.2 675.2L3515.7 703.1L3516.2 728.3L3516.7 769.2L3517.1 759.2L3517.5 768.5L3517.9 753.9L3518.3 752.0L3518.7 726.7L3519.1 693.3L3519.5 674.1L3519.9 661.0L3520.4 669.4L3520.8 676.8L3521.3 666.4L3521.7 682.4L3522.2 695.4L3522.6 699.3L3523.1 706.6L3523.5 706.4L3523.9 689.2L3524.3 666.2L3524.7 642.5L3525.1 639.2L3525.6 670.6L3526.0 685.4L3526.4 706.8L3526.8 726.2L3527.3 740.6L3527.7 748.7L3528.1 750.4L3528.5 746.6L3528.9 746.3L3529.3 745.4L3529.7 750.4L3530.0 654.2L3530.4 666.8L3530.8 679.1L3531.3 684.2L3531.7 715.3L3532.2 632.2L3532.6 641.5L3533.0 642.2L3533.4 659.9L3533.8 658.8L3534.2 674.4L3534.6 678.3L3535.0 639.4L3535.4 622.4L3535.8 636.4L3536.3 642.4L3536.7 643.1L3537.1 652.7L3537.5 646.0L3538.0 635.5L3538.5 623.6L3538.9 610.0L3539.4 611.6L3539.8 611.4L3540.2 626.0L3540.7 616.9L3541.1 621.5L3541.5 647.8L3541.9 646.0L3542.3 644.0L3542.8 632.9L3543.2 626.3L3543.6 619.0L3544.0 618.3L3544.4 611.0L3544.8 609.5L3545.2 614.4L3545.6 616.2L3546.0 624.4L3546.4 609.8L3546.8 611.8L3547.2 634.9L3547.6 660.7L3548.1 660.1L3548.5 640.7L3548.9 640.5L3549.3 645.0L3549.7 636.2L3550.1 636.2L3550.5 661.6L3550.9 699.0L3551.3 710.8L3551.8 733.1L3552.2 734.1L3552.7 720.5L3553.1 707.5L3553.6 717.3L3554.1 726.8L3554.5 735.6L3555.0 737.0L3555.4 710.5L3555.8 685.6L3556.1 671.8L3556.5 686.8L3556.9 681.0L3557.4 701.1L3557.8 717.0L3558.2 710.1L3558.6 709.0L3559.0 704.0L3559.5 669.6L3559.9 657.1L3560.3 663.9L3560.7 670.7L3561.1 689.2L3561.5 715.8L3561.9 704.8L3562.3 697.3L3562.7 681.9L3563.1 671.8L3563.6 657.1L3564.1 667.3L3564.5 679.6L3565.0 686.3L3565.5 705.2L3565.9 714.5L3566.4 696.3L3566.8 679.1L3567.2 658.7L3567.6 672.6L3568.0 690.6L3568.4 695.7L3568.9 705.4L3569.3 703.2L3569.7 717.5L3570.0 694.8L3570.4 670.0L3570.8 658.4L3571.2 673.0L3571.7 689.2L3572.1 708.1L3572.5 725.8L3572.9 739.0L3573.3 700.4L3573.7 706.0L3574.2 688.8L3574.6 681.9L3575.0 688.8L3575.4 700.7L3575.8 720.4L3576.2 739.3L3576.6 747.3L3577.0 747.5L3577.5 740.2L3577.9 741.5L3578.3 748.8L3578.7 727.0L3579.1 712.9L3579.5 710.3L3579.9 705.1L3580.3 682.7L3580.7 700.4L3581.1 723.8L3581.6 748.8L3582.0 737.8L3582.4 729.1L3582.7 716.4L3583.1 712.8L3583.5 715.3L3583.9 652.5L3584.3 666.3L3584.7 679.6L3585.1 691.3L3585.6 681.4L3586.0 710.0L3586.4 683.2L3586.8 672.5L3587.2 655.3L3587.6 630.5L3588.0 630.7L3588.4 630.6L3588.8 630.1L3589.2 631.5L3589.6 630.2L3590.1 630.2L3590.4 729.2L3590.8 742.6L3591.3 762.7L3591.7 774.9L3592.1 772.1L3592.5 776.1L3592.9 773.7L3593.3 774.9L3593.6 699.8L3594.1 711.1L3594.5 725.7L3595.0 736.5L3595.4 713.2L3595.8 706.5L3596.3 693.0L3596.6 713.2L3597.0 725.0L3597.4 736.5L3597.8 716.9L3598.2 694.7L3598.5 659.1L3599.0 697.2L3599.5 719.4L3599.9 701.1L3600.3 674.5L3600.7 657.1L3601.1 675.8L3601.5 710.4L3601.8 622.4L3602.2 630.7L3602.6 637.2L3603.1 638.3L3603.5 620.5L3603.9 621.9L3604.4 683.2L3604.9 667.9L3605.3 658.3L3605.8 658.9L3606.2 642.8L3606.7 638.7L3607.2 665.7L3607.7 679.1L3608.1 675.9L3608.5 662.3L3608.9 654.9L3609.3 642.8L3609.7 656.5L3610.1 662.8L3610.5 659.5L3610.9 674.4L3611.3 678.6L3611.6 627.3L3612.0 629.8L3612.5 637.1L3612.9 627.9L3613.3 624.7L3613.8 629.0L3614.2 644.4L3614.6 630.9L3615.0 624.1L3615.3 621.2L3615.8 637.8L3616.2 645.4L3616.6 645.0L3617.0 645.5L3617.5 643.6L3617.8 612.2L3618.2 602.8L3618.6 598.7L3619.0 604.2L3619.4 625.5L3619.8 637.9L3620.2 637.5L3620.7 581.6L3621.1 598.3L3621.5 609.9L3621.9 622.0L3622.3 627.7L3622.7 634.6L3623.1 640.2L3623.5 622.1L3623.9 610.2L3624.3 605.7L3624.7 578.8L3625.1 575.9L3625.5 583.5L3625.9 591.3L3626.3 581.1L3626.8 596.4L3627.2 611.4L3627.6 619.9L3627.9 575.6L3628.3 581.6L3628.7 589.3L3629.2 599.0L3629.6 609.2L3630.0 619.9L3630.4 614.0L3630.8 591.5L3631.2 582.1L3631.6 568.9L3632.0 582.3L3632.4 587.3L3632.9 593.8L3633.3 613.4L3633.7 619.5L3634.1 593.4L3634.5 593.0L3634.9 581.6L3635.3 579.2L3635.7 563.7L3636.1 568.2L3636.5 576.6L3636.9 572.7L3637.3 586.7L3637.7 597.1L3638.2 547.3L3638.6 538.1L3639.0 547.5L3639.4 556.4L3639.8 544.1L3640.4 527.0L3640.8 528.9L3641.3 535.3L3641.7 541.3L3642.2 546.6L3642.7 558.4L3643.1 550.5L3643.5 551.1L3643.9 554.1L3644.4 544.2L3644.8 532.7L3645.2 539.0L3645.7 535.4L3646.1 534.2L3646.5 546.5L3646.9 558.4L3647.4 516.2L3647.8 474.1L3648.2 476.2L3648.7 473.1L3649.1 487.8L3649.6 487.3L3650.0 495.8L3650.4 512.9L3650.9 525.3L3651.3 520.3L3651.8 526.3L3652.2 515.1L3652.7 515.6L3653.1 487.5L3653.6 468.1L3654.1 455.6L3654.5 465.1L3654.9 469.0L3655.4 478.3L3655.8 469.9L3656.2 477.0L3656.7 483.7L3657.1 476.4L3657.5 489.4L3657.9 495.3L3658.4 501.3L3658.8 469.5L3659.2 449.9L3659.6 444.9L3660.0 439.6L3660.4 433.3L3660.8 431.7L3661.2 434.2L3661.6 438.7L3662.0 433.6L3662.4 437.6L3662.8 432.6L3663.3 438.3L3663.7 441.9L3664.1 449.9L3664.6 427.8L3665.0 414.7L3665.5 412.8L3666.0 403.7L3666.5 388.9L3666.9 375.6L3667.3 391.7L3667.7 392.9L3668.2 399.3L3668.6 401.5L3669.0 401.5L3669.4 392.3L3669.8 407.0L3670.3 390.2L3670.7 359.4L3671.2 355.6L3671.7 356.4L3672.2 334.5L3672.6 341.4L3673.0 345.7L3673.4 351.0L3673.8 354.9L3674.2 348.9L3674.6 354.2L3675.1 351.2L3675.5 356.6L3675.9 350.3L3676.3 347.6L3676.7 340.8L3677.1 328.4L3677.5 312.8L3677.9 319.5L3678.4 327.1L3678.8 308.9L3679.3 302.0L3679.8 298.5L3680.3 286.2L3680.7 271.3L3681.2 259.4L3681.7 259.0L3682.2 269.7L3682.6 278.5L3682.9 301.4" fill="none" stroke="#E30000" stroke-width="5.7" stroke-linejoin="bevel" shape-rendering="crispEdges"/>
<g fill="#000" clip-path="url(#pc)" shape-rendering="crispEdges"><polygon points="325.7,921.0 344.1,921.0 347.4,924.3 347.4,929.7 344.1,933.0 325.7,933.0 322.4,929.7 322.4,924.3"/><polygon points="363.2,921.0 381.6,921.0 384.9,924.3 384.9,929.7 381.6,933.0 363.2,933.0 359.9,929.7 359.9,924.3"/><polygon points="400.7,921.0 419.1,921.0 422.4,924.3 422.4,929.7 419.1,933.0 400.7,933.0 397.4,929.7 397.4,924.3"/><polygon points="438.2,921.0 456.6,921.0 459.9,924.3 459.9,929.7 456.6,933.0 438.2,933.0 434.9,929.7 434.9,924.3"/><polygon points="475.7,921.0 494.1,921.0 497.4,924.3 497.4,929.7 494.1,933.0 475.7,933.0 472.4,929.7 472.4,924.3"/><polygon points="513.2,921.0 531.6,921.0 534.9,924.3 534.9,929.7 531.6,933.0 513.2,933.0 509.9,929.7 509.9,924.3"/><polygon points="550.7,921.0 569.1,921.0 572.4,924.3 572.4,929.7 569.1,933.0 550.7,933.0 547.4,929.7 547.4,924.3"/><polygon points="588.2,921.0 606.6,921.0 609.9,924.3 609.9,929.7 606.6,933.0 588.2,933.0 584.9,929.7 584.9,924.3"/><polygon points="625.7,921.0 644.1,921.0 647.4,924.3 647.4,929.7 644.1,933.0 625.7,933.0 622.4,929.7 622.4,924.3"/><polygon points="663.2,921.0 681.6,921.0 684.9,924.3 684.9,929.7 681.6,933.0 663.2,933.0 659.9,929.7 659.9,924.3"/><polygon points="700.7,921.0 719.1,921.0 722.4,924.3 722.4,929.7 719.1,933.0 700.7,933.0 697.4,929.7 697.4,924.3"/><polygon points="738.2,921.0 756.6,921.0 759.9,924.3 759.9,929.7 756.6,933.0 738.2,933.0 734.9,929.7 734.9,924.3"/><polygon points="775.7,921.0 794.1,921.0 797.4,924.3 797.4,929.7 794.1,933.0 775.7,933.0 772.4,929.7 772.4,924.3"/><polygon points="813.2,921.0 831.6,921.0 834.9,924.3 834.9,929.7 831.6,933.0 813.2,933.0 809.9,929.7 809.9,924.3"/><polygon points="850.7,921.0 869.1,921.0 872.4,924.3 872.4,929.7 869.1,933.0 850.7,933.0 847.4,929.7 847.4,924.3"/><polygon points="888.2,921.0 906.6,921.0 909.9,924.3 909.9,929.7 906.6,933.0 888.2,933.0 884.9,929.7 884.9,924.3"/><polygon points="925.7,921.0 944.1,921.0 947.4,924.3 947.4,929.7 944.1,933.0 925.7,933.0 922.4,929.7 922.4,924.3"/><polygon points="963.2,921.0 981.6,921.0 984.9,924.3 984.9,929.7 981.6,933.0 963.2,933.0 959.9,929.7 959.9,924.3"/><polygon points="1000.7,921.0 1019.1,921.0 1022.4,924.3 1022.4,929.7 1019.1,933.0 1000.7,933.0 997.4,929.7 997.4,924.3"/><polygon points="1038.2,921.0 1056.6,921.0 1059.9,924.3 1059.9,929.7 1056.6,933.0 1038.2,933.0 1034.9,929.7 1034.9,924.3"/><polygon points="1075.7,921.0 1094.1,921.0 1097.4,924.3 1097.4,929.7 1094.1,933.0 1075.7,933.0 1072.4,929.7 1072.4,924.3"/><polygon points="1113.2,921.0 1131.6,921.0 1134.9,924.3 1134.9,929.7 1131.6,933.0 1113.2,933.0 1109.9,929.7 1109.9,924.3"/><polygon points="1150.7,921.0 1169.1,921.0 1172.4,924.3 1172.4,929.7 1169.1,933.0 1150.7,933.0 1147.4,929.7 1147.4,924.3"/><polygon points="1188.2,921.0 1206.6,921.0 1209.9,924.3 1209.9,929.7 1206.6,933.0 1188.2,933.0 1184.9,929.7 1184.9,924.3"/><polygon points="1225.7,921.0 1244.1,921.0 1247.4,924.3 1247.4,929.7 1244.1,933.0 1225.7,933.0 1222.4,929.7 1222.4,924.3"/><polygon points="1263.2,921.0 1281.6,921.0 1284.9,924.3 1284.9,929.7 1281.6,933.0 1263.2,933.0 1259.9,929.7 1259.9,924.3"/><polygon points="1300.7,921.0 1319.1,921.0 1322.4,924.3 1322.4,929.7 1319.1,933.0 1300.7,933.0 1297.4,929.7 1297.4,924.3"/><polygon points="1338.2,921.0 1356.6,921.0 1359.9,924.3 1359.9,929.7 1356.6,933.0 1338.2,933.0 1334.9,929.7 1334.9,924.3"/><polygon points="1375.7,921.0 1394.1,921.0 1397.4,924.3 1397.4,929.7 1394.1,933.0 1375.7,933.0 1372.4,929.7 1372.4,924.3"/><polygon points="1413.2,921.0 1431.6,921.0 1434.9,924.3 1434.9,929.7 1431.6,933.0 1413.2,933.0 1409.9,929.7 1409.9,924.3"/><polygon points="1450.7,921.0 1469.1,921.0 1472.4,924.3 1472.4,929.7 1469.1,933.0 1450.7,933.0 1447.4,929.7 1447.4,924.3"/><polygon points="1488.2,921.0 1506.6,921.0 1509.9,924.3 1509.9,929.7 1506.6,933.0 1488.2,933.0 1484.9,929.7 1484.9,924.3"/><polygon points="1525.7,921.0 1544.1,921.0 1547.4,924.3 1547.4,929.7 1544.1,933.0 1525.7,933.0 1522.4,929.7 1522.4,924.3"/><polygon points="1563.2,921.0 1581.6,921.0 1584.9,924.3 1584.9,929.7 1581.6,933.0 1563.2,933.0 1559.9,929.7 1559.9,924.3"/><polygon points="1600.7,921.0 1619.1,921.0 1622.4,924.3 1622.4,929.7 1619.1,933.0 1600.7,933.0 1597.4,929.7 1597.4,924.3"/><polygon points="1638.2,921.0 1656.6,921.0 1659.9,924.3 1659.9,929.7 1656.6,933.0 1638.2,933.0 1634.9,929.7 1634.9,924.3"/><polygon points="1675.7,921.0 1694.1,921.0 1697.4,924.3 1697.4,929.7 1694.1,933.0 1675.7,933.0 1672.4,929.7 1672.4,924.3"/><polygon points="1713.2,921.0 1731.6,921.0 1734.9,924.3 1734.9,929.7 1731.6,933.0 1713.2,933.0 1709.9,929.7 1709.9,924.3"/><polygon points="1750.7,921.0 1769.1,921.0 1772.4,924.3 1772.4,929.7 1769.1,933.0 1750.7,933.0 1747.4,929.7 1747.4,924.3"/><polygon points="1788.2,921.0 1806.6,921.0 1809.9,924.3 1809.9,929.7 1806.6,933.0 1788.2,933.0 1784.9,929.7 1784.9,924.3"/><polygon points="1825.7,921.0 1844.1,921.0 1847.4,924.3 1847.4,929.7 1844.1,933.0 1825.7,933.0 1822.4,929.7 1822.4,924.3"/><polygon points="1863.2,921.0 1881.6,921.0 1884.9,924.3 1884.9,929.7 1881.6,933.0 1863.2,933.0 1859.9,929.7 1859.9,924.3"/><polygon points="1900.7,921.0 1919.1,921.0 1922.4,924.3 1922.4,929.7 1919.1,933.0 1900.7,933.0 1897.4,929.7 1897.4,924.3"/><polygon points="1938.2,921.0 1956.6,921.0 1959.9,924.3 1959.9,929.7 1956.6,933.0 1938.2,933.0 1934.9,929.7 1934.9,924.3"/><polygon points="1975.7,921.0 1994.1,921.0 1997.4,924.3 1997.4,929.7 1994.1,933.0 1975.7,933.0 1972.4,929.7 1972.4,924.3"/><polygon points="2013.2,921.0 2031.6,921.0 2034.9,924.3 2034.9,929.7 2031.6,933.0 2013.2,933.0 2009.9,929.7 2009.9,924.3"/><polygon points="2050.7,921.0 2069.1,921.0 2072.4,924.3 2072.4,929.7 2069.1,933.0 2050.7,933.0 2047.4,929.7 2047.4,924.3"/><polygon points="2088.2,921.0 2106.6,921.0 2109.9,924.3 2109.9,929.7 2106.6,933.0 2088.2,933.0 2084.9,929.7 2084.9,924.3"/><polygon points="2125.7,921.0 2144.1,921.0 2147.4,924.3 2147.4,929.7 2144.1,933.0 2125.7,933.0 2122.4,929.7 2122.4,924.3"/><polygon points="2163.2,921.0 2181.6,921.0 2184.9,924.3 2184.9,929.7 2181.6,933.0 2163.2,933.0 2159.9,929.7 2159.9,924.3"/><polygon points="2200.7,921.0 2219.1,921.0 2222.4,924.3 2222.4,929.7 2219.1,933.0 2200.7,933.0 2197.4,929.7 2197.4,924.3"/><polygon points="2238.2,921.0 2256.6,921.0 2259.9,924.3 2259.9,929.7 2256.6,933.0 2238.2,933.0 2234.9,929.7 2234.9,924.3"/><polygon points="2275.7,921.0 2294.1,921.0 2297.4,924.3 2297.4,929.7 2294.1,933.0 2275.7,933.0 2272.4,929.7 2272.4,924.3"/><polygon points="2313.2,921.0 2331.6,921.0 2334.9,924.3 2334.9,929.7 2331.6,933.0 2313.2,933.0 2309.9,929.7 2309.9,924.3"/><polygon points="2350.7,921.0 2369.1,921.0 2372.4,924.3 2372.4,929.7 2369.1,933.0 2350.7,933.0 2347.4,929.7 2347.4,924.3"/><polygon points="2388.2,921.0 2406.6,921.0 2409.9,924.3 2409.9,929.7 2406.6,933.0 2388.2,933.0 2384.9,929.7 2384.9,924.3"/><polygon points="2425.7,921.0 2444.1,921.0 2447.4,924.3 2447.4,929.7 2444.1,933.0 2425.7,933.0 2422.4,929.7 2422.4,924.3"/><polygon points="2463.2,921.0 2481.6,921.0 2484.9,924.3 2484.9,929.7 2481.6,933.0 2463.2,933.0 2459.9,929.7 2459.9,924.3"/><polygon points="2500.7,921.0 2519.1,921.0 2522.4,924.3 2522.4,929.7 2519.1,933.0 2500.7,933.0 2497.4,929.7 2497.4,924.3"/><polygon points="2538.2,921.0 2556.6,921.0 2559.9,924.3 2559.9,929.7 2556.6,933.0 2538.2,933.0 2534.9,929.7 2534.9,924.3"/><polygon points="2575.7,921.0 2594.1,921.0 2597.4,924.3 2597.4,929.7 2594.1,933.0 2575.7,933.0 2572.4,929.7 2572.4,924.3"/><polygon points="2613.2,921.0 2631.6,921.0 2634.9,924.3 2634.9,929.7 2631.6,933.0 2613.2,933.0 2609.9,929.7 2609.9,924.3"/><polygon points="2650.7,921.0 2669.1,921.0 2672.4,924.3 2672.4,929.7 2669.1,933.0 2650.7,933.0 2647.4,929.7 2647.4,924.3"/><polygon points="2688.2,921.0 2706.6,921.0 2709.9,924.3 2709.9,929.7 2706.6,933.0 2688.2,933.0 2684.9,929.7 2684.9,924.3"/><polygon points="2725.7,921.0 2744.1,921.0 2747.4,924.3 2747.4,929.7 2744.1,933.0 2725.7,933.0 2722.4,929.7 2722.4,924.3"/><polygon points="2763.2,921.0 2781.6,921.0 2784.9,924.3 2784.9,929.7 2781.6,933.0 2763.2,933.0 2759.9,929.7 2759.9,924.3"/><polygon points="2800.7,921.0 2819.1,921.0 2822.4,924.3 2822.4,929.7 2819.1,933.0 2800.7,933.0 2797.4,929.7 2797.4,924.3"/><polygon points="2838.2,921.0 2856.6,921.0 2859.9,924.3 2859.9,929.7 2856.6,933.0 2838.2,933.0 2834.9,929.7 2834.9,924.3"/><polygon points="2875.7,921.0 2894.1,921.0 2897.4,924.3 2897.4,929.7 2894.1,933.0 2875.7,933.0 2872.4,929.7 2872.4,924.3"/><polygon points="2913.2,921.0 2931.6,921.0 2934.9,924.3 2934.9,929.7 2931.6,933.0 2913.2,933.0 2909.9,929.7 2909.9,924.3"/><polygon points="2950.7,921.0 2969.1,921.0 2972.4,924.3 2972.4,929.7 2969.1,933.0 2950.7,933.0 2947.4,929.7 2947.4,924.3"/><polygon points="2988.2,921.0 3006.6,921.0 3009.9,924.3 3009.9,929.7 3006.6,933.0 2988.2,933.0 2984.9,929.7 2984.9,924.3"/><polygon points="3025.7,921.0 3044.1,921.0 3047.4,924.3 3047.4,929.7 3044.1,933.0 3025.7,933.0 3022.4,929.7 3022.4,924.3"/><polygon points="3063.2,921.0 3081.6,921.0 3084.9,924.3 3084.9,929.7 3081.6,933.0 3063.2,933.0 3059.9,929.7 3059.9,924.3"/><polygon points="3100.7,921.0 3119.1,921.0 3122.4,924.3 3122.4,929.7 3119.1,933.0 3100.7,933.0 3097.4,929.7 3097.4,924.3"/><polygon points="3138.2,921.0 3156.6,921.0 3159.9,924.3 3159.9,929.7 3156.6,933.0 3138.2,933.0 3134.9,929.7 3134.9,924.3"/><polygon points="3175.7,921.0 3194.1,921.0 3197.4,924.3 3197.4,929.7 3194.1,933.0 3175.7,933.0 3172.4,929.7 3172.4,924.3"/><polygon points="3213.2,921.0 3231.6,921.0 3234.9,924.3 3234.9,929.7 3231.6,933.0 3213.2,933.0 3209.9,929.7 3209.9,924.3"/><polygon points="3250.7,921.0 3269.1,921.0 3272.4,924.3 3272.4,929.7 3269.1,933.0 3250.7,933.0 3247.4,929.7 3247.4,924.3"/><polygon points="3288.2,921.0 3306.6,921.0 3309.9,924.3 3309.9,929.7 3306.6,933.0 3288.2,933.0 3284.9,929.7 3284.9,924.3"/><polygon points="3325.7,921.0 3344.1,921.0 3347.4,924.3 3347.4,929.7 3344.1,933.0 3325.7,933.0 3322.4,929.7 3322.4,924.3"/><polygon points="3363.2,921.0 3381.6,921.0 3384.9,924.3 3384.9,929.7 3381.6,933.0 3363.2,933.0 3359.9,929.7 3359.9,924.3"/><polygon points="3400.7,921.0 3419.1,921.0 3422.4,924.3 3422.4,929.7 3419.1,933.0 3400.7,933.0 3397.4,929.7 3397.4,924.3"/><polygon points="3438.2,921.0 3456.6,921.0 3459.9,924.3 3459.9,929.7 3456.6,933.0 3438.2,933.0 3434.9,929.7 3434.9,924.3"/><polygon points="3475.7,921.0 3494.1,921.0 3497.4,924.3 3497.4,929.7 3494.1,933.0 3475.7,933.0 3472.4,929.7 3472.4,924.3"/><polygon points="3513.2,921.0 3531.6,921.0 3534.9,924.3 3534.9,929.7 3531.6,933.0 3513.2,933.0 3509.9,929.7 3509.9,924.3"/><polygon points="3550.7,921.0 3569.1,921.0 3572.4,924.3 3572.4,929.7 3569.1,933.0 3550.7,933.0 3547.4,929.7 3547.4,924.3"/><polygon points="3588.2,921.0 3606.6,921.0 3609.9,924.3 3609.9,929.7 3606.6,933.0 3588.2,933.0 3584.9,929.7 3584.9,924.3"/><polygon points="3625.7,921.0 3644.1,921.0 3647.4,924.3 3647.4,929.7 3644.1,933.0 3625.7,933.0 3622.4,929.7 3622.4,924.3"/><polygon points="3663.2,921.0 3681.6,921.0 3684.9,924.3 3684.9,929.7 3681.6,933.0 3663.2,933.0 3659.9,929.7 3659.9,924.3"/></g>
<rect x="319" y="50" width="6" height="1584" fill="#ABABAB" shape-rendering="crispEdges"/>
<rect x="319" y="1628" width="3369" height="6" fill="#ABABAB" shape-rendering="crispEdges"/>
<rect x="288" y="93" width="32" height="6" fill="#ABABAB" shape-rendering="crispEdges"/>
<text transform="translate(255.6 119.5) scale(1 1.068)" text-anchor="end" class="t">140</text>
<rect x="288" y="306" width="32" height="6" fill="#ABABAB" shape-rendering="crispEdges"/>
<text transform="translate(255.6 332.8) scale(1 1.068)" text-anchor="end" class="t">130</text>
<rect x="288" y="520" width="32" height="6" fill="#ABABAB" shape-rendering="crispEdges"/>
<text transform="translate(255.6 546.0) scale(1 1.068)" text-anchor="end" class="t">120</text>
<rect x="288" y="733" width="32" height="6" fill="#ABABAB" shape-rendering="crispEdges"/>
<text transform="translate(255.6 759.3) scale(1 1.068)" text-anchor="end" class="t">110</text>
<rect x="288" y="946" width="32" height="6" fill="#ABABAB" shape-rendering="crispEdges"/>
<text transform="translate(255.6 972.5) scale(1 1.068)" text-anchor="end" class="t">100</text>
<rect x="288" y="1159" width="32" height="6" fill="#ABABAB" shape-rendering="crispEdges"/>
<text transform="translate(255.6 1185.8) scale(1 1.068)" text-anchor="end" class="t">90</text>
<rect x="288" y="1373" width="32" height="6" fill="#ABABAB" shape-rendering="crispEdges"/>
<text transform="translate(255.6 1399.1) scale(1 1.068)" text-anchor="end" class="t">80</text>
<rect x="288" y="1586" width="32" height="6" fill="#ABABAB" shape-rendering="crispEdges"/>
<text transform="translate(255.6 1612.3) scale(1 1.068)" text-anchor="end" class="t">70</text>
<rect x="539" y="1633" width="6" height="33" fill="#ABABAB" shape-rendering="crispEdges"/>
<text transform="translate(542.0 1741.1) scale(1 1.068)" text-anchor="middle" class="t">1998</text>
<rect x="763" y="1633" width="6" height="33" fill="#ABABAB" shape-rendering="crispEdges"/>
<text transform="translate(765.8 1741.1) scale(1 1.068)" text-anchor="middle" class="t">2000</text>
<rect x="987" y="1633" width="6" height="33" fill="#ABABAB" shape-rendering="crispEdges"/>
<text transform="translate(989.5 1741.1) scale(1 1.068)" text-anchor="middle" class="t">2002</text>
<rect x="1210" y="1633" width="6" height="33" fill="#ABABAB" shape-rendering="crispEdges"/>
<text transform="translate(1213.3 1741.1) scale(1 1.068)" text-anchor="middle" class="t">2004</text>
<rect x="1434" y="1633" width="6" height="33" fill="#ABABAB" shape-rendering="crispEdges"/>
<text transform="translate(1437.0 1741.1) scale(1 1.068)" text-anchor="middle" class="t">2006</text>
<rect x="1658" y="1633" width="6" height="33" fill="#ABABAB" shape-rendering="crispEdges"/>
<text transform="translate(1660.8 1741.1) scale(1 1.068)" text-anchor="middle" class="t">2008</text>
<rect x="1882" y="1633" width="6" height="33" fill="#ABABAB" shape-rendering="crispEdges"/>
<text transform="translate(1884.6 1741.1) scale(1 1.068)" text-anchor="middle" class="t">2010</text>
<rect x="2105" y="1633" width="6" height="33" fill="#ABABAB" shape-rendering="crispEdges"/>
<text transform="translate(2108.3 1741.1) scale(1 1.068)" text-anchor="middle" class="t">2012</text>
<rect x="2329" y="1633" width="6" height="33" fill="#ABABAB" shape-rendering="crispEdges"/>
<text transform="translate(2332.1 1741.1) scale(1 1.068)" text-anchor="middle" class="t">2014</text>
<rect x="2553" y="1633" width="6" height="33" fill="#ABABAB" shape-rendering="crispEdges"/>
<text transform="translate(2555.8 1741.1) scale(1 1.068)" text-anchor="middle" class="t">2016</text>
<rect x="2777" y="1633" width="6" height="33" fill="#ABABAB" shape-rendering="crispEdges"/>
<text transform="translate(2779.6 1741.1) scale(1 1.068)" text-anchor="middle" class="t">2018</text>
<rect x="3000" y="1633" width="6" height="33" fill="#ABABAB" shape-rendering="crispEdges"/>
<text transform="translate(3003.4 1741.1) scale(1 1.068)" text-anchor="middle" class="t">2020</text>
<rect x="3224" y="1633" width="6" height="33" fill="#ABABAB" shape-rendering="crispEdges"/>
<text transform="translate(3227.1 1741.1) scale(1 1.068)" text-anchor="middle" class="t">2022</text>
<rect x="3448" y="1633" width="6" height="33" fill="#ABABAB" shape-rendering="crispEdges"/>
<text transform="translate(3450.9 1741.1) scale(1 1.068)" text-anchor="middle" class="t">2024</text>
<rect x="3672" y="1633" width="6" height="33" fill="#ABABAB" shape-rendering="crispEdges"/>
<text transform="translate(3674.6 1741.1) scale(1 1.068)" text-anchor="middle" class="t">2026</text>
<text transform="translate(113 841.8) rotate(-90) scale(1 1.068)" text-anchor="middle" class="u">Rebased to 100 @ -30YRs</text>
<g fill="#000" shape-rendering="crispEdges"><polygon points="63.3,1859.0 81.7,1859.0 85.0,1862.3 85.0,1868.7 81.7,1872.0 63.3,1872.0 60.0,1868.7 60.0,1862.3"/><polygon points="100.8,1859.0 119.2,1859.0 122.5,1862.3 122.5,1868.7 119.2,1872.0 100.8,1872.0 97.5,1868.7 97.5,1862.3"/><polygon points="138.3,1859.0 156.7,1859.0 160.0,1862.3 160.0,1868.7 156.7,1872.0 138.3,1872.0 135.0,1868.7 135.0,1862.3"/></g>
<text transform="translate(174.5 1888) scale(1 1.068)" text-anchor="start" class="u">30YR Avg</text>
<rect x="63" y="1966" width="94" height="6" fill="#E30000" shape-rendering="crispEdges"/>
<text transform="translate(174.5 1992.3) scale(1 1.068)" text-anchor="start" class="u">Equally-weighted basket of AUD &amp; SEK vs. JPY</text>
<rect x="85" y="2049" width="50" height="50" fill="#D9D9D9" shape-rendering="crispEdges"/>
<text transform="translate(174.5 2097) scale(1 1.068)" text-anchor="start" class="u">+/- 2 standard deviations</text>
</svg>
</body></html>
